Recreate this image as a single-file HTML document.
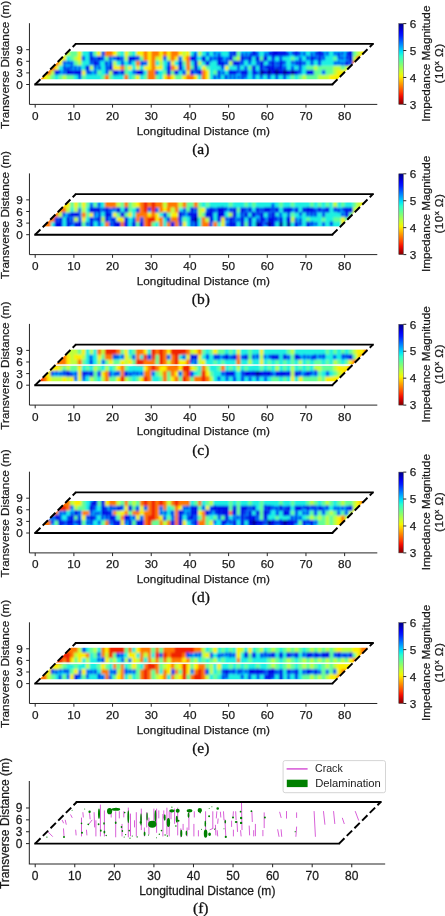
<!DOCTYPE html>
<html><head><meta charset="utf-8"><style>
html,body{margin:0;padding:0;background:#fff;}
svg{display:block;will-change:transform;}
.t{font-family:"Liberation Sans",sans-serif;font-size:11.75px;fill:#1a1a1a;stroke:#1a1a1a;stroke-width:0.25px;}
.c{font-family:"Liberation Serif",serif;font-size:15.5px;fill:#111;stroke:#111;stroke-width:0.3px;}
.lg{font-family:"Liberation Sans",sans-serif;font-size:10.2px;fill:#1a1a1a;}
</style></head><body>
<svg width="445" height="916" viewBox="0 0 445 916">
<defs><linearGradient id="cb" x1="0" y1="0" x2="0" y2="1"><stop offset="0.000" stop-color="#000080"/><stop offset="0.050" stop-color="#0000b9"/><stop offset="0.100" stop-color="#0000f3"/><stop offset="0.150" stop-color="#0019ff"/><stop offset="0.200" stop-color="#004dff"/><stop offset="0.250" stop-color="#0080ff"/><stop offset="0.300" stop-color="#00b2ff"/><stop offset="0.350" stop-color="#00e5f7"/><stop offset="0.400" stop-color="#29ffce"/><stop offset="0.450" stop-color="#52ffa5"/><stop offset="0.500" stop-color="#7bff7b"/><stop offset="0.550" stop-color="#a5ff52"/><stop offset="0.600" stop-color="#ceff29"/><stop offset="0.650" stop-color="#f7f600"/><stop offset="0.700" stop-color="#ffc600"/><stop offset="0.750" stop-color="#ff9700"/><stop offset="0.800" stop-color="#ff6800"/><stop offset="0.850" stop-color="#ff3900"/><stop offset="0.900" stop-color="#f30900"/><stop offset="0.950" stop-color="#b90000"/><stop offset="1.000" stop-color="#800000"/></linearGradient><filter id="bl" x="-5%" y="-20%" width="110%" height="140%"><feGaussianBlur stdDeviation="0.8 1.0"/></filter></defs>
<g transform="translate(35.2,84.5)"><clipPath id="cl0"><polygon points="5.0,-5.0 302.1,-5.0 330.1,-33.1 33.1,-33.1"/></clipPath>
<g clip-path="url(#cl0)"><g filter="url(#bl)">
<path fill="rgb(190,255,60)" d="M-3 -36.1H35.1V-28.1H-3zM147 -36.1H151.2V-28.1H147zM162.5 -36.1H166.6V-28.1H162.5zM321 -36.1H325.2V-28.1H321zM38.7 -28.4H42.8V-23.4H38.7zM89 -28.4H93.1V-23.4H89zM119.9 -28.4H124.1V-23.4H119.9zM131.5 -28.4H135.7V-23.4H131.5zM201.1 -28.4H205.3V-23.4H201.1zM317.2 -28.4H321.3V-23.4H317.2zM42.5 -23.7H46.7V-18.8H42.5zM77.4 -23.7H81.5V-18.8H77.4zM123.8 -23.7H127.9V-18.8H123.8zM162.5 -23.7H166.6V-18.8H162.5zM193.4 -23.7H197.6V-18.8H193.4zM54.2 -19.1H58.3V-14.1H54.2zM278.5 -19.1H282.7V-14.1H278.5zM297.8 -19.1H305.9V-14.1H297.8zM309.4 -19.1H313.6V-14.1H309.4zM15.5 -14.4H19.6V-9.4H15.5zM73.5 -14.4H77.7V-9.4H73.5zM297.8 -14.4H302V-9.4H297.8zM11.6 -9.7H15.8V-1.7H11.6zM27.1 -9.7H31.2V-1.7H27.1zM266.9 -9.7H271.1V-1.7H266.9zM282.4 -9.7H294.3V-1.7H282.4z"/>
<path fill="rgb(100,255,150)" d="M34.8 -36.1H42.8V-28.1H34.8zM58 -36.1H62.2V-28.1H58zM81.2 -36.1H85.4V-28.1H81.2zM92.8 -36.1H97V-28.1H92.8zM201.1 -36.1H205.3V-28.1H201.1zM317.2 -36.1H321.3V-28.1H317.2zM34.8 -28.4H39V-23.4H34.8zM69.6 -28.4H73.8V-23.4H69.6zM104.4 -28.4H108.6V-23.4H104.4zM197.3 -28.4H201.4V-23.4H197.3zM224.3 -28.4H228.5V-23.4H224.3zM255.3 -28.4H259.5V-23.4H255.3zM297.8 -28.4H302V-23.4H297.8zM38.7 -23.7H42.8V-18.8H38.7zM147 -23.7H151.2V-18.8H147zM89 -19.1H93.1V-14.1H89zM154.7 -19.1H158.9V-14.1H154.7zM170.2 -19.1H174.4V-14.1H170.2zM212.7 -19.1H216.9V-14.1H212.7zM270.8 -19.1H278.8V-14.1H270.8zM282.4 -19.1H298.1V-14.1H282.4zM305.6 -19.1H309.7V-14.1H305.6zM61.9 -14.4H66.1V-9.4H61.9zM89 -14.4H93.1V-9.4H89zM127.6 -14.4H131.8V-9.4H127.6zM135.4 -14.4H139.5V-9.4H135.4zM177.9 -14.4H182.1V-9.4H177.9zM278.5 -14.4H286.5V-9.4H278.5zM290.1 -14.4H298.1V-9.4H290.1zM15.5 -9.7H19.6V-1.7H15.5zM23.2 -9.7H27.4V-1.7H23.2zM30.9 -9.7H39V-1.7H30.9zM46.4 -9.7H50.6V-1.7H46.4zM65.8 -9.7H69.9V-1.7H65.8zM73.5 -9.7H77.7V-1.7H73.5zM96.7 -9.7H100.9V-1.7H96.7zM108.3 -9.7H112.5V-1.7H108.3zM119.9 -9.7H124.1V-1.7H119.9zM139.2 -9.7H147.3V-1.7H139.2zM255.3 -9.7H259.5V-1.7H255.3zM263 -9.7H267.2V-1.7H263zM270.8 -9.7H282.7V-1.7H270.8z"/>
<path fill="rgb(250,240,0)" d="M42.5 -36.1H46.7V-28.1H42.5zM61.9 -36.1H66.1V-28.1H61.9zM77.4 -36.1H81.5V-28.1H77.4zM89 -36.1H93.1V-28.1H89zM100.6 -36.1H108.6V-28.1H100.6zM112.2 -36.1H116.3V-28.1H112.2zM123.8 -36.1H127.9V-28.1H123.8zM131.5 -36.1H135.7V-28.1H131.5zM143.1 -36.1H147.3V-28.1H143.1zM150.9 -36.1H155V-28.1H150.9zM324.9 -36.1H346.7V-28.1H324.9zM-3 -28.4H31.2V-23.4H-3zM42.5 -28.4H46.7V-23.4H42.5zM112.2 -28.4H116.3V-23.4H112.2zM123.8 -28.4H127.9V-23.4H123.8zM139.2 -28.4H143.4V-23.4H139.2zM147 -28.4H151.2V-23.4H147zM23.2 -23.7H27.4V-18.8H23.2zM112.2 -23.7H116.3V-18.8H112.2zM135.4 -23.7H139.5V-18.8H135.4zM19.3 -19.1H23.5V-14.1H19.3zM77.4 -19.1H85.4V-14.1H77.4zM92.8 -19.1H97V-14.1H92.8zM100.6 -19.1H104.7V-14.1H100.6zM108.3 -19.1H116.3V-14.1H108.3zM119.9 -19.1H127.9V-14.1H119.9zM139.2 -19.1H143.4V-14.1H139.2zM166.3 -19.1H170.5V-14.1H166.3zM189.5 -19.1H193.7V-14.1H189.5zM313.3 -19.1H346.7V-14.1H313.3zM46.4 -14.4H50.6V-9.4H46.4zM150.9 -14.4H155V-9.4H150.9zM170.2 -14.4H174.4V-9.4H170.2zM301.7 -14.4H346.7V-9.4H301.7zM7.7 -9.7H11.9V-1.7H7.7zM100.6 -9.7H104.7V-1.7H100.6zM127.6 -9.7H131.8V-1.7H127.6zM135.4 -9.7H139.5V-1.7H135.4zM147 -9.7H151.2V-1.7H147zM158.6 -9.7H162.8V-1.7H158.6zM170.2 -9.7H174.4V-1.7H170.2zM294 -9.7H346.7V-1.7H294z"/>
<path fill="rgb(30,240,225)" d="M46.4 -36.1H54.5V-28.1H46.4zM85.1 -36.1H89.3V-28.1H85.1zM96.7 -36.1H100.9V-28.1H96.7zM154.7 -36.1H158.9V-28.1H154.7zM166.3 -36.1H170.5V-28.1H166.3zM174.1 -36.1H178.2V-28.1H174.1zM185.7 -36.1H193.7V-28.1H185.7zM224.3 -36.1H228.5V-28.1H224.3zM270.8 -36.1H274.9V-28.1H270.8zM294 -36.1H298.1V-28.1H294zM30.9 -28.4H35.1V-23.4H30.9zM50.3 -28.4H54.5V-23.4H50.3zM162.5 -28.4H166.6V-23.4H162.5zM170.2 -28.4H174.4V-23.4H170.2zM216.6 -28.4H220.8V-23.4H216.6zM232.1 -28.4H236.2V-23.4H232.1zM239.8 -28.4H244V-23.4H239.8zM247.6 -28.4H255.6V-23.4H247.6zM259.2 -28.4H263.3V-23.4H259.2zM266.9 -28.4H271.1V-23.4H266.9zM290.1 -28.4H298.1V-23.4H290.1zM46.4 -23.7H54.5V-18.8H46.4zM65.8 -23.7H69.9V-18.8H65.8zM81.2 -23.7H85.4V-18.8H81.2zM89 -23.7H93.1V-18.8H89zM96.7 -23.7H100.9V-18.8H96.7zM119.9 -23.7H124.1V-18.8H119.9zM127.6 -23.7H131.8V-18.8H127.6zM139.2 -23.7H143.4V-18.8H139.2zM154.7 -23.7H158.9V-18.8H154.7zM166.3 -23.7H170.5V-18.8H166.3zM174.1 -23.7H182.1V-18.8H174.1zM208.9 -23.7H213V-18.8H208.9zM216.6 -23.7H220.8V-18.8H216.6zM228.2 -23.7H232.4V-18.8H228.2zM251.4 -23.7H255.6V-18.8H251.4zM270.8 -23.7H274.9V-18.8H270.8zM278.5 -23.7H282.7V-18.8H278.5zM286.2 -23.7H298.1V-18.8H286.2zM23.2 -19.1H27.4V-14.1H23.2zM46.4 -19.1H50.6V-14.1H46.4zM65.8 -19.1H69.9V-14.1H65.8zM96.7 -19.1H100.9V-14.1H96.7zM104.4 -19.1H108.6V-14.1H104.4zM127.6 -19.1H131.8V-14.1H127.6zM147 -19.1H151.2V-14.1H147zM162.5 -19.1H166.6V-14.1H162.5zM174.1 -19.1H186V-14.1H174.1zM193.4 -19.1H201.4V-14.1H193.4zM205 -19.1H209.2V-14.1H205zM220.5 -19.1H224.6V-14.1H220.5zM251.4 -19.1H255.6V-14.1H251.4zM259.2 -19.1H263.3V-14.1H259.2zM266.9 -19.1H271.1V-14.1H266.9zM65.8 -14.4H69.9V-9.4H65.8zM92.8 -14.4H97V-9.4H92.8zM108.3 -14.4H112.5V-9.4H108.3zM123.8 -14.4H127.9V-9.4H123.8zM143.1 -14.4H147.3V-9.4H143.1zM174.1 -14.4H178.2V-9.4H174.1zM189.5 -14.4H193.7V-9.4H189.5zM212.7 -14.4H216.9V-9.4H212.7zM266.9 -14.4H271.1V-9.4H266.9zM19.3 -9.7H23.5V-1.7H19.3zM38.7 -9.7H42.8V-1.7H38.7zM50.3 -9.7H66.1V-1.7H50.3zM77.4 -9.7H89.3V-1.7H77.4zM92.8 -9.7H97V-1.7H92.8zM104.4 -9.7H108.6V-1.7H104.4zM123.8 -9.7H127.9V-1.7H123.8zM162.5 -9.7H166.6V-1.7H162.5zM174.1 -9.7H178.2V-1.7H174.1zM185.7 -9.7H189.8V-1.7H185.7zM212.7 -9.7H216.9V-1.7H212.7zM220.5 -9.7H224.6V-1.7H220.5zM228.2 -9.7H232.4V-1.7H228.2zM235.9 -9.7H240.1V-1.7H235.9zM243.7 -9.7H247.9V-1.7H243.7zM251.4 -9.7H255.6V-1.7H251.4zM259.2 -9.7H263.3V-1.7H259.2z"/>
<path fill="rgb(0,215,255)" d="M54.2 -36.1H58.3V-28.1H54.2zM65.8 -36.1H69.9V-28.1H65.8zM158.6 -36.1H162.8V-28.1H158.6zM170.2 -36.1H174.4V-28.1H170.2zM177.9 -36.1H186V-28.1H177.9zM193.4 -36.1H197.6V-28.1H193.4zM205 -36.1H216.9V-28.1H205zM220.5 -36.1H224.6V-28.1H220.5zM228.2 -36.1H236.2V-28.1H228.2zM251.4 -36.1H259.5V-28.1H251.4zM263 -36.1H271.1V-28.1H263zM274.6 -36.1H282.7V-28.1H274.6zM286.2 -36.1H294.3V-28.1H286.2zM297.8 -36.1H313.6V-28.1H297.8zM46.4 -28.4H50.6V-23.4H46.4zM58 -28.4H62.2V-23.4H58zM65.8 -28.4H69.9V-23.4H65.8zM73.5 -28.4H81.5V-23.4H73.5zM85.1 -28.4H89.3V-23.4H85.1zM100.6 -28.4H104.7V-23.4H100.6zM127.6 -28.4H131.8V-23.4H127.6zM143.1 -28.4H147.3V-23.4H143.1zM158.6 -28.4H162.8V-23.4H158.6zM174.1 -28.4H182.1V-23.4H174.1zM185.7 -28.4H193.7V-23.4H185.7zM208.9 -28.4H213V-23.4H208.9zM235.9 -28.4H240.1V-23.4H235.9zM243.7 -28.4H247.9V-23.4H243.7zM263 -28.4H267.2V-23.4H263zM270.8 -28.4H274.9V-23.4H270.8zM278.5 -28.4H282.7V-23.4H278.5zM286.2 -28.4H290.4V-23.4H286.2zM301.7 -28.4H313.6V-23.4H301.7zM27.1 -23.7H39V-18.8H27.1zM54.2 -23.7H58.3V-18.8H54.2zM61.9 -23.7H66.1V-18.8H61.9zM69.6 -23.7H77.7V-18.8H69.6zM85.1 -23.7H89.3V-18.8H85.1zM92.8 -23.7H97V-18.8H92.8zM104.4 -23.7H112.5V-18.8H104.4zM131.5 -23.7H135.7V-18.8H131.5zM189.5 -23.7H193.7V-18.8H189.5zM205 -23.7H209.2V-18.8H205zM212.7 -23.7H216.9V-18.8H212.7zM220.5 -23.7H224.6V-18.8H220.5zM232.1 -23.7H236.2V-18.8H232.1zM239.8 -23.7H244V-18.8H239.8zM247.6 -23.7H251.7V-18.8H247.6zM255.3 -23.7H263.3V-18.8H255.3zM266.9 -23.7H271.1V-18.8H266.9zM274.6 -23.7H278.8V-18.8H274.6zM282.4 -23.7H286.5V-18.8H282.4zM297.8 -23.7H309.7V-18.8H297.8zM313.3 -23.7H317.5V-18.8H313.3zM27.1 -19.1H46.7V-14.1H27.1zM58 -19.1H66.1V-14.1H58zM69.6 -19.1H73.8V-14.1H69.6zM185.7 -19.1H189.8V-14.1H185.7zM201.1 -19.1H205.3V-14.1H201.1zM208.9 -19.1H213V-14.1H208.9zM228.2 -19.1H232.4V-14.1H228.2zM239.8 -19.1H244V-14.1H239.8zM247.6 -19.1H251.7V-14.1H247.6zM255.3 -19.1H259.5V-14.1H255.3zM263 -19.1H267.2V-14.1H263zM23.2 -14.4H31.2V-9.4H23.2zM50.3 -14.4H62.2V-9.4H50.3zM69.6 -14.4H73.8V-9.4H69.6zM81.2 -14.4H85.4V-9.4H81.2zM96.7 -14.4H100.9V-9.4H96.7zM119.9 -14.4H124.1V-9.4H119.9zM147 -14.4H151.2V-9.4H147zM158.6 -14.4H162.8V-9.4H158.6zM181.8 -14.4H189.8V-9.4H181.8zM201.1 -14.4H205.3V-9.4H201.1zM220.5 -14.4H224.6V-9.4H220.5zM263 -14.4H267.2V-9.4H263zM286.2 -14.4H290.4V-9.4H286.2zM42.5 -9.7H46.7V-1.7H42.5zM177.9 -9.7H186V-1.7H177.9zM189.5 -9.7H213V-1.7H189.5zM216.6 -9.7H220.8V-1.7H216.6zM224.3 -9.7H228.5V-1.7H224.3zM232.1 -9.7H236.2V-1.7H232.1zM239.8 -9.7H244V-1.7H239.8zM247.6 -9.7H251.7V-1.7H247.6z"/>
<path fill="rgb(255,120,0)" d="M69.6 -36.1H77.7V-28.1H69.6zM108.3 -36.1H112.5V-28.1H108.3zM116 -36.1H124.1V-28.1H116zM127.6 -36.1H131.8V-28.1H127.6zM135.4 -36.1H143.4V-28.1H135.4zM108.3 -28.4H112.5V-23.4H108.3zM116 -28.4H120.2V-23.4H116zM135.4 -28.4H139.5V-23.4H135.4zM150.9 -28.4H155V-23.4H150.9zM321 -28.4H346.7V-23.4H321zM-3 -23.7H23.5V-18.8H-3zM100.6 -23.7H104.7V-18.8H100.6zM116 -23.7H120.2V-18.8H116zM150.9 -23.7H155V-18.8H150.9zM317.2 -23.7H346.7V-18.8H317.2zM-3 -19.1H19.6V-14.1H-3zM85.1 -19.1H89.3V-14.1H85.1zM116 -19.1H120.2V-14.1H116zM135.4 -19.1H139.5V-14.1H135.4zM150.9 -19.1H155V-14.1H150.9zM-3 -14.4H15.8V-9.4H-3zM112.2 -14.4H120.2V-9.4H112.2zM166.3 -14.4H170.5V-9.4H166.3zM-3 -9.7H8V-1.7H-3zM69.6 -9.7H73.8V-1.7H69.6zM89 -9.7H93.1V-1.7H89zM112.2 -9.7H120.2V-1.7H112.2zM131.5 -9.7H135.7V-1.7H131.5zM150.9 -9.7H158.9V-1.7H150.9zM166.3 -9.7H170.5V-1.7H166.3z"/>
<path fill="rgb(0,50,245)" d="M197.3 -36.1H201.4V-28.1H197.3zM216.6 -36.1H220.8V-28.1H216.6zM235.9 -36.1H251.7V-28.1H235.9zM259.2 -36.1H263.3V-28.1H259.2zM282.4 -36.1H286.5V-28.1H282.4zM313.3 -36.1H317.5V-28.1H313.3zM54.2 -28.4H58.3V-23.4H54.2zM61.9 -28.4H66.1V-23.4H61.9zM81.2 -28.4H85.4V-23.4H81.2zM92.8 -28.4H100.9V-23.4H92.8zM154.7 -28.4H158.9V-23.4H154.7zM166.3 -28.4H170.5V-23.4H166.3zM181.8 -28.4H186V-23.4H181.8zM193.4 -28.4H197.6V-23.4H193.4zM205 -28.4H209.2V-23.4H205zM212.7 -28.4H216.9V-23.4H212.7zM220.5 -28.4H224.6V-23.4H220.5zM228.2 -28.4H232.4V-23.4H228.2zM274.6 -28.4H278.8V-23.4H274.6zM282.4 -28.4H286.5V-23.4H282.4zM313.3 -28.4H317.5V-23.4H313.3zM58 -23.7H62.2V-18.8H58zM143.1 -23.7H147.3V-18.8H143.1zM158.6 -23.7H162.8V-18.8H158.6zM170.2 -23.7H174.4V-18.8H170.2zM181.8 -23.7H189.8V-18.8H181.8zM197.3 -23.7H205.3V-18.8H197.3zM224.3 -23.7H228.5V-18.8H224.3zM235.9 -23.7H240.1V-18.8H235.9zM243.7 -23.7H247.9V-18.8H243.7zM263 -23.7H267.2V-18.8H263zM309.4 -23.7H313.6V-18.8H309.4zM50.3 -19.1H54.5V-14.1H50.3zM73.5 -19.1H77.7V-14.1H73.5zM131.5 -19.1H135.7V-14.1H131.5zM143.1 -19.1H147.3V-14.1H143.1zM158.6 -19.1H162.8V-14.1H158.6zM216.6 -19.1H220.8V-14.1H216.6zM224.3 -19.1H228.5V-14.1H224.3zM232.1 -19.1H240.1V-14.1H232.1zM243.7 -19.1H247.9V-14.1H243.7zM19.3 -14.4H23.5V-9.4H19.3zM30.9 -14.4H46.7V-9.4H30.9zM77.4 -14.4H81.5V-9.4H77.4zM85.1 -14.4H89.3V-9.4H85.1zM100.6 -14.4H108.6V-9.4H100.6zM131.5 -14.4H135.7V-9.4H131.5zM139.2 -14.4H143.4V-9.4H139.2zM154.7 -14.4H158.9V-9.4H154.7zM162.5 -14.4H166.6V-9.4H162.5zM193.4 -14.4H201.4V-9.4H193.4zM205 -14.4H213V-9.4H205zM216.6 -14.4H220.8V-9.4H216.6zM228.2 -14.4H232.4V-9.4H228.2zM235.9 -14.4H240.1V-9.4H235.9zM243.7 -14.4H247.9V-9.4H243.7zM251.4 -14.4H255.6V-9.4H251.4zM259.2 -14.4H263.3V-9.4H259.2zM270.8 -14.4H278.8V-9.4H270.8z"/>
<path fill="rgb(0,10,190)" d="M224.3 -14.4H228.5V-9.4H224.3zM232.1 -14.4H236.2V-9.4H232.1zM239.8 -14.4H244V-9.4H239.8zM247.6 -14.4H251.7V-9.4H247.6zM255.3 -14.4H259.5V-9.4H255.3z"/>
<path fill="rgb(0,25,235)" d="M54.3 -30.5a1.5 2.3 0 1 0 2.9 0a1.5 2.3 0 1 0 -2.9 0zM66.5 -30.7a1.5 2.3 0 1 0 2.9 0a1.5 2.3 0 1 0 -2.9 0zM158.6 -30.2a1.5 2 0 1 0 2.9 0a1.5 2 0 1 0 -2.9 0zM171.1 -30.4a1.4 2.1 0 1 0 2.9 0a1.4 2.1 0 1 0 -2.9 0zM178.2 -30.9a1.4 2 0 1 0 2.8 0a1.4 2 0 1 0 -2.8 0zM182.3 -30.2a1.6 2 0 1 0 3.2 0a1.6 2 0 1 0 -3.2 0zM193.8 -31.1a1.6 2.3 0 1 0 3.1 0a1.6 2.3 0 1 0 -3.1 0zM205.7 -30.3a1.5 2 0 1 0 3 0a1.5 2 0 1 0 -3 0zM209.8 -30.6a1.4 2.1 0 1 0 2.8 0a1.4 2.1 0 1 0 -2.8 0zM213.7 -30.2a1.4 2.2 0 1 0 2.8 0a1.4 2.2 0 1 0 -2.8 0zM220.7 -30.9a1.5 2.2 0 1 0 3 0a1.5 2.2 0 1 0 -3 0zM229.1 -30.4a1.4 2.1 0 1 0 2.9 0a1.4 2.1 0 1 0 -2.9 0zM232.8 -31a1.6 2.2 0 1 0 3.1 0a1.6 2.2 0 1 0 -3.1 0zM251.6 -30.6a1.4 2.2 0 1 0 2.9 0a1.4 2.2 0 1 0 -2.9 0zM256 -31.3a1.5 2.1 0 1 0 3 0a1.5 2.1 0 1 0 -3 0zM263.2 -30.9a1.4 2.3 0 1 0 2.9 0a1.4 2.3 0 1 0 -2.9 0zM267.5 -30.8a1.5 2.2 0 1 0 3 0a1.5 2.2 0 1 0 -3 0zM275.1 -30.4a1.5 2 0 1 0 3 0a1.5 2 0 1 0 -3 0zM279.4 -31a1.4 2 0 1 0 2.7 0a1.4 2 0 1 0 -2.7 0zM286.2 -30.7a1.6 2.1 0 1 0 3.1 0a1.6 2.1 0 1 0 -3.1 0zM290.6 -31.1a1.4 2.1 0 1 0 2.9 0a1.4 2.1 0 1 0 -2.9 0zM298.4 -31.1a1.4 2 0 1 0 2.8 0a1.4 2 0 1 0 -2.8 0zM302 -30.2a1.6 2.2 0 1 0 3.1 0a1.6 2.2 0 1 0 -3.1 0zM306 -31.1a1.4 2.2 0 1 0 2.8 0a1.4 2.2 0 1 0 -2.8 0zM310.4 -31a1.4 2.1 0 1 0 2.9 0a1.4 2.1 0 1 0 -2.9 0zM46.7 -26.3a1.4 2 0 1 0 2.7 0a1.4 2 0 1 0 -2.7 0zM58.3 -25.8a1.5 2.1 0 1 0 3 0a1.5 2.1 0 1 0 -3 0zM66 -25.6a1.5 2 0 1 0 3.1 0a1.5 2 0 1 0 -3.1 0zM73.4 -26a1.5 2.2 0 1 0 3 0a1.5 2.2 0 1 0 -3 0zM77.5 -26.4a1.4 2.1 0 1 0 2.9 0a1.4 2.1 0 1 0 -2.9 0zM85.7 -25.9a1.5 2 0 1 0 3 0a1.5 2 0 1 0 -3 0zM101.2 -26.6a1.6 2 0 1 0 3.1 0a1.6 2 0 1 0 -3.1 0zM128.2 -26.5a1.4 2 0 1 0 2.7 0a1.4 2 0 1 0 -2.7 0zM143.1 -26a1.5 2 0 1 0 3 0a1.5 2 0 1 0 -3 0zM158.6 -26.2a1.6 2.2 0 1 0 3.1 0a1.6 2.2 0 1 0 -3.1 0zM174 -25.6a1.6 2.3 0 1 0 3.1 0a1.6 2.3 0 1 0 -3.1 0zM178.1 -26.2a1.5 2.3 0 1 0 3.1 0a1.5 2.3 0 1 0 -3.1 0zM185.7 -26.1a1.5 2 0 1 0 3 0a1.5 2 0 1 0 -3 0zM190.1 -25.6a1.4 2 0 1 0 2.8 0a1.4 2 0 1 0 -2.8 0zM209.5 -26.6a1.4 2.3 0 1 0 2.8 0a1.4 2.3 0 1 0 -2.8 0zM236.4 -26.6a1.6 2.2 0 1 0 3.1 0a1.6 2.2 0 1 0 -3.1 0zM244 -25.9a1.4 2.1 0 1 0 2.8 0a1.4 2.1 0 1 0 -2.8 0zM263.4 -25.6a1.5 2 0 1 0 3.1 0a1.5 2 0 1 0 -3.1 0zM270.8 -26.6a1.5 2.3 0 1 0 3.1 0a1.5 2.3 0 1 0 -3.1 0zM278.9 -26.4a1.4 2 0 1 0 2.9 0a1.4 2 0 1 0 -2.9 0zM287.2 -26.3a1.4 2 0 1 0 2.8 0a1.4 2 0 1 0 -2.8 0zM302.6 -26.5a1.4 2.2 0 1 0 2.8 0a1.4 2.2 0 1 0 -2.8 0zM306 -26.2a1.4 2.2 0 1 0 2.8 0a1.4 2.2 0 1 0 -2.8 0zM310.2 -26.6a1.5 2.1 0 1 0 2.9 0a1.5 2.1 0 1 0 -2.9 0zM27.9 -21.7a1.4 2.3 0 1 0 2.9 0a1.4 2.3 0 1 0 -2.9 0zM31.5 -21.6a1.5 2.2 0 1 0 3 0a1.5 2.2 0 1 0 -3 0zM35.2 -21.1a1.4 2.3 0 1 0 2.9 0a1.4 2.3 0 1 0 -2.9 0zM54.4 -21.7a1.5 2.2 0 1 0 3.1 0a1.5 2.2 0 1 0 -3.1 0zM61.9 -21a1.5 2.3 0 1 0 3 0a1.5 2.3 0 1 0 -3 0zM69.7 -21.2a1.6 2.1 0 1 0 3.1 0a1.6 2.1 0 1 0 -3.1 0zM74.1 -20.9a1.5 2.2 0 1 0 2.9 0a1.5 2.2 0 1 0 -2.9 0zM85.8 -21.1a1.5 2.3 0 1 0 2.9 0a1.5 2.3 0 1 0 -2.9 0zM93.1 -21.9a1.6 2.1 0 1 0 3.2 0a1.6 2.1 0 1 0 -3.2 0zM105.3 -21.1a1.6 2.1 0 1 0 3.1 0a1.6 2.1 0 1 0 -3.1 0zM109.1 -21.2a1.4 2.2 0 1 0 2.8 0a1.4 2.2 0 1 0 -2.8 0zM132.4 -21.1a1.5 2.1 0 1 0 2.9 0a1.5 2.1 0 1 0 -2.9 0zM190.2 -21.5a1.5 2.2 0 1 0 3.1 0a1.5 2.2 0 1 0 -3.1 0zM205.6 -21.4a1.5 2.3 0 1 0 3 0a1.5 2.3 0 1 0 -3 0zM212.9 -22a1.5 2.1 0 1 0 3 0a1.5 2.1 0 1 0 -3 0zM220.9 -20.9a1.4 2.2 0 1 0 2.8 0a1.4 2.2 0 1 0 -2.8 0zM232.9 -21.8a1.4 2.1 0 1 0 2.8 0a1.4 2.1 0 1 0 -2.8 0zM240.5 -21.3a1.5 2 0 1 0 3 0a1.5 2 0 1 0 -3 0zM248 -21.9a1.4 2 0 1 0 2.9 0a1.4 2 0 1 0 -2.9 0zM256 -21.8a1.4 2.1 0 1 0 2.8 0a1.4 2.1 0 1 0 -2.8 0zM259.6 -21.5a1.6 2.2 0 1 0 3.1 0a1.6 2.2 0 1 0 -3.1 0zM267.9 -21.3a1.4 2.1 0 1 0 2.9 0a1.4 2.1 0 1 0 -2.9 0zM275.2 -21.2a1.5 2.2 0 1 0 3.1 0a1.5 2.2 0 1 0 -3.1 0zM282.8 -21.4a1.5 2.3 0 1 0 2.9 0a1.5 2.3 0 1 0 -2.9 0zM298.6 -21.5a1.4 2 0 1 0 2.9 0a1.4 2 0 1 0 -2.9 0zM302.2 -21.8a1.4 2 0 1 0 2.9 0a1.4 2 0 1 0 -2.9 0zM305.5 -21a1.5 2.1 0 1 0 3 0a1.5 2.1 0 1 0 -3 0zM314.1 -21.6a1.5 2.3 0 1 0 3.1 0a1.5 2.3 0 1 0 -3.1 0zM27.9 -16.3a1.6 2.3 0 1 0 3.1 0a1.6 2.3 0 1 0 -3.1 0zM31.6 -16.2a1.5 2.2 0 1 0 3 0a1.5 2.2 0 1 0 -3 0zM35 -17a1.5 2.3 0 1 0 3 0a1.5 2.3 0 1 0 -3 0zM38.8 -16.7a1.4 2.1 0 1 0 2.9 0a1.4 2.1 0 1 0 -2.9 0zM42.8 -16.8a1.4 2 0 1 0 2.8 0a1.4 2 0 1 0 -2.8 0zM58.7 -17a1.4 2.3 0 1 0 2.8 0a1.4 2.3 0 1 0 -2.8 0zM62.8 -16.6a1.4 2.2 0 1 0 2.8 0a1.4 2.2 0 1 0 -2.8 0zM70.2 -16.6a1.4 2.3 0 1 0 2.9 0a1.4 2.3 0 1 0 -2.9 0zM185.8 -17.3a1.5 2 0 1 0 2.9 0a1.5 2 0 1 0 -2.9 0zM201.8 -16.6a1.5 2.1 0 1 0 3 0a1.5 2.1 0 1 0 -3 0zM209.2 -16.6a1.4 2.1 0 1 0 2.9 0a1.4 2.1 0 1 0 -2.9 0zM228.9 -17.3a1.5 2.2 0 1 0 3 0a1.5 2.2 0 1 0 -3 0zM240.4 -16.6a1.6 2.1 0 1 0 3.1 0a1.6 2.1 0 1 0 -3.1 0zM248.4 -16.2a1.4 2.2 0 1 0 2.7 0a1.4 2.2 0 1 0 -2.7 0zM255.8 -16.4a1.5 2.3 0 1 0 3 0a1.5 2.3 0 1 0 -3 0zM263.6 -16.5a1.4 2.3 0 1 0 2.7 0a1.4 2.3 0 1 0 -2.7 0zM23.2 -12.5a1.4 2.2 0 1 0 2.9 0a1.4 2.2 0 1 0 -2.9 0zM27.3 -11.7a1.4 2 0 1 0 2.9 0a1.4 2 0 1 0 -2.9 0zM51 -12.3a1.6 2.2 0 1 0 3.2 0a1.6 2.2 0 1 0 -3.2 0zM54.2 -11.8a1.4 2 0 1 0 2.9 0a1.4 2 0 1 0 -2.9 0zM58.5 -12.3a1.5 2.3 0 1 0 3 0a1.5 2.3 0 1 0 -3 0zM70.3 -12.6a1.5 2.2 0 1 0 3.1 0a1.5 2.2 0 1 0 -3.1 0zM81.4 -11.8a1.4 2.2 0 1 0 2.7 0a1.4 2.2 0 1 0 -2.7 0zM97.3 -12.5a1.5 2.2 0 1 0 3 0a1.5 2.2 0 1 0 -3 0zM120 -11.8a1.5 2.1 0 1 0 3.1 0a1.5 2.1 0 1 0 -3.1 0zM147.4 -11.8a1.5 2.2 0 1 0 2.9 0a1.5 2.2 0 1 0 -2.9 0zM159.5 -12.4a1.5 2.3 0 1 0 3 0a1.5 2.3 0 1 0 -3 0zM182.3 -12a1.6 2.2 0 1 0 3.1 0a1.6 2.2 0 1 0 -3.1 0zM186.6 -11.6a1.4 2.1 0 1 0 2.8 0a1.4 2.1 0 1 0 -2.8 0zM201.5 -12.6a1.5 2 0 1 0 3 0a1.5 2 0 1 0 -3 0zM220.4 -11.6a1.5 2 0 1 0 3 0a1.5 2 0 1 0 -3 0zM263.4 -12.4a1.5 2.2 0 1 0 3 0a1.5 2.2 0 1 0 -3 0zM287.1 -12.3a1.4 2.1 0 1 0 2.9 0a1.4 2.1 0 1 0 -2.9 0zM43 -7.5a1.5 2.1 0 1 0 2.9 0a1.5 2.1 0 1 0 -2.9 0zM178.2 -7a1.4 2.3 0 1 0 2.7 0a1.4 2.3 0 1 0 -2.7 0zM182.5 -7.8a1.5 2.3 0 1 0 2.9 0a1.5 2.3 0 1 0 -2.9 0zM189.4 -7.3a1.6 2.2 0 1 0 3.1 0a1.6 2.2 0 1 0 -3.1 0zM193.8 -7.1a1.5 2.2 0 1 0 3 0a1.5 2.2 0 1 0 -3 0zM197.7 -7a1.5 2.2 0 1 0 3.1 0a1.5 2.2 0 1 0 -3.1 0zM202 -7.2a1.4 2.1 0 1 0 2.8 0a1.4 2.1 0 1 0 -2.8 0zM205.7 -6.9a1.5 2.2 0 1 0 2.9 0a1.5 2.2 0 1 0 -2.9 0zM209.1 -7.8a1.4 2.1 0 1 0 2.8 0a1.4 2.1 0 1 0 -2.8 0zM217.2 -7.3a1.5 2.3 0 1 0 3 0a1.5 2.3 0 1 0 -3 0zM224.6 -7.8a1.4 2.2 0 1 0 2.8 0a1.4 2.2 0 1 0 -2.8 0zM232.2 -7.6a1.5 2.3 0 1 0 2.9 0a1.5 2.3 0 1 0 -2.9 0zM240.2 -7a1.4 2.3 0 1 0 2.7 0a1.4 2.3 0 1 0 -2.7 0zM248.1 -7.2a1.4 2.3 0 1 0 2.7 0a1.4 2.3 0 1 0 -2.7 0z"/>
<path fill="rgb(0,0,225)" d="M197.8 -30.9a1.6 2.1 0 1 0 3.2 0a1.6 2.1 0 1 0 -3.2 0zM216.9 -30.7a1.7 2.3 0 1 0 3.4 0a1.7 2.3 0 1 0 -3.4 0zM236.5 -30.4a1.8 2.3 0 1 0 3.5 0a1.8 2.3 0 1 0 -3.5 0zM240.1 -31.2a1.7 2.3 0 1 0 3.3 0a1.7 2.3 0 1 0 -3.3 0zM244 -30.4a1.7 2.1 0 1 0 3.5 0a1.7 2.1 0 1 0 -3.5 0zM248.1 -30.6a1.6 2.1 0 1 0 3.2 0a1.6 2.1 0 1 0 -3.2 0zM259.1 -30.5a1.6 2.3 0 1 0 3.2 0a1.6 2.3 0 1 0 -3.2 0zM282.3 -31.2a1.6 2.3 0 1 0 3.2 0a1.6 2.3 0 1 0 -3.2 0zM313.3 -30.7a1.8 2.4 0 1 0 3.5 0a1.8 2.4 0 1 0 -3.5 0zM54.5 -25.7a1.7 2.4 0 1 0 3.4 0a1.7 2.4 0 1 0 -3.4 0zM61.7 -25.9a1.8 2.1 0 1 0 3.5 0a1.8 2.1 0 1 0 -3.5 0zM81.1 -26.3a1.7 2.3 0 1 0 3.5 0a1.7 2.3 0 1 0 -3.5 0zM93.3 -25.6a1.6 2.2 0 1 0 3.1 0a1.6 2.2 0 1 0 -3.1 0zM97.1 -26.1a1.6 2.2 0 1 0 3.2 0a1.6 2.2 0 1 0 -3.2 0zM155.5 -25.9a1.6 2.3 0 1 0 3.2 0a1.6 2.3 0 1 0 -3.2 0zM167.1 -25.6a1.6 2.4 0 1 0 3.1 0a1.6 2.4 0 1 0 -3.1 0zM181.7 -26a1.6 2.2 0 1 0 3.1 0a1.6 2.2 0 1 0 -3.1 0zM194 -26a1.7 2.1 0 1 0 3.4 0a1.7 2.1 0 1 0 -3.4 0zM205.7 -26.6a1.7 2.3 0 1 0 3.5 0a1.7 2.3 0 1 0 -3.5 0zM212.6 -26.3a1.8 2.1 0 1 0 3.5 0a1.8 2.1 0 1 0 -3.5 0zM220.5 -25.5a1.8 2.3 0 1 0 3.5 0a1.8 2.3 0 1 0 -3.5 0zM228.3 -25.7a1.6 2.2 0 1 0 3.1 0a1.6 2.2 0 1 0 -3.1 0zM274.8 -26.1a1.8 2.1 0 1 0 3.5 0a1.8 2.1 0 1 0 -3.5 0zM282.5 -25.6a1.6 2.2 0 1 0 3.2 0a1.6 2.2 0 1 0 -3.2 0zM314 -25.5a1.6 2.2 0 1 0 3.1 0a1.6 2.2 0 1 0 -3.1 0zM58.4 -21.9a1.6 2.1 0 1 0 3.1 0a1.6 2.1 0 1 0 -3.1 0zM143.4 -21.2a1.7 2.1 0 1 0 3.5 0a1.7 2.1 0 1 0 -3.5 0zM159.3 -21.4a1.6 2.1 0 1 0 3.2 0a1.6 2.1 0 1 0 -3.2 0zM170.6 -21.6a1.7 2.2 0 1 0 3.4 0a1.7 2.2 0 1 0 -3.4 0zM182.2 -21.5a1.8 2.2 0 1 0 3.6 0a1.8 2.2 0 1 0 -3.6 0zM186.5 -21a1.6 2.3 0 1 0 3.2 0a1.6 2.3 0 1 0 -3.2 0zM198.1 -21.4a1.5 2.2 0 1 0 3.1 0a1.5 2.2 0 1 0 -3.1 0zM201.7 -21.5a1.6 2.1 0 1 0 3.2 0a1.6 2.1 0 1 0 -3.2 0zM224.7 -21a1.8 2.1 0 1 0 3.5 0a1.8 2.1 0 1 0 -3.5 0zM236 -21.5a1.7 2.2 0 1 0 3.3 0a1.7 2.2 0 1 0 -3.3 0zM244.3 -22a1.6 2.3 0 1 0 3.1 0a1.6 2.3 0 1 0 -3.1 0zM263.8 -21.5a1.6 2.1 0 1 0 3.3 0a1.6 2.1 0 1 0 -3.3 0zM310 -20.9a1.7 2.3 0 1 0 3.4 0a1.7 2.3 0 1 0 -3.4 0zM50.2 -16.6a1.6 2.1 0 1 0 3.3 0a1.6 2.1 0 1 0 -3.3 0zM73.8 -16.8a1.7 2.2 0 1 0 3.3 0a1.7 2.2 0 1 0 -3.3 0zM132 -16.5a1.7 2.4 0 1 0 3.4 0a1.7 2.4 0 1 0 -3.4 0zM143.9 -16.1a1.6 2.2 0 1 0 3.2 0a1.6 2.2 0 1 0 -3.2 0zM158.8 -17.2a1.7 2.4 0 1 0 3.4 0a1.7 2.4 0 1 0 -3.4 0zM216.8 -16.6a1.7 2.3 0 1 0 3.4 0a1.7 2.3 0 1 0 -3.4 0zM224.1 -17.2a1.7 2.4 0 1 0 3.5 0a1.7 2.4 0 1 0 -3.5 0zM231.9 -17.2a1.7 2.3 0 1 0 3.3 0a1.7 2.3 0 1 0 -3.3 0zM236.6 -16.4a1.6 2.4 0 1 0 3.1 0a1.6 2.4 0 1 0 -3.1 0zM243.4 -17.3a1.7 2.1 0 1 0 3.4 0a1.7 2.1 0 1 0 -3.4 0zM19.5 -12.4a1.7 2.2 0 1 0 3.4 0a1.7 2.2 0 1 0 -3.4 0zM30.8 -12.3a1.8 2.3 0 1 0 3.5 0a1.8 2.3 0 1 0 -3.5 0zM34.6 -12.2a1.7 2.1 0 1 0 3.4 0a1.7 2.1 0 1 0 -3.4 0zM39.4 -11.9a1.7 2.3 0 1 0 3.5 0a1.7 2.3 0 1 0 -3.5 0zM42.9 -12.5a1.7 2.4 0 1 0 3.4 0a1.7 2.4 0 1 0 -3.4 0zM78 -11.6a1.7 2.2 0 1 0 3.3 0a1.7 2.2 0 1 0 -3.3 0zM85.4 -11.7a1.7 2.3 0 1 0 3.4 0a1.7 2.3 0 1 0 -3.4 0zM101.2 -12a1.6 2.1 0 1 0 3.1 0a1.6 2.1 0 1 0 -3.1 0zM104.5 -12.1a1.8 2.2 0 1 0 3.5 0a1.8 2.2 0 1 0 -3.5 0zM132 -11.5a1.7 2.1 0 1 0 3.3 0a1.7 2.1 0 1 0 -3.3 0zM139 -12.1a1.7 2.1 0 1 0 3.5 0a1.7 2.1 0 1 0 -3.5 0zM155.3 -12.4a1.6 2.2 0 1 0 3.1 0a1.6 2.2 0 1 0 -3.1 0zM162.9 -12.4a1.7 2.2 0 1 0 3.3 0a1.7 2.2 0 1 0 -3.3 0zM193.4 -12.1a1.6 2.3 0 1 0 3.1 0a1.6 2.3 0 1 0 -3.1 0zM197.9 -11.9a1.7 2.2 0 1 0 3.4 0a1.7 2.2 0 1 0 -3.4 0zM205.6 -12.5a1.7 2.1 0 1 0 3.5 0a1.7 2.1 0 1 0 -3.5 0zM209.4 -11.6a1.7 2.2 0 1 0 3.4 0a1.7 2.2 0 1 0 -3.4 0zM217.1 -11.7a1.7 2.4 0 1 0 3.5 0a1.7 2.4 0 1 0 -3.5 0zM228.2 -12.6a1.7 2.4 0 1 0 3.4 0a1.7 2.4 0 1 0 -3.4 0zM236.5 -12.2a1.7 2.2 0 1 0 3.4 0a1.7 2.2 0 1 0 -3.4 0zM243.7 -11.9a1.8 2.2 0 1 0 3.5 0a1.8 2.2 0 1 0 -3.5 0zM251.5 -11.5a1.6 2.1 0 1 0 3.1 0a1.6 2.1 0 1 0 -3.1 0zM259.9 -12.5a1.6 2.3 0 1 0 3.2 0a1.6 2.3 0 1 0 -3.2 0zM271 -11.7a1.6 2.2 0 1 0 3.2 0a1.6 2.2 0 1 0 -3.2 0zM274.7 -12.4a1.6 2.3 0 1 0 3.2 0a1.6 2.3 0 1 0 -3.2 0z"/>
<path fill="rgb(0,0,140)" d="M224.9 -11.8a1.7 2.2 0 1 0 3.4 0a1.7 2.2 0 1 0 -3.4 0zM232.2 -12.2a1.7 2.1 0 1 0 3.5 0a1.7 2.1 0 1 0 -3.5 0zM239.9 -12.4a1.7 2.4 0 1 0 3.3 0a1.7 2.4 0 1 0 -3.3 0zM248.3 -12.5a1.6 2.1 0 1 0 3.1 0a1.6 2.1 0 1 0 -3.1 0zM255.9 -11.8a1.7 2.3 0 1 0 3.4 0a1.7 2.3 0 1 0 -3.4 0z"/>
</g>
</g>
<path d="M-5.75 -61.3 V19.9 H342.1" fill="none" stroke="#262626" stroke-width="1"/>
<path d="M-9 0.00 H-5.75" stroke="#262626" stroke-width="1"/>
<text x="-12.4" y="4.20" text-anchor="end" class="t">0</text>
<path d="M-9 -11.60 H-5.75" stroke="#262626" stroke-width="1"/>
<text x="-12.4" y="-7.40" text-anchor="end" class="t">3</text>
<path d="M-9 -23.21 H-5.75" stroke="#262626" stroke-width="1"/>
<text x="-12.4" y="-19.01" text-anchor="end" class="t">6</text>
<path d="M-9 -34.81 H-5.75" stroke="#262626" stroke-width="1"/>
<text x="-12.4" y="-30.61" text-anchor="end" class="t">9</text>
<path d="M0.00 19.9 V23.1" stroke="#262626" stroke-width="1"/>
<text x="0.00" y="35.4" text-anchor="middle" class="t">0</text>
<path d="M38.68 19.9 V23.1" stroke="#262626" stroke-width="1"/>
<text x="38.68" y="35.4" text-anchor="middle" class="t">10</text>
<path d="M77.36 19.9 V23.1" stroke="#262626" stroke-width="1"/>
<text x="77.36" y="35.4" text-anchor="middle" class="t">20</text>
<path d="M116.04 19.9 V23.1" stroke="#262626" stroke-width="1"/>
<text x="116.04" y="35.4" text-anchor="middle" class="t">30</text>
<path d="M154.72 19.9 V23.1" stroke="#262626" stroke-width="1"/>
<text x="154.72" y="35.4" text-anchor="middle" class="t">40</text>
<path d="M193.40 19.9 V23.1" stroke="#262626" stroke-width="1"/>
<text x="193.40" y="35.4" text-anchor="middle" class="t">50</text>
<path d="M232.08 19.9 V23.1" stroke="#262626" stroke-width="1"/>
<text x="232.08" y="35.4" text-anchor="middle" class="t">60</text>
<path d="M270.76 19.9 V23.1" stroke="#262626" stroke-width="1"/>
<text x="270.76" y="35.4" text-anchor="middle" class="t">70</text>
<path d="M309.44 19.9 V23.1" stroke="#262626" stroke-width="1"/>
<text x="309.44" y="35.4" text-anchor="middle" class="t">80</text>
<text x="168.2" y="50.06" text-anchor="middle" class="t">Longitudinal Distance (m)</text>
<text transform="translate(-26,-19.6) rotate(-90)" x="0" y="0" text-anchor="middle" class="t">Transverse Distance (m)</text>
<path d="M0 0 H297.06 M40.61 -40.61 H337.68" stroke="#000" stroke-width="1.9" fill="none" stroke-linecap="square"/>
<path d="M0 0 L40.61 -40.61 M297.06 0 L337.68 -40.61" stroke="#000" stroke-width="1.9" fill="none" stroke-dasharray="7.4 3.2"/>
<rect x="363.6" y="-60.9" width="4.5" height="80.8" fill="url(#cb)" stroke="#444" stroke-width="0.5"/>
<path d="M368.1 19.90 H371.1" stroke="#262626" stroke-width="1"/>
<text x="374.5" y="24.10" class="t">3</text>
<path d="M368.1 -7.03 H371.1" stroke="#262626" stroke-width="1"/>
<text x="374.5" y="-2.83" class="t">4</text>
<path d="M368.1 -33.96 H371.1" stroke="#262626" stroke-width="1"/>
<text x="374.5" y="-29.76" class="t">5</text>
<path d="M368.1 -60.89 H371.1" stroke="#262626" stroke-width="1"/>
<text x="374.5" y="-56.69" class="t">6</text>
<text transform="translate(394.3,-20.8) rotate(-90)" text-anchor="middle" class="t">Impedance Magnitude</text>
<text transform="translate(407.45,-20.85) rotate(-90)" text-anchor="middle" class="t" textLength="39.5" lengthAdjust="spacing">(10<tspan font-size="8" dy="-4">x</tspan><tspan dy="4"> Ω)</tspan></text></g><g transform="translate(35.2,234.7)"><clipPath id="cl1"><polygon points="8.1,-8.1 305.1,-8.1 329.1,-32.1 32.1,-32.1"/></clipPath>
<g clip-path="url(#cl1)"><g filter="url(#bl)">
<path fill="rgb(250,240,0)" d="M-3 -35.1H35.1V-27H-3zM38.7 -35.1H42.8V-27H38.7zM46.4 -35.1H50.6V-27H46.4zM100.6 -35.1H104.7V-27H100.6zM324.9 -35.1H346.7V-27H324.9zM127.6 -27.3H131.8V-22.2H127.6zM166.3 -27.3H170.5V-22.2H166.3zM321 -27.3H325.2V-22.2H321zM54.2 -22.5H58.3V-17.4H54.2zM77.4 -22.5H81.5V-17.4H77.4zM92.8 -22.5H97V-17.4H92.8zM112.2 -22.5H116.3V-17.4H112.2zM119.9 -22.5H124.1V-17.4H119.9zM135.4 -22.5H143.4V-17.4H135.4zM317.2 -22.5H321.3V-17.4H317.2zM46.4 -17.7H50.6V-12.6H46.4zM81.2 -17.7H89.3V-12.6H81.2zM119.9 -17.7H124.1V-12.6H119.9zM185.7 -17.7H189.8V-12.6H185.7zM305.6 -17.7H309.7V-12.6H305.6zM313.3 -17.7H317.5V-12.6H313.3zM147 -12.9H151.2V-4.8H147zM185.7 -12.9H189.8V-4.8H185.7zM305.6 -12.9H309.7V-4.8H305.6z"/>
<path fill="rgb(100,255,150)" d="M34.8 -35.1H39V-27H34.8zM42.5 -35.1H46.7V-27H42.5zM50.3 -35.1H54.5V-27H50.3zM58 -35.1H62.2V-27H58zM85.1 -35.1H89.3V-27H85.1zM92.8 -35.1H97V-27H92.8zM150.9 -35.1H158.9V-27H150.9zM162.5 -35.1H166.6V-27H162.5zM170.2 -35.1H174.4V-27H170.2zM193.4 -35.1H197.6V-27H193.4zM208.9 -35.1H213V-27H208.9zM216.6 -35.1H220.8V-27H216.6zM243.7 -35.1H247.9V-27H243.7zM255.3 -35.1H259.5V-27H255.3zM274.6 -35.1H278.8V-27H274.6zM282.4 -35.1H286.5V-27H282.4zM290.1 -35.1H294.3V-27H290.1zM305.6 -35.1H309.7V-27H305.6zM317.2 -35.1H321.3V-27H317.2zM92.8 -27.3H97V-22.2H92.8zM150.9 -27.3H155V-22.2H150.9zM201.1 -27.3H205.3V-22.2H201.1zM50.3 -22.5H54.5V-17.4H50.3zM81.2 -22.5H85.4V-17.4H81.2zM89 -22.5H93.1V-17.4H89zM131.5 -22.5H135.7V-17.4H131.5zM166.3 -22.5H170.5V-17.4H166.3zM255.3 -22.5H259.5V-17.4H255.3zM313.3 -22.5H317.5V-17.4H313.3zM147 -17.7H151.2V-12.6H147zM270.8 -17.7H274.9V-12.6H270.8zM286.2 -17.7H290.4V-12.6H286.2zM297.8 -17.7H305.9V-12.6H297.8zM309.4 -17.7H313.6V-12.6H309.4zM46.4 -12.9H50.6V-4.8H46.4zM100.6 -12.9H104.7V-4.8H100.6zM116 -12.9H120.2V-4.8H116zM208.9 -12.9H213V-4.8H208.9z"/>
<path fill="rgb(0,215,255)" d="M54.2 -35.1H58.3V-27H54.2zM61.9 -35.1H66.1V-27H61.9zM235.9 -35.1H240.1V-27H235.9zM42.5 -27.3H46.7V-22.2H42.5zM65.8 -27.3H69.9V-22.2H65.8zM73.5 -27.3H81.5V-22.2H73.5zM100.6 -27.3H104.7V-22.2H100.6zM112.2 -27.3H116.3V-22.2H112.2zM119.9 -27.3H124.1V-22.2H119.9zM147 -27.3H151.2V-22.2H147zM158.6 -27.3H162.8V-22.2H158.6zM170.2 -27.3H174.4V-22.2H170.2zM177.9 -27.3H182.1V-22.2H177.9zM189.5 -27.3H197.6V-22.2H189.5zM208.9 -27.3H213V-22.2H208.9zM224.3 -27.3H228.5V-22.2H224.3zM235.9 -27.3H240.1V-22.2H235.9zM255.3 -27.3H259.5V-22.2H255.3zM278.5 -27.3H282.7V-22.2H278.5zM286.2 -27.3H290.4V-22.2H286.2zM297.8 -27.3H309.7V-22.2H297.8zM27.1 -22.5H35.1V-17.4H27.1zM42.5 -22.5H46.7V-17.4H42.5zM58 -22.5H66.1V-17.4H58zM73.5 -22.5H77.7V-17.4H73.5zM127.6 -22.5H131.8V-17.4H127.6zM147 -22.5H155V-17.4H147zM205 -22.5H209.2V-17.4H205zM220.5 -22.5H224.6V-17.4H220.5zM232.1 -22.5H236.2V-17.4H232.1zM243.7 -22.5H247.9V-17.4H243.7zM251.4 -22.5H255.6V-17.4H251.4zM263 -22.5H267.2V-17.4H263zM270.8 -22.5H282.7V-17.4H270.8zM286.2 -22.5H290.4V-17.4H286.2zM305.6 -22.5H309.7V-17.4H305.6zM19.3 -17.7H23.5V-12.6H19.3zM34.8 -17.7H39V-12.6H34.8zM42.5 -17.7H46.7V-12.6H42.5zM58 -17.7H62.2V-12.6H58zM73.5 -17.7H81.5V-12.6H73.5zM96.7 -17.7H100.9V-12.6H96.7zM104.4 -17.7H108.6V-12.6H104.4zM131.5 -17.7H135.7V-12.6H131.5zM143.1 -17.7H147.3V-12.6H143.1zM189.5 -17.7H193.7V-12.6H189.5zM197.3 -17.7H205.3V-12.6H197.3zM220.5 -17.7H224.6V-12.6H220.5zM228.2 -17.7H232.4V-12.6H228.2zM239.8 -17.7H244V-12.6H239.8zM259.2 -17.7H267.2V-12.6H259.2zM34.8 -12.9H39V-4.8H34.8zM50.3 -12.9H54.5V-4.8H50.3zM61.9 -12.9H66.1V-4.8H61.9zM73.5 -12.9H77.7V-4.8H73.5zM143.1 -12.9H147.3V-4.8H143.1zM154.7 -12.9H158.9V-4.8H154.7zM174.1 -12.9H178.2V-4.8H174.1zM189.5 -12.9H193.7V-4.8H189.5zM228.2 -12.9H232.4V-4.8H228.2zM263 -12.9H267.2V-4.8H263zM274.6 -12.9H282.7V-4.8H274.6zM286.2 -12.9H290.4V-4.8H286.2zM294 -12.9H298.1V-4.8H294z"/>
<path fill="rgb(30,240,225)" d="M65.8 -35.1H69.9V-27H65.8zM166.3 -35.1H170.5V-27H166.3zM174.1 -35.1H193.7V-27H174.1zM197.3 -35.1H209.2V-27H197.3zM212.7 -35.1H216.9V-27H212.7zM220.5 -35.1H236.2V-27H220.5zM239.8 -35.1H244V-27H239.8zM247.6 -35.1H255.6V-27H247.6zM259.2 -35.1H274.9V-27H259.2zM278.5 -35.1H282.7V-27H278.5zM286.2 -35.1H290.4V-27H286.2zM294 -35.1H298.1V-27H294zM301.7 -35.1H305.9V-27H301.7zM309.4 -35.1H317.5V-27H309.4zM34.8 -27.3H39V-22.2H34.8zM50.3 -27.3H54.5V-22.2H50.3zM85.1 -27.3H89.3V-22.2H85.1zM96.7 -27.3H100.9V-22.2H96.7zM143.1 -27.3H147.3V-22.2H143.1zM216.6 -27.3H220.8V-22.2H216.6zM243.7 -27.3H247.9V-22.2H243.7zM263 -27.3H267.2V-22.2H263zM294 -27.3H298.1V-22.2H294zM65.8 -22.5H69.9V-17.4H65.8zM96.7 -22.5H100.9V-17.4H96.7zM123.8 -22.5H127.9V-17.4H123.8zM177.9 -22.5H182.1V-17.4H177.9zM189.5 -22.5H193.7V-17.4H189.5zM201.1 -22.5H205.3V-17.4H201.1zM212.7 -22.5H216.9V-17.4H212.7zM228.2 -22.5H232.4V-17.4H228.2zM239.8 -22.5H244V-17.4H239.8zM247.6 -22.5H251.7V-17.4H247.6zM259.2 -22.5H263.3V-17.4H259.2zM266.9 -22.5H271.1V-17.4H266.9zM282.4 -22.5H286.5V-17.4H282.4zM290.1 -22.5H305.9V-17.4H290.1zM27.1 -17.7H31.2V-12.6H27.1zM50.3 -17.7H54.5V-12.6H50.3zM92.8 -17.7H97V-12.6H92.8zM127.6 -17.7H131.8V-12.6H127.6zM150.9 -17.7H155V-12.6H150.9zM162.5 -17.7H166.6V-12.6H162.5zM177.9 -17.7H182.1V-12.6H177.9zM208.9 -17.7H213V-12.6H208.9zM216.6 -17.7H220.8V-12.6H216.6zM247.6 -17.7H251.7V-12.6H247.6zM266.9 -17.7H271.1V-12.6H266.9zM274.6 -17.7H286.5V-12.6H274.6zM290.1 -17.7H298.1V-12.6H290.1zM15.5 -12.9H19.6V-4.8H15.5zM27.1 -12.9H31.2V-4.8H27.1zM58 -12.9H62.2V-4.8H58zM65.8 -12.9H69.9V-4.8H65.8zM92.8 -12.9H97V-4.8H92.8zM119.9 -12.9H124.1V-4.8H119.9zM127.6 -12.9H131.8V-4.8H127.6zM150.9 -12.9H155V-4.8H150.9zM162.5 -12.9H166.6V-4.8H162.5zM181.8 -12.9H186V-4.8H181.8zM201.1 -12.9H205.3V-4.8H201.1zM216.6 -12.9H220.8V-4.8H216.6zM239.8 -12.9H244V-4.8H239.8zM247.6 -12.9H251.7V-4.8H247.6zM255.3 -12.9H259.5V-4.8H255.3zM266.9 -12.9H271.1V-4.8H266.9zM282.4 -12.9H286.5V-4.8H282.4zM290.1 -12.9H294.3V-4.8H290.1zM297.8 -12.9H305.9V-4.8H297.8z"/>
<path fill="rgb(255,120,0)" d="M69.6 -35.1H81.5V-27H69.6zM89 -35.1H93.1V-27H89zM104.4 -35.1H108.6V-27H104.4zM112.2 -35.1H116.3V-27H112.2zM119.9 -35.1H127.9V-27H119.9zM131.5 -35.1H143.4V-27H131.5zM147 -35.1H151.2V-27H147zM158.6 -35.1H162.8V-27H158.6zM-3 -27.3H31.2V-22.2H-3zM104.4 -27.3H108.6V-22.2H104.4zM123.8 -27.3H127.9V-22.2H123.8zM131.5 -27.3H135.7V-22.2H131.5zM139.2 -27.3H143.4V-22.2H139.2zM324.9 -27.3H346.7V-22.2H324.9zM-3 -22.5H23.5V-17.4H-3zM46.4 -22.5H50.6V-17.4H46.4zM100.6 -22.5H112.5V-17.4H100.6zM116 -22.5H120.2V-17.4H116zM321 -22.5H346.7V-17.4H321zM-3 -17.7H19.6V-12.6H-3zM100.6 -17.7H104.7V-12.6H100.6zM108.3 -17.7H112.5V-12.6H108.3zM123.8 -17.7H127.9V-12.6H123.8zM135.4 -17.7H143.4V-12.6H135.4zM166.3 -17.7H170.5V-12.6H166.3zM317.2 -17.7H346.7V-12.6H317.2zM-3 -12.9H15.8V-4.8H-3zM69.6 -12.9H73.8V-4.8H69.6zM85.1 -12.9H89.3V-4.8H85.1zM108.3 -12.9H112.5V-4.8H108.3zM123.8 -12.9H127.9V-4.8H123.8zM131.5 -12.9H135.7V-4.8H131.5zM139.2 -12.9H143.4V-4.8H139.2zM166.3 -12.9H174.4V-4.8H166.3zM177.9 -12.9H182.1V-4.8H177.9zM309.4 -12.9H346.7V-4.8H309.4z"/>
<path fill="rgb(190,255,60)" d="M81.2 -35.1H85.4V-27H81.2zM96.7 -35.1H100.9V-27H96.7zM127.6 -35.1H131.8V-27H127.6zM143.1 -35.1H147.3V-27H143.1zM297.8 -35.1H302V-27H297.8zM321 -35.1H325.2V-27H321zM30.9 -27.3H35.1V-22.2H30.9zM38.7 -27.3H42.8V-22.2H38.7zM46.4 -27.3H50.6V-22.2H46.4zM135.4 -27.3H139.5V-22.2H135.4zM162.5 -27.3H166.6V-22.2H162.5zM317.2 -27.3H321.3V-22.2H317.2zM23.2 -22.5H27.4V-17.4H23.2zM162.5 -22.5H166.6V-17.4H162.5zM193.4 -22.5H197.6V-17.4H193.4zM38.7 -17.7H42.8V-12.6H38.7zM65.8 -17.7H69.9V-12.6H65.8zM170.2 -17.7H174.4V-12.6H170.2zM255.3 -17.7H259.5V-12.6H255.3z"/>
<path fill="rgb(240,35,0)" d="M108.3 -35.1H112.5V-27H108.3zM116 -35.1H120.2V-27H116zM108.3 -27.3H112.5V-22.2H108.3zM116 -27.3H120.2V-22.2H116zM112.2 -17.7H120.2V-12.6H112.2zM112.2 -12.9H116.3V-4.8H112.2z"/>
<path fill="rgb(0,50,245)" d="M54.2 -27.3H66.1V-22.2H54.2zM69.6 -27.3H73.8V-22.2H69.6zM81.2 -27.3H85.4V-22.2H81.2zM89 -27.3H93.1V-22.2H89zM154.7 -27.3H158.9V-22.2H154.7zM174.1 -27.3H178.2V-22.2H174.1zM181.8 -27.3H189.8V-22.2H181.8zM197.3 -27.3H201.4V-22.2H197.3zM205 -27.3H209.2V-22.2H205zM212.7 -27.3H216.9V-22.2H212.7zM220.5 -27.3H224.6V-22.2H220.5zM228.2 -27.3H236.2V-22.2H228.2zM239.8 -27.3H244V-22.2H239.8zM247.6 -27.3H255.6V-22.2H247.6zM259.2 -27.3H263.3V-22.2H259.2zM266.9 -27.3H278.8V-22.2H266.9zM282.4 -27.3H286.5V-22.2H282.4zM290.1 -27.3H294.3V-22.2H290.1zM309.4 -27.3H317.5V-22.2H309.4zM34.8 -22.5H42.8V-17.4H34.8zM69.6 -22.5H73.8V-17.4H69.6zM85.1 -22.5H89.3V-17.4H85.1zM143.1 -22.5H147.3V-17.4H143.1zM154.7 -22.5H162.8V-17.4H154.7zM170.2 -22.5H178.2V-17.4H170.2zM181.8 -22.5H189.8V-17.4H181.8zM197.3 -22.5H201.4V-17.4H197.3zM208.9 -22.5H213V-17.4H208.9zM216.6 -22.5H220.8V-17.4H216.6zM224.3 -22.5H228.5V-17.4H224.3zM235.9 -22.5H240.1V-17.4H235.9zM309.4 -22.5H313.6V-17.4H309.4zM23.2 -17.7H27.4V-12.6H23.2zM30.9 -17.7H35.1V-12.6H30.9zM54.2 -17.7H58.3V-12.6H54.2zM61.9 -17.7H66.1V-12.6H61.9zM69.6 -17.7H73.8V-12.6H69.6zM89 -17.7H93.1V-12.6H89zM154.7 -17.7H158.9V-12.6H154.7zM174.1 -17.7H178.2V-12.6H174.1zM181.8 -17.7H186V-12.6H181.8zM193.4 -17.7H197.6V-12.6H193.4zM205 -17.7H209.2V-12.6H205zM212.7 -17.7H216.9V-12.6H212.7zM224.3 -17.7H228.5V-12.6H224.3zM232.1 -17.7H240.1V-12.6H232.1zM243.7 -17.7H247.9V-12.6H243.7zM251.4 -17.7H255.6V-12.6H251.4zM19.3 -12.9H27.4V-4.8H19.3zM30.9 -12.9H35.1V-4.8H30.9zM38.7 -12.9H46.7V-4.8H38.7zM54.2 -12.9H58.3V-4.8H54.2zM77.4 -12.9H85.4V-4.8H77.4zM89 -12.9H93.1V-4.8H89zM96.7 -12.9H100.9V-4.8H96.7zM104.4 -12.9H108.6V-4.8H104.4zM135.4 -12.9H139.5V-4.8H135.4zM158.6 -12.9H162.8V-4.8H158.6zM193.4 -12.9H201.4V-4.8H193.4zM205 -12.9H209.2V-4.8H205zM212.7 -12.9H216.9V-4.8H212.7zM224.3 -12.9H228.5V-4.8H224.3zM235.9 -12.9H240.1V-4.8H235.9zM259.2 -12.9H263.3V-4.8H259.2zM270.8 -12.9H274.9V-4.8H270.8z"/>
<path fill="rgb(0,10,190)" d="M158.6 -17.7H162.8V-12.6H158.6zM220.5 -12.9H224.6V-4.8H220.5zM232.1 -12.9H236.2V-4.8H232.1zM243.7 -12.9H247.9V-4.8H243.7zM251.4 -12.9H255.6V-4.8H251.4z"/>
<path fill="rgb(0,25,235)" d="M54.8 -29.2a1.4 2.4 0 1 0 2.8 0a1.4 2.4 0 1 0 -2.8 0zM62.3 -30a1.5 2.1 0 1 0 3 0a1.5 2.1 0 1 0 -3 0zM236.2 -29.1a1.5 2.1 0 1 0 3 0a1.5 2.1 0 1 0 -3 0zM42.7 -24.5a1.4 2 0 1 0 2.8 0a1.4 2 0 1 0 -2.8 0zM66.6 -25a1.4 2.2 0 1 0 2.9 0a1.4 2.2 0 1 0 -2.9 0zM74 -24.6a1.4 2 0 1 0 2.9 0a1.4 2 0 1 0 -2.9 0zM77.3 -25.4a1.5 2.1 0 1 0 3 0a1.5 2.1 0 1 0 -3 0zM100.9 -24.4a1.6 2.1 0 1 0 3.1 0a1.6 2.1 0 1 0 -3.1 0zM112.8 -25.4a1.5 2 0 1 0 3 0a1.5 2 0 1 0 -3 0zM119.9 -24.4a1.4 2.4 0 1 0 2.9 0a1.4 2.4 0 1 0 -2.9 0zM147.9 -24.5a1.4 2.3 0 1 0 2.8 0a1.4 2.3 0 1 0 -2.8 0zM159.3 -24.9a1.5 2.4 0 1 0 3.1 0a1.5 2.4 0 1 0 -3.1 0zM171.1 -24.4a1.4 2.4 0 1 0 2.8 0a1.4 2.4 0 1 0 -2.8 0zM178.3 -24.5a1.4 2.1 0 1 0 2.7 0a1.4 2.1 0 1 0 -2.7 0zM189.6 -25.5a1.5 2.4 0 1 0 3 0a1.5 2.4 0 1 0 -3 0zM193.9 -24.8a1.6 2.2 0 1 0 3.1 0a1.6 2.2 0 1 0 -3.1 0zM209.1 -25a1.5 2.4 0 1 0 3 0a1.5 2.4 0 1 0 -3 0zM224.9 -25a1.5 2.3 0 1 0 3 0a1.5 2.3 0 1 0 -3 0zM236.4 -25.4a1.5 2.1 0 1 0 2.9 0a1.5 2.1 0 1 0 -2.9 0zM255.3 -25.1a1.4 2.2 0 1 0 2.9 0a1.4 2.2 0 1 0 -2.9 0zM278.8 -24.5a1.4 2.1 0 1 0 2.8 0a1.4 2.1 0 1 0 -2.8 0zM286.9 -24.4a1.5 2.3 0 1 0 3 0a1.5 2.3 0 1 0 -3 0zM298.4 -25.2a1.6 2.2 0 1 0 3.1 0a1.6 2.2 0 1 0 -3.1 0zM302.2 -24.4a1.6 2.1 0 1 0 3.1 0a1.6 2.1 0 1 0 -3.1 0zM306.4 -25.3a1.5 2.2 0 1 0 3 0a1.5 2.2 0 1 0 -3 0zM27.3 -20a1.4 2.1 0 1 0 2.7 0a1.4 2.1 0 1 0 -2.7 0zM31.9 -19.8a1.4 2.1 0 1 0 2.8 0a1.4 2.1 0 1 0 -2.8 0zM42.6 -20.1a1.4 2.4 0 1 0 2.8 0a1.4 2.4 0 1 0 -2.8 0zM58.3 -20.1a1.4 2.1 0 1 0 2.8 0a1.4 2.1 0 1 0 -2.8 0zM62.7 -19.8a1.6 2.3 0 1 0 3.1 0a1.6 2.3 0 1 0 -3.1 0zM73.4 -20a1.6 2.1 0 1 0 3.1 0a1.6 2.1 0 1 0 -3.1 0zM128.3 -19.5a1.6 2.3 0 1 0 3.1 0a1.6 2.3 0 1 0 -3.1 0zM147.6 -20.6a1.4 2.3 0 1 0 2.9 0a1.4 2.3 0 1 0 -2.9 0zM151.9 -20.7a1.4 2 0 1 0 2.7 0a1.4 2 0 1 0 -2.7 0zM205 -20.5a1.6 2.1 0 1 0 3.1 0a1.6 2.1 0 1 0 -3.1 0zM221.2 -20.6a1.5 2.1 0 1 0 3.1 0a1.5 2.1 0 1 0 -3.1 0zM232.4 -19.8a1.6 2.3 0 1 0 3.2 0a1.6 2.3 0 1 0 -3.2 0zM243.7 -20a1.4 2.3 0 1 0 2.8 0a1.4 2.3 0 1 0 -2.8 0zM252 -19.6a1.4 2.2 0 1 0 2.8 0a1.4 2.2 0 1 0 -2.8 0zM264 -20.6a1.5 2.3 0 1 0 3 0a1.5 2.3 0 1 0 -3 0zM270.9 -20.5a1.5 2.3 0 1 0 3 0a1.5 2.3 0 1 0 -3 0zM274.7 -20.5a1.5 2.1 0 1 0 2.9 0a1.5 2.1 0 1 0 -2.9 0zM278.6 -20.5a1.5 2.3 0 1 0 2.9 0a1.5 2.3 0 1 0 -2.9 0zM287.1 -19.9a1.4 2.1 0 1 0 2.7 0a1.4 2.1 0 1 0 -2.7 0zM305.6 -20.4a1.4 2.1 0 1 0 2.9 0a1.4 2.1 0 1 0 -2.9 0zM19.5 -15a1.6 2.1 0 1 0 3.1 0a1.6 2.1 0 1 0 -3.1 0zM35.6 -14.8a1.6 2.1 0 1 0 3.2 0a1.6 2.1 0 1 0 -3.2 0zM43.3 -15.4a1.4 2.1 0 1 0 2.7 0a1.4 2.1 0 1 0 -2.7 0zM59 -15.4a1.4 2.1 0 1 0 2.8 0a1.4 2.1 0 1 0 -2.8 0zM74.4 -15.1a1.5 2.3 0 1 0 3 0a1.5 2.3 0 1 0 -3 0zM77.4 -14.9a1.6 2.3 0 1 0 3.1 0a1.6 2.3 0 1 0 -3.1 0zM97.5 -14.8a1.4 2.3 0 1 0 2.8 0a1.4 2.3 0 1 0 -2.8 0zM105.1 -14.9a1.5 2.1 0 1 0 2.9 0a1.5 2.1 0 1 0 -2.9 0zM131.6 -15.1a1.5 2.3 0 1 0 2.9 0a1.5 2.3 0 1 0 -2.9 0zM143.2 -15.4a1.6 2.1 0 1 0 3.1 0a1.6 2.1 0 1 0 -3.1 0zM189.6 -15.5a1.6 2.2 0 1 0 3.2 0a1.6 2.2 0 1 0 -3.2 0zM198 -15.4a1.4 2.1 0 1 0 2.7 0a1.4 2.1 0 1 0 -2.7 0zM201.5 -15a1.4 2.2 0 1 0 2.8 0a1.4 2.2 0 1 0 -2.8 0zM220.7 -14.7a1.4 2.1 0 1 0 2.9 0a1.4 2.1 0 1 0 -2.9 0zM228.3 -15.2a1.4 2.3 0 1 0 2.8 0a1.4 2.3 0 1 0 -2.8 0zM240.1 -15.6a1.5 2.2 0 1 0 2.9 0a1.5 2.2 0 1 0 -2.9 0zM259.3 -15a1.5 2.1 0 1 0 3 0a1.5 2.1 0 1 0 -3 0zM263.7 -14.8a1.6 2.2 0 1 0 3.2 0a1.6 2.2 0 1 0 -3.2 0zM34.9 -11a1.6 2.3 0 1 0 3.2 0a1.6 2.3 0 1 0 -3.2 0zM50.4 -10.6a1.4 2.2 0 1 0 2.9 0a1.4 2.2 0 1 0 -2.9 0zM62.6 -10.4a1.5 2.2 0 1 0 2.9 0a1.5 2.2 0 1 0 -2.9 0zM73.9 -10.3a1.5 2.3 0 1 0 3 0a1.5 2.3 0 1 0 -3 0zM143.9 -10.8a1.6 2.3 0 1 0 3.1 0a1.6 2.3 0 1 0 -3.1 0zM155.1 -10.1a1.4 2.3 0 1 0 2.7 0a1.4 2.3 0 1 0 -2.7 0zM174.2 -9.9a1.4 2.4 0 1 0 2.7 0a1.4 2.4 0 1 0 -2.7 0zM190.2 -10.1a1.5 2.2 0 1 0 3 0a1.5 2.2 0 1 0 -3 0zM229.1 -10.9a1.4 2.3 0 1 0 2.8 0a1.4 2.3 0 1 0 -2.8 0zM263.9 -10.8a1.6 2.3 0 1 0 3.2 0a1.6 2.3 0 1 0 -3.2 0zM275.5 -10.8a1.5 2.3 0 1 0 2.9 0a1.5 2.3 0 1 0 -2.9 0zM279.5 -10.7a1.4 2 0 1 0 2.8 0a1.4 2 0 1 0 -2.8 0zM286.9 -10.3a1.5 2.3 0 1 0 3 0a1.5 2.3 0 1 0 -3 0zM294.6 -11a1.6 2 0 1 0 3.1 0a1.6 2 0 1 0 -3.1 0z"/>
<path fill="rgb(0,0,225)" d="M54.3 -24.7a1.7 2.2 0 1 0 3.3 0a1.7 2.2 0 1 0 -3.3 0zM58.3 -25.1a1.6 2.3 0 1 0 3.2 0a1.6 2.3 0 1 0 -3.2 0zM61.7 -24.7a1.7 2.4 0 1 0 3.5 0a1.7 2.4 0 1 0 -3.5 0zM69.8 -24.9a1.7 2.1 0 1 0 3.4 0a1.7 2.1 0 1 0 -3.4 0zM81.3 -24.6a1.6 2.2 0 1 0 3.1 0a1.6 2.2 0 1 0 -3.1 0zM89.5 -24.9a1.6 2.4 0 1 0 3.3 0a1.6 2.4 0 1 0 -3.3 0zM155.2 -25.3a1.7 2.2 0 1 0 3.5 0a1.7 2.2 0 1 0 -3.5 0zM174.3 -24.6a1.6 2.3 0 1 0 3.1 0a1.6 2.3 0 1 0 -3.1 0zM181.6 -25.2a1.8 2.2 0 1 0 3.5 0a1.8 2.2 0 1 0 -3.5 0zM185.4 -25.1a1.8 2.5 0 1 0 3.5 0a1.8 2.5 0 1 0 -3.5 0zM197.9 -24.7a1.6 2.2 0 1 0 3.2 0a1.6 2.2 0 1 0 -3.2 0zM205.3 -24.3a1.7 2.2 0 1 0 3.3 0a1.7 2.2 0 1 0 -3.3 0zM212.6 -25.3a1.6 2.1 0 1 0 3.2 0a1.6 2.1 0 1 0 -3.2 0zM220.4 -24.9a1.6 2.3 0 1 0 3.3 0a1.6 2.3 0 1 0 -3.3 0zM228.6 -24.8a1.7 2.2 0 1 0 3.3 0a1.7 2.2 0 1 0 -3.3 0zM232.1 -25.2a1.7 2.4 0 1 0 3.4 0a1.7 2.4 0 1 0 -3.4 0zM239.5 -24.9a1.8 2.4 0 1 0 3.6 0a1.8 2.4 0 1 0 -3.6 0zM248 -24.3a1.6 2.4 0 1 0 3.2 0a1.6 2.4 0 1 0 -3.2 0zM252 -24.4a1.7 2.5 0 1 0 3.3 0a1.7 2.5 0 1 0 -3.3 0zM259.6 -24.4a1.6 2.4 0 1 0 3.2 0a1.6 2.4 0 1 0 -3.2 0zM266.7 -24.7a1.7 2.2 0 1 0 3.4 0a1.7 2.2 0 1 0 -3.4 0zM271.1 -25.1a1.8 2.4 0 1 0 3.5 0a1.8 2.4 0 1 0 -3.5 0zM275.2 -25a1.6 2.4 0 1 0 3.2 0a1.6 2.4 0 1 0 -3.2 0zM282.3 -25.3a1.6 2.2 0 1 0 3.2 0a1.6 2.2 0 1 0 -3.2 0zM290.4 -24.9a1.6 2.2 0 1 0 3.1 0a1.6 2.2 0 1 0 -3.1 0zM309.4 -24.6a1.6 2.3 0 1 0 3.1 0a1.6 2.3 0 1 0 -3.1 0zM314 -25a1.7 2.5 0 1 0 3.4 0a1.7 2.5 0 1 0 -3.4 0zM35 -19.7a1.7 2.2 0 1 0 3.4 0a1.7 2.2 0 1 0 -3.4 0zM39.3 -20.3a1.7 2.5 0 1 0 3.4 0a1.7 2.5 0 1 0 -3.4 0zM69.5 -20a1.7 2.2 0 1 0 3.5 0a1.7 2.2 0 1 0 -3.5 0zM85.5 -20.2a1.7 2.4 0 1 0 3.4 0a1.7 2.4 0 1 0 -3.4 0zM143.8 -20.6a1.6 2.4 0 1 0 3.1 0a1.6 2.4 0 1 0 -3.1 0zM154.5 -19.6a1.8 2.4 0 1 0 3.6 0a1.8 2.4 0 1 0 -3.6 0zM158.5 -19.8a1.7 2.4 0 1 0 3.4 0a1.7 2.4 0 1 0 -3.4 0zM170.1 -19.9a1.8 2.4 0 1 0 3.5 0a1.8 2.4 0 1 0 -3.5 0zM174.1 -20.1a1.6 2.4 0 1 0 3.3 0a1.6 2.4 0 1 0 -3.3 0zM182 -19.6a1.8 2.3 0 1 0 3.5 0a1.8 2.3 0 1 0 -3.5 0zM185.5 -20.7a1.7 2.4 0 1 0 3.3 0a1.7 2.4 0 1 0 -3.3 0zM197.8 -19.9a1.6 2.4 0 1 0 3.2 0a1.6 2.4 0 1 0 -3.2 0zM209.2 -19.8a1.6 2.1 0 1 0 3.1 0a1.6 2.1 0 1 0 -3.1 0zM216.5 -20.1a1.7 2.5 0 1 0 3.3 0a1.7 2.5 0 1 0 -3.3 0zM224.8 -19.8a1.7 2.4 0 1 0 3.5 0a1.7 2.4 0 1 0 -3.5 0zM236.7 -20a1.6 2.4 0 1 0 3.1 0a1.6 2.4 0 1 0 -3.1 0zM310.2 -19.6a1.6 2.4 0 1 0 3.2 0a1.6 2.4 0 1 0 -3.2 0zM23.6 -15a1.6 2.5 0 1 0 3.3 0a1.6 2.5 0 1 0 -3.3 0zM31 -15.5a1.7 2.2 0 1 0 3.4 0a1.7 2.2 0 1 0 -3.4 0zM54.7 -15.3a1.7 2.2 0 1 0 3.5 0a1.7 2.2 0 1 0 -3.5 0zM62.3 -15.9a1.7 2.4 0 1 0 3.5 0a1.7 2.4 0 1 0 -3.5 0zM69.7 -15.4a1.6 2.3 0 1 0 3.2 0a1.6 2.3 0 1 0 -3.2 0zM89.6 -15.4a1.6 2.1 0 1 0 3.2 0a1.6 2.1 0 1 0 -3.2 0zM154.9 -15.1a1.7 2.1 0 1 0 3.4 0a1.7 2.1 0 1 0 -3.4 0zM174.9 -15.3a1.6 2.4 0 1 0 3.1 0a1.6 2.4 0 1 0 -3.1 0zM181.9 -14.9a1.6 2.2 0 1 0 3.2 0a1.6 2.2 0 1 0 -3.2 0zM193.9 -15.7a1.7 2.4 0 1 0 3.4 0a1.7 2.4 0 1 0 -3.4 0zM205.2 -15.6a1.7 2.4 0 1 0 3.3 0a1.7 2.4 0 1 0 -3.3 0zM213.6 -14.9a1.6 2.3 0 1 0 3.1 0a1.6 2.3 0 1 0 -3.1 0zM225.1 -15.7a1.6 2.3 0 1 0 3.1 0a1.6 2.3 0 1 0 -3.1 0zM232.1 -15.5a1.7 2.1 0 1 0 3.4 0a1.7 2.1 0 1 0 -3.4 0zM235.7 -15a1.7 2.3 0 1 0 3.5 0a1.7 2.3 0 1 0 -3.5 0zM243.9 -15.6a1.7 2.1 0 1 0 3.5 0a1.7 2.1 0 1 0 -3.5 0zM251.2 -15.3a1.7 2.2 0 1 0 3.3 0a1.7 2.2 0 1 0 -3.3 0zM20 -9.9a1.6 2.5 0 1 0 3.3 0a1.6 2.5 0 1 0 -3.3 0zM23.1 -10.3a1.7 2.4 0 1 0 3.4 0a1.7 2.4 0 1 0 -3.4 0zM31.5 -10.2a1.6 2.4 0 1 0 3.2 0a1.6 2.4 0 1 0 -3.2 0zM38.6 -10.2a1.6 2.4 0 1 0 3.2 0a1.6 2.4 0 1 0 -3.2 0zM43.2 -10.8a1.8 2.2 0 1 0 3.5 0a1.8 2.2 0 1 0 -3.5 0zM54.7 -10a1.7 2.4 0 1 0 3.4 0a1.7 2.4 0 1 0 -3.4 0zM77.4 -10.9a1.7 2.3 0 1 0 3.4 0a1.7 2.3 0 1 0 -3.4 0zM81.1 -10.2a1.7 2.5 0 1 0 3.3 0a1.7 2.5 0 1 0 -3.3 0zM88.7 -10.4a1.8 2.4 0 1 0 3.5 0a1.8 2.4 0 1 0 -3.5 0zM96.5 -10.5a1.6 2.2 0 1 0 3.2 0a1.6 2.2 0 1 0 -3.2 0zM104.3 -10.3a1.7 2.3 0 1 0 3.4 0a1.7 2.3 0 1 0 -3.4 0zM135.6 -10.1a1.7 2.2 0 1 0 3.4 0a1.7 2.2 0 1 0 -3.4 0zM159.3 -10.1a1.7 2.4 0 1 0 3.4 0a1.7 2.4 0 1 0 -3.4 0zM193.6 -11a1.6 2.4 0 1 0 3.1 0a1.6 2.4 0 1 0 -3.1 0zM197.7 -10.6a1.7 2.2 0 1 0 3.4 0a1.7 2.2 0 1 0 -3.4 0zM205 -10.7a1.7 2.4 0 1 0 3.5 0a1.7 2.4 0 1 0 -3.5 0zM212.7 -10.4a1.6 2.3 0 1 0 3.3 0a1.6 2.3 0 1 0 -3.3 0zM224.5 -10.4a1.7 2.4 0 1 0 3.4 0a1.7 2.4 0 1 0 -3.4 0zM236.2 -10.6a1.6 2.2 0 1 0 3.2 0a1.6 2.2 0 1 0 -3.2 0zM259.5 -10.5a1.7 2.3 0 1 0 3.4 0a1.7 2.3 0 1 0 -3.4 0zM271.4 -10.2a1.6 2.5 0 1 0 3.1 0a1.6 2.5 0 1 0 -3.1 0z"/>
<path fill="rgb(0,0,140)" d="M158.8 -15.2a1.7 2.3 0 1 0 3.5 0a1.7 2.3 0 1 0 -3.5 0zM221.2 -10.3a1.6 2.2 0 1 0 3.2 0a1.6 2.2 0 1 0 -3.2 0zM232.3 -10.9a1.7 2.3 0 1 0 3.4 0a1.7 2.3 0 1 0 -3.4 0zM243.9 -10a1.6 2.4 0 1 0 3.2 0a1.6 2.4 0 1 0 -3.2 0zM252.2 -10.6a1.6 2.2 0 1 0 3.2 0a1.6 2.2 0 1 0 -3.2 0z"/>
</g>
</g>
<path d="M-5.75 -61.3 V19.9 H342.1" fill="none" stroke="#262626" stroke-width="1"/>
<path d="M-9 0.00 H-5.75" stroke="#262626" stroke-width="1"/>
<text x="-12.4" y="4.20" text-anchor="end" class="t">0</text>
<path d="M-9 -11.60 H-5.75" stroke="#262626" stroke-width="1"/>
<text x="-12.4" y="-7.40" text-anchor="end" class="t">3</text>
<path d="M-9 -23.21 H-5.75" stroke="#262626" stroke-width="1"/>
<text x="-12.4" y="-19.01" text-anchor="end" class="t">6</text>
<path d="M-9 -34.81 H-5.75" stroke="#262626" stroke-width="1"/>
<text x="-12.4" y="-30.61" text-anchor="end" class="t">9</text>
<path d="M0.00 19.9 V23.1" stroke="#262626" stroke-width="1"/>
<text x="0.00" y="35.4" text-anchor="middle" class="t">0</text>
<path d="M38.68 19.9 V23.1" stroke="#262626" stroke-width="1"/>
<text x="38.68" y="35.4" text-anchor="middle" class="t">10</text>
<path d="M77.36 19.9 V23.1" stroke="#262626" stroke-width="1"/>
<text x="77.36" y="35.4" text-anchor="middle" class="t">20</text>
<path d="M116.04 19.9 V23.1" stroke="#262626" stroke-width="1"/>
<text x="116.04" y="35.4" text-anchor="middle" class="t">30</text>
<path d="M154.72 19.9 V23.1" stroke="#262626" stroke-width="1"/>
<text x="154.72" y="35.4" text-anchor="middle" class="t">40</text>
<path d="M193.40 19.9 V23.1" stroke="#262626" stroke-width="1"/>
<text x="193.40" y="35.4" text-anchor="middle" class="t">50</text>
<path d="M232.08 19.9 V23.1" stroke="#262626" stroke-width="1"/>
<text x="232.08" y="35.4" text-anchor="middle" class="t">60</text>
<path d="M270.76 19.9 V23.1" stroke="#262626" stroke-width="1"/>
<text x="270.76" y="35.4" text-anchor="middle" class="t">70</text>
<path d="M309.44 19.9 V23.1" stroke="#262626" stroke-width="1"/>
<text x="309.44" y="35.4" text-anchor="middle" class="t">80</text>
<text x="168.2" y="50.06" text-anchor="middle" class="t">Longitudinal Distance (m)</text>
<text transform="translate(-26,-19.6) rotate(-90)" x="0" y="0" text-anchor="middle" class="t">Transverse Distance (m)</text>
<path d="M0 0 H297.06 M40.61 -40.61 H337.68" stroke="#000" stroke-width="1.9" fill="none" stroke-linecap="square"/>
<path d="M0 0 L40.61 -40.61 M297.06 0 L337.68 -40.61" stroke="#000" stroke-width="1.9" fill="none" stroke-dasharray="7.4 3.2"/>
<rect x="363.6" y="-60.9" width="4.5" height="80.8" fill="url(#cb)" stroke="#444" stroke-width="0.5"/>
<path d="M368.1 19.90 H371.1" stroke="#262626" stroke-width="1"/>
<text x="374.5" y="24.10" class="t">3</text>
<path d="M368.1 -7.03 H371.1" stroke="#262626" stroke-width="1"/>
<text x="374.5" y="-2.83" class="t">4</text>
<path d="M368.1 -33.96 H371.1" stroke="#262626" stroke-width="1"/>
<text x="374.5" y="-29.76" class="t">5</text>
<path d="M368.1 -60.89 H371.1" stroke="#262626" stroke-width="1"/>
<text x="374.5" y="-56.69" class="t">6</text>
<text transform="translate(394.3,-20.8) rotate(-90)" text-anchor="middle" class="t">Impedance Magnitude</text>
<text transform="translate(407.45,-20.85) rotate(-90)" text-anchor="middle" class="t" textLength="39.5" lengthAdjust="spacing">(10<tspan font-size="8" dy="-4">x</tspan><tspan dy="4"> Ω)</tspan></text></g><g transform="translate(35.2,385.2)"><clipPath id="cl2"><polygon points="3.9,-3.9 300.9,-3.9 332.6,-35.6 35.6,-35.6"/></clipPath>
<g clip-path="url(#cl2)"><g filter="url(#bl)">
<path fill="rgb(190,255,60)" d="M-3 -38.6H42.8V-30.4H-3zM54.2 -38.6H58.3V-30.4H54.2zM65.8 -38.6H69.9V-30.4H65.8zM154.7 -38.6H158.9V-30.4H154.7zM255.3 -38.6H259.5V-30.4H255.3zM317.2 -38.6H321.3V-30.4H317.2zM34.8 -30.7H39V-25.5H34.8zM46.4 -30.7H50.6V-25.5H46.4zM224.3 -30.7H228.5V-25.5H224.3zM34.8 -25.8H42.8V-19.8H34.8zM61.9 -25.8H66.1V-19.8H61.9zM89 -25.8H93.1V-19.8H89zM131.5 -25.8H135.7V-19.8H131.5zM162.5 -25.8H166.6V-19.8H162.5zM212.7 -25.8H216.9V-19.8H212.7zM263 -25.8H267.2V-19.8H263zM297.8 -25.8H302V-19.8H297.8zM23.2 -20.1H27.4V-13.9H23.2zM30.9 -20.1H35.1V-13.9H30.9zM58 -20.1H62.2V-13.9H58zM69.6 -20.1H73.8V-13.9H69.6zM158.6 -20.1H162.8V-13.9H158.6zM170.2 -20.1H174.4V-13.9H170.2zM201.1 -20.1H205.3V-13.9H201.1zM239.8 -20.1H244V-13.9H239.8zM255.3 -20.1H259.5V-13.9H255.3zM278.5 -20.1H286.5V-13.9H278.5zM297.8 -20.1H302V-13.9H297.8zM123.8 -14.2H127.9V-8.7H123.8zM255.3 -14.2H259.5V-8.7H255.3zM301.7 -14.2H305.9V-8.7H301.7zM15.5 -9H27.4V-0.6H15.5zM30.9 -9H35.1V-0.6H30.9zM54.2 -9H58.3V-0.6H54.2zM65.8 -9H69.9V-0.6H65.8zM89 -9H93.1V-0.6H89zM174.1 -9H178.2V-0.6H174.1zM282.4 -9H286.5V-0.6H282.4z"/>
<path fill="rgb(100,255,150)" d="M42.5 -38.6H46.7V-30.4H42.5zM85.1 -38.6H89.3V-30.4H85.1zM96.7 -38.6H100.9V-30.4H96.7zM166.3 -38.6H170.5V-30.4H166.3zM174.1 -38.6H178.2V-30.4H174.1zM181.8 -38.6H189.8V-30.4H181.8zM193.4 -38.6H197.6V-30.4H193.4zM212.7 -38.6H216.9V-30.4H212.7zM251.4 -38.6H255.6V-30.4H251.4zM290.1 -38.6H294.3V-30.4H290.1zM297.8 -38.6H302V-30.4H297.8zM305.6 -38.6H309.7V-30.4H305.6zM313.3 -38.6H317.5V-30.4H313.3zM65.8 -30.7H69.9V-25.5H65.8zM92.8 -30.7H97V-25.5H92.8zM119.9 -30.7H124.1V-25.5H119.9zM212.7 -30.7H216.9V-25.5H212.7zM255.3 -30.7H259.5V-25.5H255.3zM317.2 -30.7H321.3V-25.5H317.2zM46.4 -25.8H50.6V-19.8H46.4zM69.6 -25.8H73.8V-19.8H69.6zM77.4 -25.8H85.4V-19.8H77.4zM96.7 -25.8H100.9V-19.8H96.7zM119.9 -25.8H124.1V-19.8H119.9zM177.9 -25.8H182.1V-19.8H177.9zM185.7 -25.8H189.8V-19.8H185.7zM232.1 -25.8H236.2V-19.8H232.1zM239.8 -25.8H244V-19.8H239.8zM247.6 -25.8H251.7V-19.8H247.6zM255.3 -25.8H259.5V-19.8H255.3zM270.8 -25.8H274.9V-19.8H270.8zM278.5 -25.8H286.5V-19.8H278.5zM290.1 -25.8H294.3V-19.8H290.1zM301.7 -25.8H305.9V-19.8H301.7zM309.4 -25.8H313.6V-19.8H309.4zM27.1 -20.1H31.2V-13.9H27.1zM34.8 -20.1H42.8V-13.9H34.8zM50.3 -20.1H54.5V-13.9H50.3zM61.9 -20.1H66.1V-13.9H61.9zM77.4 -20.1H81.5V-13.9H77.4zM89 -20.1H93.1V-13.9H89zM181.8 -20.1H186V-13.9H181.8zM193.4 -20.1H197.6V-13.9H193.4zM208.9 -20.1H213V-13.9H208.9zM224.3 -20.1H228.5V-13.9H224.3zM232.1 -20.1H236.2V-13.9H232.1zM247.6 -20.1H251.7V-13.9H247.6zM263 -20.1H267.2V-13.9H263zM270.8 -20.1H274.9V-13.9H270.8zM286.2 -20.1H298.1V-13.9H286.2zM58 -14.2H62.2V-8.7H58zM119.9 -14.2H124.1V-8.7H119.9zM131.5 -14.2H135.7V-8.7H131.5zM162.5 -14.2H166.6V-8.7H162.5zM174.1 -14.2H178.2V-8.7H174.1zM282.4 -14.2H286.5V-8.7H282.4zM297.8 -14.2H302V-8.7H297.8zM58 -9H62.2V-0.6H58zM73.5 -9H81.5V-0.6H73.5zM92.8 -9H97V-0.6H92.8zM100.6 -9H104.7V-0.6H100.6zM123.8 -9H127.9V-0.6H123.8zM131.5 -9H135.7V-0.6H131.5zM143.1 -9H147.3V-0.6H143.1zM154.7 -9H158.9V-0.6H154.7zM235.9 -9H244V-0.6H235.9zM247.6 -9H251.7V-0.6H247.6zM266.9 -9H282.7V-0.6H266.9zM286.2 -9H290.4V-0.6H286.2z"/>
<path fill="rgb(250,240,0)" d="M46.4 -38.6H50.6V-30.4H46.4zM89 -38.6H93.1V-30.4H89zM108.3 -38.6H112.5V-30.4H108.3zM131.5 -38.6H135.7V-30.4H131.5zM158.6 -38.6H162.8V-30.4H158.6zM177.9 -38.6H182.1V-30.4H177.9zM201.1 -38.6H205.3V-30.4H201.1zM224.3 -38.6H228.5V-30.4H224.3zM321 -38.6H329.1V-30.4H321zM30.9 -30.7H35.1V-25.5H30.9zM38.7 -30.7H46.7V-25.5H38.7zM61.9 -30.7H66.1V-25.5H61.9zM89 -30.7H93.1V-25.5H89zM150.9 -30.7H155V-25.5H150.9zM162.5 -30.7H166.6V-25.5H162.5zM321 -30.7H325.2V-25.5H321zM30.9 -25.8H35.1V-19.8H30.9zM73.5 -25.8H77.7V-19.8H73.5zM85.1 -25.8H89.3V-19.8H85.1zM92.8 -25.8H97V-19.8H92.8zM143.1 -25.8H151.2V-19.8H143.1zM166.3 -25.8H170.5V-19.8H166.3zM224.3 -25.8H228.5V-19.8H224.3zM313.3 -25.8H317.5V-19.8H313.3zM-3 -20.1H23.5V-13.9H-3zM42.5 -20.1H46.7V-13.9H42.5zM81.2 -20.1H85.4V-13.9H81.2zM108.3 -20.1H112.5V-13.9H108.3zM123.8 -20.1H131.8V-13.9H123.8zM143.1 -20.1H147.3V-13.9H143.1zM154.7 -20.1H158.9V-13.9H154.7zM301.7 -20.1H313.6V-13.9H301.7zM-3 -14.2H15.8V-8.7H-3zM42.5 -14.2H46.7V-8.7H42.5zM65.8 -14.2H69.9V-8.7H65.8zM139.2 -14.2H143.4V-8.7H139.2zM170.2 -14.2H174.4V-8.7H170.2zM305.6 -14.2H309.7V-8.7H305.6zM11.6 -9H15.8V-0.6H11.6zM27.1 -9H31.2V-0.6H27.1zM34.8 -9H39V-0.6H34.8zM42.5 -9H46.7V-0.6H42.5zM81.2 -9H85.4V-0.6H81.2zM104.4 -9H108.6V-0.6H104.4zM135.4 -9H139.5V-0.6H135.4zM255.3 -9H259.5V-0.6H255.3zM263 -9H267.2V-0.6H263zM290.1 -9H305.9V-0.6H290.1z"/>
<path fill="rgb(30,240,225)" d="M50.3 -38.6H54.5V-30.4H50.3zM58 -38.6H62.2V-30.4H58zM92.8 -38.6H97V-30.4H92.8zM112.2 -38.6H116.3V-30.4H112.2zM170.2 -38.6H174.4V-30.4H170.2zM189.5 -38.6H193.7V-30.4H189.5zM197.3 -38.6H201.4V-30.4H197.3zM205 -38.6H213V-30.4H205zM216.6 -38.6H224.6V-30.4H216.6zM228.2 -38.6H251.7V-30.4H228.2zM259.2 -38.6H290.4V-30.4H259.2zM294 -38.6H298.1V-30.4H294zM301.7 -38.6H305.9V-30.4H301.7zM309.4 -38.6H313.6V-30.4H309.4zM50.3 -30.7H54.5V-25.5H50.3zM58 -30.7H62.2V-25.5H58zM104.4 -30.7H108.6V-25.5H104.4zM143.1 -30.7H147.3V-25.5H143.1zM166.3 -30.7H170.5V-25.5H166.3zM174.1 -30.7H178.2V-25.5H174.1zM243.7 -30.7H247.9V-25.5H243.7zM290.1 -30.7H298.1V-25.5H290.1zM301.7 -30.7H305.9V-25.5H301.7zM50.3 -25.8H54.5V-19.8H50.3zM58 -25.8H62.2V-19.8H58zM170.2 -25.8H178.2V-19.8H170.2zM181.8 -25.8H186V-19.8H181.8zM189.5 -25.8H201.4V-19.8H189.5zM205 -25.8H213V-19.8H205zM216.6 -25.8H224.6V-19.8H216.6zM228.2 -25.8H232.4V-19.8H228.2zM235.9 -25.8H240.1V-19.8H235.9zM243.7 -25.8H247.9V-19.8H243.7zM251.4 -25.8H255.6V-19.8H251.4zM259.2 -25.8H263.3V-19.8H259.2zM266.9 -25.8H271.1V-19.8H266.9zM274.6 -25.8H278.8V-19.8H274.6zM286.2 -25.8H290.4V-19.8H286.2zM294 -25.8H298.1V-19.8H294zM305.6 -25.8H309.7V-19.8H305.6zM46.4 -20.1H50.6V-13.9H46.4zM54.2 -20.1H58.3V-13.9H54.2zM65.8 -20.1H69.9V-13.9H65.8zM73.5 -20.1H77.7V-13.9H73.5zM92.8 -20.1H108.6V-13.9H92.8zM162.5 -20.1H166.6V-13.9H162.5zM174.1 -20.1H182.1V-13.9H174.1zM189.5 -20.1H193.7V-13.9H189.5zM197.3 -20.1H201.4V-13.9H197.3zM205 -20.1H209.2V-13.9H205zM212.7 -20.1H224.6V-13.9H212.7zM228.2 -20.1H232.4V-13.9H228.2zM235.9 -20.1H240.1V-13.9H235.9zM243.7 -20.1H247.9V-13.9H243.7zM251.4 -20.1H255.6V-13.9H251.4zM259.2 -20.1H263.3V-13.9H259.2zM266.9 -20.1H271.1V-13.9H266.9zM274.6 -20.1H278.8V-13.9H274.6zM158.6 -14.2H162.8V-8.7H158.6zM177.9 -14.2H186V-8.7H177.9zM201.1 -14.2H205.3V-8.7H201.1zM286.2 -14.2H290.4V-8.7H286.2zM294 -14.2H298.1V-8.7H294zM50.3 -9H54.5V-0.6H50.3zM61.9 -9H66.1V-0.6H61.9zM96.7 -9H100.9V-0.6H96.7zM116 -9H124.1V-0.6H116zM177.9 -9H182.1V-0.6H177.9zM185.7 -9H189.8V-0.6H185.7zM193.4 -9H197.6V-0.6H193.4zM201.1 -9H205.3V-0.6H201.1zM208.9 -9H213V-0.6H208.9zM216.6 -9H220.8V-0.6H216.6zM224.3 -9H228.5V-0.6H224.3zM232.1 -9H236.2V-0.6H232.1zM243.7 -9H247.9V-0.6H243.7zM251.4 -9H255.6V-0.6H251.4zM259.2 -9H263.3V-0.6H259.2z"/>
<path fill="rgb(255,120,0)" d="M61.9 -38.6H66.1V-30.4H61.9zM81.2 -38.6H85.4V-30.4H81.2zM100.6 -38.6H108.6V-30.4H100.6zM119.9 -38.6H124.1V-30.4H119.9zM127.6 -38.6H131.8V-30.4H127.6zM150.9 -38.6H155V-30.4H150.9zM162.5 -38.6H166.6V-30.4H162.5zM328.8 -38.6H346.7V-30.4H328.8zM-3 -30.7H31.2V-25.5H-3zM69.6 -30.7H77.7V-25.5H69.6zM100.6 -30.7H104.7V-25.5H100.6zM127.6 -30.7H131.8V-25.5H127.6zM135.4 -30.7H139.5V-25.5H135.4zM201.1 -30.7H205.3V-25.5H201.1zM324.9 -30.7H346.7V-25.5H324.9zM-3 -25.8H31.2V-19.8H-3zM42.5 -25.8H46.7V-19.8H42.5zM108.3 -25.8H120.2V-19.8H108.3zM127.6 -25.8H131.8V-19.8H127.6zM135.4 -25.8H139.5V-19.8H135.4zM150.9 -25.8H155V-19.8H150.9zM201.1 -25.8H205.3V-19.8H201.1zM317.2 -25.8H346.7V-19.8H317.2zM85.1 -20.1H89.3V-13.9H85.1zM112.2 -20.1H116.3V-13.9H112.2zM119.9 -20.1H124.1V-13.9H119.9zM131.5 -20.1H143.4V-13.9H131.5zM166.3 -20.1H170.5V-13.9H166.3zM185.7 -20.1H189.8V-13.9H185.7zM313.3 -20.1H346.7V-13.9H313.3zM69.6 -14.2H73.8V-8.7H69.6zM85.1 -14.2H89.3V-8.7H85.1zM108.3 -14.2H116.3V-8.7H108.3zM127.6 -14.2H131.8V-8.7H127.6zM135.4 -14.2H139.5V-8.7H135.4zM147 -14.2H151.2V-8.7H147zM309.4 -14.2H346.7V-8.7H309.4zM7.7 -9H11.9V-0.6H7.7zM69.6 -9H73.8V-0.6H69.6zM112.2 -9H116.3V-0.6H112.2zM127.6 -9H131.8V-0.6H127.6zM139.2 -9H143.4V-0.6H139.2zM150.9 -9H155V-0.6H150.9zM158.6 -9H166.6V-0.6H158.6zM170.2 -9H174.4V-0.6H170.2zM305.6 -9H346.7V-0.6H305.6z"/>
<path fill="rgb(240,35,0)" d="M69.6 -38.6H81.5V-30.4H69.6zM116 -38.6H120.2V-30.4H116zM123.8 -38.6H127.9V-30.4H123.8zM135.4 -38.6H151.2V-30.4H135.4zM108.3 -30.7H112.5V-25.5H108.3zM116 -30.7H120.2V-25.5H116zM123.8 -30.7H127.9V-25.5H123.8zM139.2 -30.7H143.4V-25.5H139.2zM100.6 -25.8H108.6V-19.8H100.6zM123.8 -25.8H127.9V-19.8H123.8zM139.2 -25.8H143.4V-19.8H139.2zM116 -20.1H120.2V-13.9H116zM147 -20.1H155V-13.9H147zM150.9 -14.2H155V-8.7H150.9zM166.3 -14.2H170.5V-8.7H166.3zM-3 -9H8V-0.6H-3zM85.1 -9H89.3V-0.6H85.1zM108.3 -9H112.5V-0.6H108.3zM147 -9H151.2V-0.6H147zM166.3 -9H170.5V-0.6H166.3z"/>
<path fill="rgb(0,215,255)" d="M54.2 -30.7H58.3V-25.5H54.2zM77.4 -30.7H89.3V-25.5H77.4zM96.7 -30.7H100.9V-25.5H96.7zM112.2 -30.7H116.3V-25.5H112.2zM131.5 -30.7H135.7V-25.5H131.5zM147 -30.7H151.2V-25.5H147zM170.2 -30.7H174.4V-25.5H170.2zM177.9 -30.7H189.8V-25.5H177.9zM193.4 -30.7H197.6V-25.5H193.4zM205 -30.7H209.2V-25.5H205zM216.6 -30.7H224.6V-25.5H216.6zM228.2 -30.7H236.2V-25.5H228.2zM251.4 -30.7H255.6V-25.5H251.4zM263 -30.7H290.4V-25.5H263zM297.8 -30.7H302V-25.5H297.8zM305.6 -30.7H313.6V-25.5H305.6zM54.2 -25.8H58.3V-19.8H54.2zM65.8 -25.8H69.9V-19.8H65.8zM154.7 -25.8H162.8V-19.8H154.7zM15.5 -14.2H31.2V-8.7H15.5zM34.8 -14.2H42.8V-8.7H34.8zM50.3 -14.2H54.5V-8.7H50.3zM61.9 -14.2H66.1V-8.7H61.9zM73.5 -14.2H85.4V-8.7H73.5zM92.8 -14.2H108.6V-8.7H92.8zM116 -14.2H120.2V-8.7H116zM143.1 -14.2H147.3V-8.7H143.1zM154.7 -14.2H158.9V-8.7H154.7zM185.7 -14.2H189.8V-8.7H185.7zM197.3 -14.2H201.4V-8.7H197.3zM205 -14.2H209.2V-8.7H205zM235.9 -14.2H240.1V-8.7H235.9zM263 -14.2H271.1V-8.7H263zM274.6 -14.2H282.7V-8.7H274.6zM290.1 -14.2H294.3V-8.7H290.1zM38.7 -9H42.8V-0.6H38.7zM46.4 -9H50.6V-0.6H46.4zM181.8 -9H186V-0.6H181.8zM189.5 -9H193.7V-0.6H189.5zM197.3 -9H201.4V-0.6H197.3zM205 -9H209.2V-0.6H205zM212.7 -9H216.9V-0.6H212.7zM220.5 -9H224.6V-0.6H220.5zM228.2 -9H232.4V-0.6H228.2z"/>
<path fill="rgb(0,50,245)" d="M154.7 -30.7H162.8V-25.5H154.7zM189.5 -30.7H193.7V-25.5H189.5zM197.3 -30.7H201.4V-25.5H197.3zM208.9 -30.7H213V-25.5H208.9zM235.9 -30.7H244V-25.5H235.9zM247.6 -30.7H251.7V-25.5H247.6zM259.2 -30.7H263.3V-25.5H259.2zM313.3 -30.7H317.5V-25.5H313.3zM30.9 -14.2H35.1V-8.7H30.9zM46.4 -14.2H50.6V-8.7H46.4zM54.2 -14.2H58.3V-8.7H54.2zM89 -14.2H93.1V-8.7H89zM189.5 -14.2H197.6V-8.7H189.5zM208.9 -14.2H220.8V-8.7H208.9zM224.3 -14.2H236.2V-8.7H224.3zM239.8 -14.2H255.6V-8.7H239.8zM259.2 -14.2H263.3V-8.7H259.2zM270.8 -14.2H274.9V-8.7H270.8z"/>
<path fill="rgb(0,10,190)" d="M220.5 -14.2H224.6V-8.7H220.5z"/>
<path fill="rgb(0,25,235)" d="M54.2 -28a1.5 2.1 0 1 0 3 0a1.5 2.1 0 1 0 -3 0zM78 -28.2a1.4 2.3 0 1 0 2.9 0a1.4 2.3 0 1 0 -2.9 0zM81.2 -28.2a1.5 2.3 0 1 0 3 0a1.5 2.3 0 1 0 -3 0zM85.9 -28.6a1.5 2.2 0 1 0 3 0a1.5 2.2 0 1 0 -3 0zM96.7 -28.1a1.5 2.3 0 1 0 3.1 0a1.5 2.3 0 1 0 -3.1 0zM112.6 -28.2a1.5 2.1 0 1 0 2.9 0a1.5 2.1 0 1 0 -2.9 0zM131.6 -28a1.5 2.3 0 1 0 3 0a1.5 2.3 0 1 0 -3 0zM147.3 -28a1.4 2.2 0 1 0 2.8 0a1.4 2.2 0 1 0 -2.8 0zM170.8 -28.3a1.5 2.3 0 1 0 2.9 0a1.5 2.3 0 1 0 -2.9 0zM178.5 -28.1a1.6 2.4 0 1 0 3.1 0a1.6 2.4 0 1 0 -3.1 0zM182.1 -28.1a1.6 2.2 0 1 0 3.1 0a1.6 2.2 0 1 0 -3.1 0zM186.5 -27.9a1.5 2.2 0 1 0 3 0a1.5 2.2 0 1 0 -3 0zM194.3 -27.7a1.5 2.2 0 1 0 3 0a1.5 2.2 0 1 0 -3 0zM205.9 -28a1.4 2.1 0 1 0 2.9 0a1.4 2.1 0 1 0 -2.9 0zM216.8 -28.3a1.5 2.1 0 1 0 2.9 0a1.5 2.1 0 1 0 -2.9 0zM220.8 -28.7a1.4 2.2 0 1 0 2.7 0a1.4 2.2 0 1 0 -2.7 0zM228.4 -28.5a1.4 2.2 0 1 0 2.8 0a1.4 2.2 0 1 0 -2.8 0zM232.8 -28.6a1.4 2.1 0 1 0 2.9 0a1.4 2.1 0 1 0 -2.9 0zM252.2 -27.7a1.4 2.4 0 1 0 2.9 0a1.4 2.4 0 1 0 -2.9 0zM263.2 -27.7a1.5 2.3 0 1 0 3 0a1.5 2.3 0 1 0 -3 0zM267.5 -28.3a1.6 2.3 0 1 0 3.2 0a1.6 2.3 0 1 0 -3.2 0zM271.6 -28a1.4 2.4 0 1 0 2.8 0a1.4 2.4 0 1 0 -2.8 0zM275.6 -27.7a1.4 2.1 0 1 0 2.7 0a1.4 2.1 0 1 0 -2.7 0zM278.6 -28.3a1.5 2.3 0 1 0 2.9 0a1.5 2.3 0 1 0 -2.9 0zM283.1 -28.7a1.6 2.2 0 1 0 3.2 0a1.6 2.2 0 1 0 -3.2 0zM287.1 -28.7a1.5 2.1 0 1 0 2.9 0a1.5 2.1 0 1 0 -2.9 0zM297.8 -28.2a1.5 2.2 0 1 0 3 0a1.5 2.2 0 1 0 -3 0zM306.5 -28.8a1.5 2.4 0 1 0 2.9 0a1.5 2.4 0 1 0 -2.9 0zM310.1 -28.8a1.5 2.4 0 1 0 3.1 0a1.5 2.4 0 1 0 -3.1 0zM54.3 -23.1a1.6 2.4 0 1 0 3.1 0a1.6 2.4 0 1 0 -3.1 0zM66.7 -23.1a1.5 2.1 0 1 0 3 0a1.5 2.1 0 1 0 -3 0zM154.7 -23.7a1.5 2.3 0 1 0 3.1 0a1.5 2.3 0 1 0 -3.1 0zM158.8 -22.8a1.4 2.1 0 1 0 2.7 0a1.4 2.1 0 1 0 -2.7 0zM15.6 -11.8a1.6 2.2 0 1 0 3.1 0a1.6 2.2 0 1 0 -3.1 0zM19.8 -11.9a1.4 2.6 0 1 0 2.9 0a1.4 2.6 0 1 0 -2.9 0zM23.7 -11.4a1.4 2.2 0 1 0 2.8 0a1.4 2.2 0 1 0 -2.8 0zM27.4 -12.1a1.5 2.5 0 1 0 2.9 0a1.5 2.5 0 1 0 -2.9 0zM35.1 -11a1.6 2.5 0 1 0 3.2 0a1.6 2.5 0 1 0 -3.2 0zM39.1 -11.6a1.6 2.2 0 1 0 3.2 0a1.6 2.2 0 1 0 -3.2 0zM50.6 -11.9a1.5 2.6 0 1 0 3.1 0a1.5 2.6 0 1 0 -3.1 0zM62.4 -11.4a1.6 2.5 0 1 0 3.1 0a1.6 2.5 0 1 0 -3.1 0zM73.8 -11.2a1.4 2.5 0 1 0 2.7 0a1.4 2.5 0 1 0 -2.7 0zM78.3 -11.1a1.4 2.5 0 1 0 2.8 0a1.4 2.5 0 1 0 -2.8 0zM81.5 -11.9a1.4 2.2 0 1 0 2.7 0a1.4 2.2 0 1 0 -2.7 0zM93.7 -11.1a1.6 2.4 0 1 0 3.2 0a1.6 2.4 0 1 0 -3.2 0zM97.4 -12a1.4 2.4 0 1 0 2.8 0a1.4 2.4 0 1 0 -2.8 0zM100.9 -11.6a1.5 2.2 0 1 0 3.1 0a1.5 2.2 0 1 0 -3.1 0zM104.9 -11.6a1.4 2.2 0 1 0 2.8 0a1.4 2.2 0 1 0 -2.8 0zM116.4 -11.4a1.4 2.3 0 1 0 2.8 0a1.4 2.3 0 1 0 -2.8 0zM143.1 -11.6a1.5 2.2 0 1 0 3.1 0a1.5 2.2 0 1 0 -3.1 0zM155 -11.3a1.6 2.5 0 1 0 3.1 0a1.6 2.5 0 1 0 -3.1 0zM186 -11.6a1.4 2.5 0 1 0 2.9 0a1.4 2.5 0 1 0 -2.9 0zM197.2 -11.5a1.5 2.3 0 1 0 2.9 0a1.5 2.3 0 1 0 -2.9 0zM205.8 -11.8a1.4 2.4 0 1 0 2.7 0a1.4 2.4 0 1 0 -2.7 0zM236 -11.1a1.5 2.3 0 1 0 3.1 0a1.5 2.3 0 1 0 -3.1 0zM263.4 -12a1.6 2.4 0 1 0 3.1 0a1.6 2.4 0 1 0 -3.1 0zM267.8 -11.1a1.4 2.6 0 1 0 2.8 0a1.4 2.6 0 1 0 -2.8 0zM274.9 -12a1.5 2.3 0 1 0 3.1 0a1.5 2.3 0 1 0 -3.1 0zM278.9 -12.1a1.6 2.6 0 1 0 3.1 0a1.6 2.6 0 1 0 -3.1 0zM290.9 -11.7a1.4 2.6 0 1 0 2.9 0a1.4 2.6 0 1 0 -2.9 0zM38.8 -6.8a1.4 2.4 0 1 0 2.9 0a1.4 2.4 0 1 0 -2.9 0zM47.2 -6.8a1.4 2.5 0 1 0 2.9 0a1.4 2.5 0 1 0 -2.9 0zM182.2 -6.7a1.5 2.2 0 1 0 3 0a1.5 2.2 0 1 0 -3 0zM190.4 -6.3a1.4 2.3 0 1 0 2.9 0a1.4 2.3 0 1 0 -2.9 0zM197.8 -6a1.6 2.4 0 1 0 3.1 0a1.6 2.4 0 1 0 -3.1 0zM205.8 -6.2a1.6 2.5 0 1 0 3.1 0a1.6 2.5 0 1 0 -3.1 0zM213.4 -5.9a1.4 2.2 0 1 0 2.9 0a1.4 2.2 0 1 0 -2.9 0zM220.9 -6.1a1.4 2.4 0 1 0 2.9 0a1.4 2.4 0 1 0 -2.9 0zM229.1 -5.9a1.4 2.5 0 1 0 2.8 0a1.4 2.5 0 1 0 -2.8 0z"/>
<path fill="rgb(0,0,225)" d="M154.9 -28.4a1.7 2.3 0 1 0 3.4 0a1.7 2.3 0 1 0 -3.4 0zM159.3 -28.1a1.6 2.2 0 1 0 3.2 0a1.6 2.2 0 1 0 -3.2 0zM189.8 -28.2a1.8 2.4 0 1 0 3.5 0a1.8 2.4 0 1 0 -3.5 0zM198.1 -27.8a1.6 2.2 0 1 0 3.2 0a1.6 2.2 0 1 0 -3.2 0zM209.6 -28a1.6 2.3 0 1 0 3.2 0a1.6 2.3 0 1 0 -3.2 0zM236 -28.3a1.7 2.2 0 1 0 3.4 0a1.7 2.2 0 1 0 -3.4 0zM240.3 -27.8a1.7 2.3 0 1 0 3.5 0a1.7 2.3 0 1 0 -3.5 0zM248 -28.6a1.6 2.2 0 1 0 3.2 0a1.6 2.2 0 1 0 -3.2 0zM259.9 -28.5a1.7 2.1 0 1 0 3.3 0a1.7 2.1 0 1 0 -3.3 0zM313.6 -28.3a1.7 2.4 0 1 0 3.4 0a1.7 2.4 0 1 0 -3.4 0zM30.7 -12.2a1.7 2.7 0 1 0 3.4 0a1.7 2.7 0 1 0 -3.4 0zM47.1 -11.7a1.6 2.5 0 1 0 3.3 0a1.6 2.5 0 1 0 -3.3 0zM54.2 -11.2a1.7 2.6 0 1 0 3.5 0a1.7 2.6 0 1 0 -3.5 0zM89.3 -11.4a1.7 2.6 0 1 0 3.5 0a1.7 2.6 0 1 0 -3.5 0zM189.9 -11.7a1.7 2.4 0 1 0 3.4 0a1.7 2.4 0 1 0 -3.4 0zM194.2 -12a1.6 2.6 0 1 0 3.2 0a1.6 2.6 0 1 0 -3.2 0zM209.5 -11.3a1.7 2.6 0 1 0 3.5 0a1.7 2.6 0 1 0 -3.5 0zM212.8 -11.8a1.7 2.5 0 1 0 3.4 0a1.7 2.5 0 1 0 -3.4 0zM216.6 -11.9a1.7 2.7 0 1 0 3.4 0a1.7 2.7 0 1 0 -3.4 0zM224.2 -11.2a1.7 2.4 0 1 0 3.4 0a1.7 2.4 0 1 0 -3.4 0zM228.2 -12a1.7 2.7 0 1 0 3.4 0a1.7 2.7 0 1 0 -3.4 0zM232.1 -11.8a1.8 2.4 0 1 0 3.5 0a1.8 2.4 0 1 0 -3.5 0zM240.2 -11.1a1.6 2.7 0 1 0 3.2 0a1.6 2.7 0 1 0 -3.2 0zM244.2 -11.1a1.7 2.6 0 1 0 3.4 0a1.7 2.6 0 1 0 -3.4 0zM247.6 -11.7a1.6 2.6 0 1 0 3.2 0a1.6 2.6 0 1 0 -3.2 0zM252.1 -12a1.7 2.5 0 1 0 3.5 0a1.7 2.5 0 1 0 -3.5 0zM259.5 -11.3a1.7 2.5 0 1 0 3.4 0a1.7 2.5 0 1 0 -3.4 0zM270.8 -11.7a1.6 2.6 0 1 0 3.2 0a1.6 2.6 0 1 0 -3.2 0z"/>
<path fill="rgb(0,0,140)" d="M220.7 -11.7a1.6 2.4 0 1 0 3.2 0a1.6 2.4 0 1 0 -3.2 0z"/>
</g>
<rect x="0" y="-20.9" width="357.7" height="1.5" fill="#fff"/>
</g>
<path d="M-5.75 -61.3 V19.9 H342.1" fill="none" stroke="#262626" stroke-width="1"/>
<path d="M-9 0.00 H-5.75" stroke="#262626" stroke-width="1"/>
<text x="-12.4" y="4.20" text-anchor="end" class="t">0</text>
<path d="M-9 -11.60 H-5.75" stroke="#262626" stroke-width="1"/>
<text x="-12.4" y="-7.40" text-anchor="end" class="t">3</text>
<path d="M-9 -23.21 H-5.75" stroke="#262626" stroke-width="1"/>
<text x="-12.4" y="-19.01" text-anchor="end" class="t">6</text>
<path d="M-9 -34.81 H-5.75" stroke="#262626" stroke-width="1"/>
<text x="-12.4" y="-30.61" text-anchor="end" class="t">9</text>
<path d="M0.00 19.9 V23.1" stroke="#262626" stroke-width="1"/>
<text x="0.00" y="35.4" text-anchor="middle" class="t">0</text>
<path d="M38.68 19.9 V23.1" stroke="#262626" stroke-width="1"/>
<text x="38.68" y="35.4" text-anchor="middle" class="t">10</text>
<path d="M77.36 19.9 V23.1" stroke="#262626" stroke-width="1"/>
<text x="77.36" y="35.4" text-anchor="middle" class="t">20</text>
<path d="M116.04 19.9 V23.1" stroke="#262626" stroke-width="1"/>
<text x="116.04" y="35.4" text-anchor="middle" class="t">30</text>
<path d="M154.72 19.9 V23.1" stroke="#262626" stroke-width="1"/>
<text x="154.72" y="35.4" text-anchor="middle" class="t">40</text>
<path d="M193.40 19.9 V23.1" stroke="#262626" stroke-width="1"/>
<text x="193.40" y="35.4" text-anchor="middle" class="t">50</text>
<path d="M232.08 19.9 V23.1" stroke="#262626" stroke-width="1"/>
<text x="232.08" y="35.4" text-anchor="middle" class="t">60</text>
<path d="M270.76 19.9 V23.1" stroke="#262626" stroke-width="1"/>
<text x="270.76" y="35.4" text-anchor="middle" class="t">70</text>
<path d="M309.44 19.9 V23.1" stroke="#262626" stroke-width="1"/>
<text x="309.44" y="35.4" text-anchor="middle" class="t">80</text>
<text x="168.2" y="50.06" text-anchor="middle" class="t">Longitudinal Distance (m)</text>
<text transform="translate(-26,-19.6) rotate(-90)" x="0" y="0" text-anchor="middle" class="t">Transverse Distance (m)</text>
<path d="M0 0 H297.06 M40.61 -40.61 H337.68" stroke="#000" stroke-width="1.9" fill="none" stroke-linecap="square"/>
<path d="M0 0 L40.61 -40.61 M297.06 0 L337.68 -40.61" stroke="#000" stroke-width="1.9" fill="none" stroke-dasharray="7.4 3.2"/>
<rect x="363.6" y="-60.9" width="4.5" height="80.8" fill="url(#cb)" stroke="#444" stroke-width="0.5"/>
<path d="M368.1 19.90 H371.1" stroke="#262626" stroke-width="1"/>
<text x="374.5" y="24.10" class="t">3</text>
<path d="M368.1 -7.03 H371.1" stroke="#262626" stroke-width="1"/>
<text x="374.5" y="-2.83" class="t">4</text>
<path d="M368.1 -33.96 H371.1" stroke="#262626" stroke-width="1"/>
<text x="374.5" y="-29.76" class="t">5</text>
<path d="M368.1 -60.89 H371.1" stroke="#262626" stroke-width="1"/>
<text x="374.5" y="-56.69" class="t">6</text>
<text transform="translate(394.3,-20.8) rotate(-90)" text-anchor="middle" class="t">Impedance Magnitude</text>
<text transform="translate(407.45,-20.85) rotate(-90)" text-anchor="middle" class="t" textLength="39.5" lengthAdjust="spacing">(10<tspan font-size="8" dy="-4">x</tspan><tspan dy="4"> Ω)</tspan></text></g><g transform="translate(35.2,533.0)"><clipPath id="cl3"><polygon points="8.1,-8.1 305.1,-8.1 329.2,-32.1 32.1,-32.1"/></clipPath>
<g clip-path="url(#cl3)"><g filter="url(#bl)">
<path fill="rgb(255,120,0)" d="M-3 -35.1H35.1V-27H-3zM73.5 -35.1H81.5V-27H73.5zM89 -35.1H93.1V-27H89zM104.4 -35.1H108.6V-27H104.4zM112.2 -35.1H116.3V-27H112.2zM119.9 -35.1H124.1V-27H119.9zM127.6 -35.1H131.8V-27H127.6zM135.4 -35.1H139.5V-27H135.4zM143.1 -35.1H155V-27H143.1zM162.5 -35.1H166.6V-27H162.5zM324.9 -35.1H346.7V-27H324.9zM30.9 -27.3H35.1V-22.2H30.9zM112.2 -27.3H116.3V-22.2H112.2zM119.9 -27.3H124.1V-22.2H119.9zM127.6 -27.3H131.8V-22.2H127.6zM139.2 -27.3H143.4V-22.2H139.2zM324.9 -27.3H346.7V-22.2H324.9zM-3 -22.5H23.5V-17.4H-3zM46.4 -22.5H54.5V-17.4H46.4zM77.4 -22.5H81.5V-17.4H77.4zM89 -22.5H93.1V-17.4H89zM96.7 -22.5H104.7V-17.4H96.7zM108.3 -22.5H116.3V-17.4H108.3zM119.9 -22.5H124.1V-17.4H119.9zM139.2 -22.5H143.4V-17.4H139.2zM166.3 -22.5H170.5V-17.4H166.3zM193.4 -22.5H197.6V-17.4H193.4zM321 -22.5H346.7V-17.4H321zM85.1 -17.7H89.3V-12.6H85.1zM108.3 -17.7H112.5V-12.6H108.3zM119.9 -17.7H124.1V-12.6H119.9zM139.2 -17.7H143.4V-12.6H139.2zM166.3 -17.7H170.5V-12.6H166.3zM305.6 -17.7H309.7V-12.6H305.6zM317.2 -17.7H346.7V-12.6H317.2zM-3 -12.9H15.8V-4.8H-3zM69.6 -12.9H73.8V-4.8H69.6zM108.3 -12.9H112.5V-4.8H108.3zM123.8 -12.9H127.9V-4.8H123.8zM131.5 -12.9H135.7V-4.8H131.5zM139.2 -12.9H143.4V-4.8H139.2zM162.5 -12.9H170.5V-4.8H162.5zM305.6 -12.9H309.7V-4.8H305.6z"/>
<path fill="rgb(190,255,60)" d="M34.8 -35.1H39V-27H34.8zM81.2 -35.1H85.4V-27H81.2zM96.7 -35.1H100.9V-27H96.7zM131.5 -35.1H135.7V-27H131.5zM174.1 -35.1H178.2V-27H174.1zM274.6 -35.1H278.8V-27H274.6zM290.1 -35.1H294.3V-27H290.1zM305.6 -35.1H309.7V-27H305.6zM317.2 -35.1H321.3V-27H317.2zM38.7 -27.3H42.8V-22.2H38.7zM317.2 -27.3H321.3V-22.2H317.2zM81.2 -22.5H85.4V-17.4H81.2zM294 -22.5H298.1V-17.4H294zM313.3 -22.5H317.5V-17.4H313.3zM274.6 -17.7H278.8V-12.6H274.6zM282.4 -17.7H286.5V-12.6H282.4zM290.1 -17.7H294.3V-12.6H290.1zM297.8 -17.7H302V-12.6H297.8zM309.4 -17.7H313.6V-12.6H309.4zM127.6 -12.9H131.8V-4.8H127.6zM290.1 -12.9H294.3V-4.8H290.1zM297.8 -12.9H302V-4.8H297.8z"/>
<path fill="rgb(250,240,0)" d="M38.7 -35.1H46.7V-27H38.7zM69.6 -35.1H73.8V-27H69.6zM321 -35.1H325.2V-27H321zM89 -27.3H93.1V-22.2H89zM104.4 -27.3H108.6V-22.2H104.4zM143.1 -27.3H147.3V-22.2H143.1zM170.2 -27.3H174.4V-22.2H170.2zM321 -27.3H325.2V-22.2H321zM85.1 -22.5H89.3V-17.4H85.1zM104.4 -22.5H108.6V-17.4H104.4zM162.5 -22.5H166.6V-17.4H162.5zM317.2 -22.5H321.3V-17.4H317.2zM46.4 -17.7H50.6V-12.6H46.4zM100.6 -17.7H104.7V-12.6H100.6zM123.8 -17.7H127.9V-12.6H123.8zM301.7 -17.7H305.9V-12.6H301.7zM313.3 -17.7H317.5V-12.6H313.3zM85.1 -12.9H89.3V-4.8H85.1zM147 -12.9H151.2V-4.8H147zM174.1 -12.9H178.2V-4.8H174.1zM301.7 -12.9H305.9V-4.8H301.7zM309.4 -12.9H346.7V-4.8H309.4z"/>
<path fill="rgb(100,255,150)" d="M46.4 -35.1H50.6V-27H46.4zM61.9 -35.1H66.1V-27H61.9zM85.1 -35.1H89.3V-27H85.1zM92.8 -35.1H97V-27H92.8zM100.6 -35.1H104.7V-27H100.6zM158.6 -35.1H162.8V-27H158.6zM170.2 -35.1H174.4V-27H170.2zM193.4 -35.1H197.6V-27H193.4zM201.1 -35.1H205.3V-27H201.1zM212.7 -35.1H216.9V-27H212.7zM224.3 -35.1H228.5V-27H224.3zM243.7 -35.1H247.9V-27H243.7zM255.3 -35.1H259.5V-27H255.3zM270.8 -35.1H274.9V-27H270.8zM278.5 -35.1H282.7V-27H278.5zM286.2 -35.1H290.4V-27H286.2zM294 -35.1H298.1V-27H294zM301.7 -35.1H305.9V-27H301.7zM309.4 -35.1H317.5V-27H309.4zM42.5 -27.3H50.6V-22.2H42.5zM96.7 -27.3H100.9V-22.2H96.7zM135.4 -27.3H139.5V-22.2H135.4zM162.5 -27.3H166.6V-22.2H162.5zM193.4 -27.3H197.6V-22.2H193.4zM201.1 -27.3H205.3V-22.2H201.1zM224.3 -27.3H228.5V-22.2H224.3zM92.8 -22.5H97V-17.4H92.8zM201.1 -22.5H205.3V-17.4H201.1zM224.3 -22.5H228.5V-17.4H224.3zM255.3 -22.5H259.5V-17.4H255.3zM274.6 -22.5H278.8V-17.4H274.6zM282.4 -22.5H286.5V-17.4H282.4zM290.1 -22.5H294.3V-17.4H290.1zM297.8 -22.5H302V-17.4H297.8zM305.6 -22.5H309.7V-17.4H305.6zM38.7 -17.7H42.8V-12.6H38.7zM81.2 -17.7H85.4V-12.6H81.2zM131.5 -17.7H135.7V-12.6H131.5zM162.5 -17.7H166.6V-12.6H162.5zM170.2 -17.7H174.4V-12.6H170.2zM177.9 -17.7H182.1V-12.6H177.9zM185.7 -17.7H189.8V-12.6H185.7zM224.3 -17.7H228.5V-12.6H224.3zM239.8 -17.7H244V-12.6H239.8zM270.8 -17.7H274.9V-12.6H270.8zM278.5 -17.7H282.7V-12.6H278.5zM286.2 -17.7H290.4V-12.6H286.2zM294 -17.7H298.1V-12.6H294zM19.3 -12.9H23.5V-4.8H19.3zM46.4 -12.9H50.6V-4.8H46.4zM65.8 -12.9H69.9V-4.8H65.8zM96.7 -12.9H100.9V-4.8H96.7zM116 -12.9H124.1V-4.8H116zM170.2 -12.9H174.4V-4.8H170.2zM263 -12.9H267.2V-4.8H263zM282.4 -12.9H290.4V-4.8H282.4zM294 -12.9H298.1V-4.8H294z"/>
<path fill="rgb(30,240,225)" d="M50.3 -35.1H54.5V-27H50.3zM154.7 -35.1H158.9V-27H154.7zM166.3 -35.1H170.5V-27H166.3zM177.9 -35.1H193.7V-27H177.9zM197.3 -35.1H201.4V-27H197.3zM205 -35.1H213V-27H205zM216.6 -35.1H224.6V-27H216.6zM228.2 -35.1H244V-27H228.2zM247.6 -35.1H255.6V-27H247.6zM259.2 -35.1H271.1V-27H259.2zM282.4 -35.1H286.5V-27H282.4zM297.8 -35.1H302V-27H297.8zM50.3 -27.3H54.5V-22.2H50.3zM61.9 -27.3H66.1V-22.2H61.9zM131.5 -27.3H135.7V-22.2H131.5zM220.5 -27.3H224.6V-22.2H220.5zM255.3 -27.3H259.5V-22.2H255.3zM294 -27.3H298.1V-22.2H294zM30.9 -22.5H35.1V-17.4H30.9zM131.5 -22.5H135.7V-17.4H131.5zM216.6 -22.5H220.8V-17.4H216.6zM235.9 -22.5H240.1V-17.4H235.9zM243.7 -22.5H247.9V-17.4H243.7zM263 -22.5H267.2V-17.4H263zM27.1 -17.7H31.2V-12.6H27.1zM61.9 -17.7H66.1V-12.6H61.9zM147 -17.7H151.2V-12.6H147zM174.1 -17.7H178.2V-12.6H174.1zM193.4 -17.7H197.6V-12.6H193.4zM232.1 -17.7H240.1V-12.6H232.1zM243.7 -17.7H255.6V-12.6H243.7zM266.9 -17.7H271.1V-12.6H266.9zM58 -12.9H62.2V-4.8H58zM150.9 -12.9H155V-4.8H150.9zM181.8 -12.9H186V-4.8H181.8zM201.1 -12.9H205.3V-4.8H201.1zM208.9 -12.9H213V-4.8H208.9z"/>
<path fill="rgb(0,215,255)" d="M54.2 -35.1H58.3V-27H54.2zM34.8 -27.3H39V-22.2H34.8zM58 -27.3H62.2V-22.2H58zM69.6 -27.3H81.5V-22.2H69.6zM85.1 -27.3H89.3V-22.2H85.1zM100.6 -27.3H104.7V-22.2H100.6zM108.3 -27.3H112.5V-22.2H108.3zM123.8 -27.3H127.9V-22.2H123.8zM147 -27.3H155V-22.2H147zM166.3 -27.3H170.5V-22.2H166.3zM174.1 -27.3H178.2V-22.2H174.1zM212.7 -27.3H216.9V-22.2H212.7zM228.2 -27.3H232.4V-22.2H228.2zM235.9 -27.3H244V-22.2H235.9zM247.6 -27.3H251.7V-22.2H247.6zM266.9 -27.3H271.1V-22.2H266.9zM274.6 -27.3H282.7V-22.2H274.6zM286.2 -27.3H294.3V-22.2H286.2zM297.8 -27.3H313.6V-22.2H297.8zM23.2 -22.5H31.2V-17.4H23.2zM34.8 -22.5H39V-17.4H34.8zM42.5 -22.5H46.7V-17.4H42.5zM54.2 -22.5H66.1V-17.4H54.2zM73.5 -22.5H77.7V-17.4H73.5zM123.8 -22.5H131.8V-17.4H123.8zM135.4 -22.5H139.5V-17.4H135.4zM147 -22.5H155V-17.4H147zM174.1 -22.5H182.1V-17.4H174.1zM208.9 -22.5H213V-17.4H208.9zM232.1 -22.5H236.2V-17.4H232.1zM239.8 -22.5H244V-17.4H239.8zM251.4 -22.5H255.6V-17.4H251.4zM259.2 -22.5H263.3V-17.4H259.2zM266.9 -22.5H274.9V-17.4H266.9zM278.5 -22.5H282.7V-17.4H278.5zM286.2 -22.5H290.4V-17.4H286.2zM301.7 -22.5H305.9V-17.4H301.7zM309.4 -22.5H313.6V-17.4H309.4zM-3 -17.7H19.6V-12.6H-3zM23.2 -17.7H27.4V-12.6H23.2zM30.9 -17.7H35.1V-12.6H30.9zM42.5 -17.7H46.7V-12.6H42.5zM50.3 -17.7H54.5V-12.6H50.3zM58 -17.7H62.2V-12.6H58zM65.8 -17.7H73.8V-12.6H65.8zM77.4 -17.7H81.5V-12.6H77.4zM92.8 -17.7H100.9V-12.6H92.8zM104.4 -17.7H108.6V-12.6H104.4zM127.6 -17.7H131.8V-12.6H127.6zM135.4 -17.7H139.5V-12.6H135.4zM150.9 -17.7H155V-12.6H150.9zM158.6 -17.7H162.8V-12.6H158.6zM181.8 -17.7H186V-12.6H181.8zM197.3 -17.7H205.3V-12.6H197.3zM208.9 -17.7H213V-12.6H208.9zM220.5 -17.7H224.6V-12.6H220.5zM255.3 -17.7H267.2V-12.6H255.3zM15.5 -12.9H19.6V-4.8H15.5zM27.1 -12.9H31.2V-4.8H27.1zM38.7 -12.9H42.8V-4.8H38.7zM50.3 -12.9H58.3V-4.8H50.3zM61.9 -12.9H66.1V-4.8H61.9zM73.5 -12.9H77.7V-4.8H73.5zM89 -12.9H93.1V-4.8H89zM154.7 -12.9H158.9V-4.8H154.7zM177.9 -12.9H182.1V-4.8H177.9zM189.5 -12.9H197.6V-4.8H189.5zM228.2 -12.9H232.4V-4.8H228.2zM239.8 -12.9H244V-4.8H239.8zM259.2 -12.9H263.3V-4.8H259.2zM270.8 -12.9H274.9V-4.8H270.8zM278.5 -12.9H282.7V-4.8H278.5z"/>
<path fill="rgb(0,50,245)" d="M58 -35.1H62.2V-27H58zM65.8 -35.1H69.9V-27H65.8zM54.2 -27.3H58.3V-22.2H54.2zM65.8 -27.3H69.9V-22.2H65.8zM81.2 -27.3H85.4V-22.2H81.2zM92.8 -27.3H97V-22.2H92.8zM154.7 -27.3H162.8V-22.2H154.7zM177.9 -27.3H193.7V-22.2H177.9zM197.3 -27.3H201.4V-22.2H197.3zM205 -27.3H213V-22.2H205zM216.6 -27.3H220.8V-22.2H216.6zM232.1 -27.3H236.2V-22.2H232.1zM243.7 -27.3H247.9V-22.2H243.7zM251.4 -27.3H255.6V-22.2H251.4zM259.2 -27.3H267.2V-22.2H259.2zM270.8 -27.3H274.9V-22.2H270.8zM282.4 -27.3H286.5V-22.2H282.4zM313.3 -27.3H317.5V-22.2H313.3zM38.7 -22.5H42.8V-17.4H38.7zM65.8 -22.5H73.8V-17.4H65.8zM143.1 -22.5H147.3V-17.4H143.1zM154.7 -22.5H162.8V-17.4H154.7zM170.2 -22.5H174.4V-17.4H170.2zM181.8 -22.5H193.7V-17.4H181.8zM197.3 -22.5H201.4V-17.4H197.3zM205 -22.5H209.2V-17.4H205zM212.7 -22.5H216.9V-17.4H212.7zM220.5 -22.5H224.6V-17.4H220.5zM228.2 -22.5H232.4V-17.4H228.2zM247.6 -22.5H251.7V-17.4H247.6zM19.3 -17.7H23.5V-12.6H19.3zM34.8 -17.7H39V-12.6H34.8zM54.2 -17.7H58.3V-12.6H54.2zM73.5 -17.7H77.7V-12.6H73.5zM89 -17.7H93.1V-12.6H89zM143.1 -17.7H147.3V-12.6H143.1zM154.7 -17.7H158.9V-12.6H154.7zM189.5 -17.7H193.7V-12.6H189.5zM205 -17.7H209.2V-12.6H205zM212.7 -17.7H220.8V-12.6H212.7zM228.2 -17.7H232.4V-12.6H228.2zM23.2 -12.9H27.4V-4.8H23.2zM30.9 -12.9H39V-4.8H30.9zM42.5 -12.9H46.7V-4.8H42.5zM77.4 -12.9H85.4V-4.8H77.4zM92.8 -12.9H97V-4.8H92.8zM100.6 -12.9H108.6V-4.8H100.6zM135.4 -12.9H139.5V-4.8H135.4zM143.1 -12.9H147.3V-4.8H143.1zM158.6 -12.9H162.8V-4.8H158.6zM185.7 -12.9H189.8V-4.8H185.7zM197.3 -12.9H201.4V-4.8H197.3zM205 -12.9H209.2V-4.8H205zM212.7 -12.9H216.9V-4.8H212.7zM220.5 -12.9H228.5V-4.8H220.5zM235.9 -12.9H240.1V-4.8H235.9zM243.7 -12.9H247.9V-4.8H243.7zM251.4 -12.9H259.5V-4.8H251.4zM266.9 -12.9H271.1V-4.8H266.9zM274.6 -12.9H278.8V-4.8H274.6z"/>
<path fill="rgb(240,35,0)" d="M108.3 -35.1H112.5V-27H108.3zM116 -35.1H120.2V-27H116zM123.8 -35.1H127.9V-27H123.8zM139.2 -35.1H143.4V-27H139.2zM-3 -27.3H31.2V-22.2H-3zM116 -27.3H120.2V-22.2H116zM116 -22.5H120.2V-17.4H116zM112.2 -17.7H120.2V-12.6H112.2zM112.2 -12.9H116.3V-4.8H112.2z"/>
<path fill="rgb(0,10,190)" d="M216.6 -12.9H220.8V-4.8H216.6zM232.1 -12.9H236.2V-4.8H232.1zM247.6 -12.9H251.7V-4.8H247.6z"/>
<path fill="rgb(0,25,235)" d="M55.1 -29.4a1.5 2.3 0 1 0 2.9 0a1.5 2.3 0 1 0 -2.9 0zM34.9 -25.5a1.4 2.3 0 1 0 2.8 0a1.4 2.3 0 1 0 -2.8 0zM58.2 -24.6a1.4 2.3 0 1 0 2.9 0a1.4 2.3 0 1 0 -2.9 0zM69.9 -24.4a1.4 2.2 0 1 0 2.9 0a1.4 2.2 0 1 0 -2.9 0zM74.1 -25.2a1.5 2.1 0 1 0 2.9 0a1.5 2.1 0 1 0 -2.9 0zM77.4 -24.4a1.6 2.4 0 1 0 3.2 0a1.6 2.4 0 1 0 -3.2 0zM85.2 -25.4a1.5 2.1 0 1 0 2.9 0a1.5 2.1 0 1 0 -2.9 0zM100.6 -24.3a1.5 2.4 0 1 0 2.9 0a1.5 2.4 0 1 0 -2.9 0zM108.8 -25.2a1.5 2.3 0 1 0 3.1 0a1.5 2.3 0 1 0 -3.1 0zM124.3 -24.5a1.5 2.2 0 1 0 3 0a1.5 2.2 0 1 0 -3 0zM147.3 -25a1.5 2 0 1 0 3.1 0a1.5 2 0 1 0 -3.1 0zM150.8 -24.9a1.5 2.3 0 1 0 3 0a1.5 2.3 0 1 0 -3 0zM166.6 -25.1a1.5 2.3 0 1 0 3 0a1.5 2.3 0 1 0 -3 0zM174.6 -24.3a1.6 2.2 0 1 0 3.1 0a1.6 2.2 0 1 0 -3.1 0zM213.3 -25a1.4 2.3 0 1 0 2.9 0a1.4 2.3 0 1 0 -2.9 0zM228.6 -25.5a1.6 2.4 0 1 0 3.1 0a1.6 2.4 0 1 0 -3.1 0zM236.3 -25.2a1.5 2.3 0 1 0 3 0a1.5 2.3 0 1 0 -3 0zM239.7 -24.8a1.6 2.3 0 1 0 3.2 0a1.6 2.3 0 1 0 -3.2 0zM248.3 -24.5a1.5 2.3 0 1 0 3.1 0a1.5 2.3 0 1 0 -3.1 0zM267.5 -25.4a1.6 2.4 0 1 0 3.2 0a1.6 2.4 0 1 0 -3.2 0zM275.5 -25.4a1.5 2.3 0 1 0 2.9 0a1.5 2.3 0 1 0 -2.9 0zM278.9 -24.9a1.4 2.3 0 1 0 2.7 0a1.4 2.3 0 1 0 -2.7 0zM286.6 -24.7a1.4 2.1 0 1 0 2.8 0a1.4 2.1 0 1 0 -2.8 0zM290.4 -25.2a1.5 2.3 0 1 0 2.9 0a1.5 2.3 0 1 0 -2.9 0zM298.3 -24.7a1.4 2.1 0 1 0 2.9 0a1.4 2.1 0 1 0 -2.9 0zM301.8 -24.7a1.4 2.1 0 1 0 2.9 0a1.4 2.1 0 1 0 -2.9 0zM305.7 -24.7a1.6 2.2 0 1 0 3.2 0a1.6 2.2 0 1 0 -3.2 0zM309.9 -24.7a1.5 2.3 0 1 0 3.1 0a1.5 2.3 0 1 0 -3.1 0zM24.1 -19.8a1.5 2.3 0 1 0 3 0a1.5 2.3 0 1 0 -3 0zM28 -20.2a1.5 2.4 0 1 0 3 0a1.5 2.4 0 1 0 -3 0zM35.1 -19.6a1.4 2.1 0 1 0 2.8 0a1.4 2.1 0 1 0 -2.8 0zM43.1 -20.4a1.4 2 0 1 0 2.9 0a1.4 2 0 1 0 -2.9 0zM54.9 -20.4a1.5 2.3 0 1 0 3 0a1.5 2.3 0 1 0 -3 0zM58.7 -19.5a1.4 2.1 0 1 0 2.8 0a1.4 2.1 0 1 0 -2.8 0zM62.1 -19.7a1.4 2.1 0 1 0 2.8 0a1.4 2.1 0 1 0 -2.8 0zM74 -19.9a1.5 2.3 0 1 0 2.9 0a1.5 2.3 0 1 0 -2.9 0zM124.5 -19.8a1.5 2.1 0 1 0 3 0a1.5 2.1 0 1 0 -3 0zM128.6 -20.4a1.5 2.3 0 1 0 3 0a1.5 2.3 0 1 0 -3 0zM135.5 -19.8a1.5 2.3 0 1 0 2.9 0a1.5 2.3 0 1 0 -2.9 0zM147.1 -20.5a1.4 2.1 0 1 0 2.9 0a1.4 2.1 0 1 0 -2.9 0zM151.2 -19.6a1.4 2.3 0 1 0 2.9 0a1.4 2.3 0 1 0 -2.9 0zM174.6 -20.2a1.4 2 0 1 0 2.8 0a1.4 2 0 1 0 -2.8 0zM178.8 -20.6a1.5 2.3 0 1 0 3 0a1.5 2.3 0 1 0 -3 0zM209.2 -20.2a1.5 2.2 0 1 0 3 0a1.5 2.2 0 1 0 -3 0zM232.1 -20.4a1.6 2.3 0 1 0 3.2 0a1.6 2.3 0 1 0 -3.2 0zM240.8 -19.9a1.4 2.3 0 1 0 2.7 0a1.4 2.3 0 1 0 -2.7 0zM251.7 -19.8a1.6 2.2 0 1 0 3.1 0a1.6 2.2 0 1 0 -3.1 0zM259.9 -19.8a1.4 2.3 0 1 0 2.9 0a1.4 2.3 0 1 0 -2.9 0zM267 -20a1.5 2.2 0 1 0 3 0a1.5 2.2 0 1 0 -3 0zM270.7 -19.8a1.5 2.2 0 1 0 3 0a1.5 2.2 0 1 0 -3 0zM278.8 -19.9a1.4 2.2 0 1 0 2.7 0a1.4 2.2 0 1 0 -2.7 0zM287 -20.5a1.5 2.4 0 1 0 3 0a1.5 2.4 0 1 0 -3 0zM301.8 -19.8a1.4 2.3 0 1 0 2.9 0a1.4 2.3 0 1 0 -2.9 0zM309.4 -20.1a1.5 2.2 0 1 0 3 0a1.5 2.2 0 1 0 -3 0zM0.1 -15.5a1.4 2.3 0 1 0 2.8 0a1.4 2.3 0 1 0 -2.8 0zM4.8 -15.7a1.5 2.1 0 1 0 2.9 0a1.5 2.1 0 1 0 -2.9 0zM8.2 -14.7a1.5 2.1 0 1 0 2.9 0a1.5 2.1 0 1 0 -2.9 0zM12 -14.9a1.5 2.3 0 1 0 3.1 0a1.5 2.3 0 1 0 -3.1 0zM15.4 -15.7a1.6 2.2 0 1 0 3.2 0a1.6 2.2 0 1 0 -3.2 0zM23.2 -15a1.5 2.3 0 1 0 2.9 0a1.5 2.3 0 1 0 -2.9 0zM31.8 -15.2a1.5 2.3 0 1 0 3.1 0a1.5 2.3 0 1 0 -3.1 0zM42.4 -15.5a1.6 2.3 0 1 0 3.1 0a1.6 2.3 0 1 0 -3.1 0zM51 -15.2a1.5 2.3 0 1 0 2.9 0a1.5 2.3 0 1 0 -2.9 0zM58.2 -15a1.5 2.4 0 1 0 3 0a1.5 2.4 0 1 0 -3 0zM65.7 -15.3a1.5 2.4 0 1 0 3.1 0a1.5 2.4 0 1 0 -3.1 0zM69.9 -15.8a1.5 2.2 0 1 0 2.9 0a1.5 2.2 0 1 0 -2.9 0zM77.4 -15.3a1.6 2.3 0 1 0 3.1 0a1.6 2.3 0 1 0 -3.1 0zM92.9 -15.5a1.5 2.2 0 1 0 2.9 0a1.5 2.2 0 1 0 -2.9 0zM97.2 -15.3a1.5 2.4 0 1 0 3 0a1.5 2.4 0 1 0 -3 0zM104.9 -15.2a1.5 2.1 0 1 0 3 0a1.5 2.1 0 1 0 -3 0zM127.8 -14.8a1.5 2.2 0 1 0 2.9 0a1.5 2.2 0 1 0 -2.9 0zM136.4 -15.4a1.4 2.3 0 1 0 2.8 0a1.4 2.3 0 1 0 -2.8 0zM151.8 -14.8a1.4 2.4 0 1 0 2.7 0a1.4 2.4 0 1 0 -2.7 0zM159.4 -15.3a1.4 2.1 0 1 0 2.7 0a1.4 2.1 0 1 0 -2.7 0zM182.6 -15.3a1.4 2.1 0 1 0 2.9 0a1.4 2.1 0 1 0 -2.9 0zM197.5 -14.7a1.4 2.1 0 1 0 2.8 0a1.4 2.1 0 1 0 -2.8 0zM201.1 -15.6a1.5 2.2 0 1 0 3 0a1.5 2.2 0 1 0 -3 0zM209.6 -15.1a1.4 2.3 0 1 0 2.7 0a1.4 2.3 0 1 0 -2.7 0zM221.2 -15.3a1.4 2.1 0 1 0 2.9 0a1.4 2.1 0 1 0 -2.9 0zM255.2 -15.3a1.5 2.4 0 1 0 3.1 0a1.5 2.4 0 1 0 -3.1 0zM259.5 -15a1.5 2.4 0 1 0 2.9 0a1.5 2.4 0 1 0 -2.9 0zM263.5 -15.1a1.5 2.4 0 1 0 3 0a1.5 2.4 0 1 0 -3 0zM15.6 -10.9a1.6 2 0 1 0 3.1 0a1.6 2 0 1 0 -3.1 0zM27.2 -10a1.6 2.4 0 1 0 3.1 0a1.6 2.4 0 1 0 -3.1 0zM39.6 -10.9a1.5 2 0 1 0 2.9 0a1.5 2 0 1 0 -2.9 0zM50.9 -10a1.4 2.2 0 1 0 2.9 0a1.4 2.2 0 1 0 -2.9 0zM54.5 -10.2a1.6 2.3 0 1 0 3.1 0a1.6 2.3 0 1 0 -3.1 0zM62.6 -10.3a1.5 2.1 0 1 0 3 0a1.5 2.1 0 1 0 -3 0zM73.6 -10.1a1.4 2.3 0 1 0 2.8 0a1.4 2.3 0 1 0 -2.8 0zM88.9 -10.2a1.5 2.3 0 1 0 3 0a1.5 2.3 0 1 0 -3 0zM155.4 -9.9a1.6 2 0 1 0 3.2 0a1.6 2 0 1 0 -3.2 0zM178 -11a1.4 2.2 0 1 0 2.8 0a1.4 2.2 0 1 0 -2.8 0zM189.7 -11a1.4 2.2 0 1 0 2.7 0a1.4 2.2 0 1 0 -2.7 0zM193.6 -10.9a1.4 2.3 0 1 0 2.7 0a1.4 2.3 0 1 0 -2.7 0zM228.4 -10.1a1.5 2.4 0 1 0 3.1 0a1.5 2.4 0 1 0 -3.1 0zM240.3 -10a1.5 2.3 0 1 0 2.9 0a1.5 2.3 0 1 0 -2.9 0zM259.7 -10.8a1.5 2.1 0 1 0 3.1 0a1.5 2.1 0 1 0 -3.1 0zM271.4 -10.9a1.5 2.4 0 1 0 2.9 0a1.5 2.4 0 1 0 -2.9 0zM279.5 -10.4a1.4 2.3 0 1 0 2.8 0a1.4 2.3 0 1 0 -2.8 0z"/>
<path fill="rgb(0,0,225)" d="M58.1 -30.2a1.6 2.3 0 1 0 3.1 0a1.6 2.3 0 1 0 -3.1 0zM65.8 -30.2a1.8 2.4 0 1 0 3.5 0a1.8 2.4 0 1 0 -3.5 0zM54.2 -24.9a1.6 2.2 0 1 0 3.1 0a1.6 2.2 0 1 0 -3.1 0zM65.9 -24.5a1.7 2.3 0 1 0 3.5 0a1.7 2.3 0 1 0 -3.5 0zM81.5 -24.9a1.7 2.2 0 1 0 3.4 0a1.7 2.2 0 1 0 -3.4 0zM93.6 -24.7a1.6 2.4 0 1 0 3.1 0a1.6 2.4 0 1 0 -3.1 0zM155 -25a1.7 2.2 0 1 0 3.4 0a1.7 2.2 0 1 0 -3.4 0zM158.9 -24.9a1.7 2.3 0 1 0 3.4 0a1.7 2.3 0 1 0 -3.4 0zM177.9 -25.1a1.8 2.2 0 1 0 3.5 0a1.8 2.2 0 1 0 -3.5 0zM182.5 -24.5a1.6 2.3 0 1 0 3.1 0a1.6 2.3 0 1 0 -3.1 0zM186.3 -25.1a1.7 2.2 0 1 0 3.4 0a1.7 2.2 0 1 0 -3.4 0zM190 -24.5a1.6 2.1 0 1 0 3.1 0a1.6 2.1 0 1 0 -3.1 0zM197.7 -25.2a1.6 2.3 0 1 0 3.2 0a1.6 2.3 0 1 0 -3.2 0zM205.7 -24.6a1.6 2.4 0 1 0 3.2 0a1.6 2.4 0 1 0 -3.2 0zM209 -25a1.6 2.3 0 1 0 3.2 0a1.6 2.3 0 1 0 -3.2 0zM216.5 -24.7a1.7 2.5 0 1 0 3.5 0a1.7 2.5 0 1 0 -3.5 0zM232.5 -25.2a1.6 2.2 0 1 0 3.1 0a1.6 2.2 0 1 0 -3.1 0zM243.7 -24.9a1.6 2.5 0 1 0 3.1 0a1.6 2.5 0 1 0 -3.1 0zM251.5 -24.6a1.6 2.3 0 1 0 3.2 0a1.6 2.3 0 1 0 -3.2 0zM259.7 -24.9a1.7 2.3 0 1 0 3.4 0a1.7 2.3 0 1 0 -3.4 0zM263 -24.9a1.7 2.4 0 1 0 3.4 0a1.7 2.4 0 1 0 -3.4 0zM270.8 -25.2a1.7 2.4 0 1 0 3.4 0a1.7 2.4 0 1 0 -3.4 0zM283.1 -25.1a1.7 2.2 0 1 0 3.4 0a1.7 2.2 0 1 0 -3.4 0zM313.2 -25a1.6 2.4 0 1 0 3.2 0a1.6 2.4 0 1 0 -3.2 0zM39.2 -20.1a1.6 2.1 0 1 0 3.1 0a1.6 2.1 0 1 0 -3.1 0zM66.2 -20.1a1.7 2.5 0 1 0 3.4 0a1.7 2.5 0 1 0 -3.4 0zM70.2 -20.4a1.7 2.2 0 1 0 3.5 0a1.7 2.2 0 1 0 -3.5 0zM143.4 -20.6a1.7 2.2 0 1 0 3.3 0a1.7 2.2 0 1 0 -3.3 0zM155.4 -20.4a1.7 2.1 0 1 0 3.4 0a1.7 2.1 0 1 0 -3.4 0zM159.3 -20.5a1.7 2.5 0 1 0 3.4 0a1.7 2.5 0 1 0 -3.4 0zM170.3 -20.3a1.6 2.3 0 1 0 3.1 0a1.6 2.3 0 1 0 -3.1 0zM182 -20.2a1.6 2.4 0 1 0 3.3 0a1.6 2.4 0 1 0 -3.3 0zM186.3 -20.7a1.6 2.4 0 1 0 3.2 0a1.6 2.4 0 1 0 -3.2 0zM189.4 -20.3a1.7 2.5 0 1 0 3.5 0a1.7 2.5 0 1 0 -3.5 0zM197.1 -20.6a1.8 2.4 0 1 0 3.5 0a1.8 2.4 0 1 0 -3.5 0zM205.7 -20.1a1.7 2.2 0 1 0 3.4 0a1.7 2.2 0 1 0 -3.4 0zM213.3 -19.8a1.6 2.4 0 1 0 3.2 0a1.6 2.4 0 1 0 -3.2 0zM221.3 -19.8a1.6 2.5 0 1 0 3.2 0a1.6 2.5 0 1 0 -3.2 0zM228.1 -20.5a1.8 2.3 0 1 0 3.5 0a1.8 2.3 0 1 0 -3.5 0zM248.1 -19.7a1.8 2.4 0 1 0 3.5 0a1.8 2.4 0 1 0 -3.5 0zM19.8 -15.8a1.6 2.3 0 1 0 3.1 0a1.6 2.3 0 1 0 -3.1 0zM35.6 -15.2a1.6 2.3 0 1 0 3.2 0a1.6 2.3 0 1 0 -3.2 0zM54.8 -15a1.7 2.1 0 1 0 3.3 0a1.7 2.1 0 1 0 -3.3 0zM74.1 -14.9a1.7 2.3 0 1 0 3.4 0a1.7 2.3 0 1 0 -3.4 0zM88.9 -15.2a1.7 2.2 0 1 0 3.3 0a1.7 2.2 0 1 0 -3.3 0zM143.1 -14.7a1.7 2.2 0 1 0 3.4 0a1.7 2.2 0 1 0 -3.4 0zM154.6 -15.7a1.7 2.3 0 1 0 3.4 0a1.7 2.3 0 1 0 -3.4 0zM189.9 -14.9a1.6 2.1 0 1 0 3.3 0a1.6 2.1 0 1 0 -3.3 0zM205.6 -15.8a1.6 2.2 0 1 0 3.2 0a1.6 2.2 0 1 0 -3.2 0zM212.5 -15.5a1.8 2.2 0 1 0 3.5 0a1.8 2.2 0 1 0 -3.5 0zM217.2 -15a1.6 2.4 0 1 0 3.2 0a1.6 2.4 0 1 0 -3.2 0zM228.7 -15.6a1.6 2.1 0 1 0 3.1 0a1.6 2.1 0 1 0 -3.1 0zM23.2 -10.1a1.6 2.3 0 1 0 3.3 0a1.6 2.3 0 1 0 -3.3 0zM31.5 -10.9a1.7 2.3 0 1 0 3.4 0a1.7 2.3 0 1 0 -3.4 0zM35 -11a1.6 2.2 0 1 0 3.2 0a1.6 2.2 0 1 0 -3.2 0zM42.9 -10.7a1.6 2.4 0 1 0 3.1 0a1.6 2.4 0 1 0 -3.1 0zM77.1 -10.8a1.7 2.3 0 1 0 3.5 0a1.7 2.3 0 1 0 -3.5 0zM81.9 -10a1.7 2.2 0 1 0 3.4 0a1.7 2.2 0 1 0 -3.4 0zM93.1 -10.2a1.6 2.2 0 1 0 3.2 0a1.6 2.2 0 1 0 -3.2 0zM100.9 -10.2a1.6 2.4 0 1 0 3.1 0a1.6 2.4 0 1 0 -3.1 0zM105 -10.4a1.7 2.4 0 1 0 3.3 0a1.7 2.4 0 1 0 -3.3 0zM136 -10.1a1.6 2.2 0 1 0 3.2 0a1.6 2.2 0 1 0 -3.2 0zM143.3 -10.1a1.6 2.4 0 1 0 3.1 0a1.6 2.4 0 1 0 -3.1 0zM158.7 -11a1.6 2.2 0 1 0 3.2 0a1.6 2.2 0 1 0 -3.2 0zM186.3 -10.9a1.5 2.2 0 1 0 3.1 0a1.5 2.2 0 1 0 -3.1 0zM197.4 -10.6a1.7 2.2 0 1 0 3.5 0a1.7 2.2 0 1 0 -3.5 0zM205.6 -10.5a1.7 2.2 0 1 0 3.4 0a1.7 2.2 0 1 0 -3.4 0zM213.3 -10.8a1.7 2.2 0 1 0 3.3 0a1.7 2.2 0 1 0 -3.3 0zM220.8 -10.4a1.7 2.4 0 1 0 3.5 0a1.7 2.4 0 1 0 -3.5 0zM224.5 -10.7a1.6 2.4 0 1 0 3.2 0a1.6 2.4 0 1 0 -3.2 0zM236.5 -11a1.7 2.3 0 1 0 3.3 0a1.7 2.3 0 1 0 -3.3 0zM243.5 -11.1a1.8 2.3 0 1 0 3.5 0a1.8 2.3 0 1 0 -3.5 0zM251.8 -10.6a1.8 2.5 0 1 0 3.5 0a1.8 2.5 0 1 0 -3.5 0zM256 -10.4a1.6 2.5 0 1 0 3.1 0a1.6 2.5 0 1 0 -3.1 0zM266.7 -11.1a1.7 2.1 0 1 0 3.4 0a1.7 2.1 0 1 0 -3.4 0zM275 -9.9a1.6 2.4 0 1 0 3.2 0a1.6 2.4 0 1 0 -3.2 0z"/>
<path fill="rgb(0,0,140)" d="M217.3 -10.8a1.6 2.2 0 1 0 3.3 0a1.6 2.2 0 1 0 -3.3 0zM231.9 -11a1.7 2.3 0 1 0 3.4 0a1.7 2.3 0 1 0 -3.4 0zM248 -10.9a1.7 2.4 0 1 0 3.5 0a1.7 2.4 0 1 0 -3.5 0z"/>
</g>
</g>
<path d="M-5.75 -61.3 V19.9 H342.1" fill="none" stroke="#262626" stroke-width="1"/>
<path d="M-9 0.00 H-5.75" stroke="#262626" stroke-width="1"/>
<text x="-12.4" y="4.20" text-anchor="end" class="t">0</text>
<path d="M-9 -11.60 H-5.75" stroke="#262626" stroke-width="1"/>
<text x="-12.4" y="-7.40" text-anchor="end" class="t">3</text>
<path d="M-9 -23.21 H-5.75" stroke="#262626" stroke-width="1"/>
<text x="-12.4" y="-19.01" text-anchor="end" class="t">6</text>
<path d="M-9 -34.81 H-5.75" stroke="#262626" stroke-width="1"/>
<text x="-12.4" y="-30.61" text-anchor="end" class="t">9</text>
<path d="M0.00 19.9 V23.1" stroke="#262626" stroke-width="1"/>
<text x="0.00" y="35.4" text-anchor="middle" class="t">0</text>
<path d="M38.68 19.9 V23.1" stroke="#262626" stroke-width="1"/>
<text x="38.68" y="35.4" text-anchor="middle" class="t">10</text>
<path d="M77.36 19.9 V23.1" stroke="#262626" stroke-width="1"/>
<text x="77.36" y="35.4" text-anchor="middle" class="t">20</text>
<path d="M116.04 19.9 V23.1" stroke="#262626" stroke-width="1"/>
<text x="116.04" y="35.4" text-anchor="middle" class="t">30</text>
<path d="M154.72 19.9 V23.1" stroke="#262626" stroke-width="1"/>
<text x="154.72" y="35.4" text-anchor="middle" class="t">40</text>
<path d="M193.40 19.9 V23.1" stroke="#262626" stroke-width="1"/>
<text x="193.40" y="35.4" text-anchor="middle" class="t">50</text>
<path d="M232.08 19.9 V23.1" stroke="#262626" stroke-width="1"/>
<text x="232.08" y="35.4" text-anchor="middle" class="t">60</text>
<path d="M270.76 19.9 V23.1" stroke="#262626" stroke-width="1"/>
<text x="270.76" y="35.4" text-anchor="middle" class="t">70</text>
<path d="M309.44 19.9 V23.1" stroke="#262626" stroke-width="1"/>
<text x="309.44" y="35.4" text-anchor="middle" class="t">80</text>
<text x="168.2" y="50.06" text-anchor="middle" class="t">Longitudinal Distance (m)</text>
<text transform="translate(-26,-19.6) rotate(-90)" x="0" y="0" text-anchor="middle" class="t">Transverse Distance (m)</text>
<path d="M0 0 H297.06 M40.61 -40.61 H337.68" stroke="#000" stroke-width="1.9" fill="none" stroke-linecap="square"/>
<path d="M0 0 L40.61 -40.61 M297.06 0 L337.68 -40.61" stroke="#000" stroke-width="1.9" fill="none" stroke-dasharray="7.4 3.2"/>
<rect x="363.6" y="-60.9" width="4.5" height="80.8" fill="url(#cb)" stroke="#444" stroke-width="0.5"/>
<path d="M368.1 19.90 H371.1" stroke="#262626" stroke-width="1"/>
<text x="374.5" y="24.10" class="t">3</text>
<path d="M368.1 -7.03 H371.1" stroke="#262626" stroke-width="1"/>
<text x="374.5" y="-2.83" class="t">4</text>
<path d="M368.1 -33.96 H371.1" stroke="#262626" stroke-width="1"/>
<text x="374.5" y="-29.76" class="t">5</text>
<path d="M368.1 -60.89 H371.1" stroke="#262626" stroke-width="1"/>
<text x="374.5" y="-56.69" class="t">6</text>
<text transform="translate(394.3,-20.8) rotate(-90)" text-anchor="middle" class="t">Impedance Magnitude</text>
<text transform="translate(407.45,-20.85) rotate(-90)" text-anchor="middle" class="t" textLength="39.5" lengthAdjust="spacing">(10<tspan font-size="8" dy="-4">x</tspan><tspan dy="4"> Ω)</tspan></text></g><g transform="translate(35.2,683.6)"><clipPath id="cl4"><polygon points="4.1,-4.1 301.1,-4.1 333.0,-36.0 36.0,-36.0"/></clipPath>
<g clip-path="url(#cl4)"><g filter="url(#bl)">
<path fill="rgb(255,120,0)" d="M-3 -39H42.8V-30.7H-3zM65.8 -39H69.9V-30.7H65.8zM92.8 -39H97V-30.7H92.8zM104.4 -39H116.3V-30.7H104.4zM119.9 -39H124.1V-30.7H119.9zM127.6 -39H139.5V-30.7H127.6zM158.6 -39H166.6V-30.7H158.6zM324.9 -39H346.7V-30.7H324.9zM34.8 -31H39V-25.7H34.8zM50.3 -31H54.5V-25.7H50.3zM65.8 -31H69.9V-25.7H65.8zM104.4 -31H108.6V-25.7H104.4zM112.2 -31H116.3V-25.7H112.2zM131.5 -31H135.7V-25.7H131.5zM147 -31H151.2V-25.7H147zM324.9 -31H346.7V-25.7H324.9zM27.1 -26H31.2V-20H27.1zM104.4 -26H108.6V-20H104.4zM112.2 -26H116.3V-20H112.2zM119.9 -26H124.1V-20H119.9zM127.6 -26H131.8V-20H127.6zM135.4 -26H147.3V-20H135.4zM150.9 -26H155V-20H150.9zM201.1 -26H205.3V-20H201.1zM317.2 -26H346.7V-20H317.2zM77.4 -20.5H81.5V-14.2H77.4zM85.1 -20.5H89.3V-14.2H85.1zM108.3 -20.5H112.5V-14.2H108.3zM119.9 -20.5H124.1V-14.2H119.9zM135.4 -20.5H139.5V-14.2H135.4zM162.5 -20.5H170.5V-14.2H162.5zM65.8 -14.5H73.8V-9H65.8zM85.1 -14.5H89.3V-9H85.1zM104.4 -14.5H108.6V-9H104.4zM112.2 -14.5H116.3V-9H112.2zM119.9 -14.5H124.1V-9H119.9zM127.6 -14.5H131.8V-9H127.6zM139.2 -14.5H143.4V-9H139.2zM158.6 -14.5H162.8V-9H158.6zM166.3 -14.5H170.5V-9H166.3zM305.6 -14.5H346.7V-9H305.6zM-3 -9.3H11.9V-0.8H-3zM69.6 -9.3H73.8V-0.8H69.6zM85.1 -9.3H89.3V-0.8H85.1zM104.4 -9.3H108.6V-0.8H104.4zM112.2 -9.3H116.3V-0.8H112.2zM127.6 -9.3H131.8V-0.8H127.6zM135.4 -9.3H139.5V-0.8H135.4zM154.7 -9.3H158.9V-0.8H154.7zM166.3 -9.3H170.5V-0.8H166.3zM301.7 -9.3H305.9V-0.8H301.7zM309.4 -9.3H346.7V-0.8H309.4z"/>
<path fill="rgb(190,255,60)" d="M42.5 -39H46.7V-30.7H42.5zM58 -39H62.2V-30.7H58zM166.3 -39H170.5V-30.7H166.3zM205 -39H209.2V-30.7H205zM224.3 -39H228.5V-30.7H224.3zM235.9 -39H240.1V-30.7H235.9zM251.4 -39H255.6V-30.7H251.4zM259.2 -39H263.3V-30.7H259.2zM274.6 -39H278.8V-30.7H274.6zM282.4 -39H286.5V-30.7H282.4zM290.1 -39H294.3V-30.7H290.1zM297.8 -39H302V-30.7H297.8zM305.6 -39H317.5V-30.7H305.6zM38.7 -31H42.8V-25.7H38.7zM69.6 -31H73.8V-25.7H69.6zM108.3 -31H112.5V-25.7H108.3zM166.3 -31H170.5V-25.7H166.3zM50.3 -26H54.5V-20H50.3zM77.4 -26H81.5V-20H77.4zM89 -26H93.1V-20H89zM100.6 -26H104.7V-20H100.6zM116 -26H120.2V-20H116zM131.5 -26H135.7V-20H131.5zM158.6 -26H162.8V-20H158.6zM177.9 -26H182.1V-20H177.9zM235.9 -26H240.1V-20H235.9zM251.4 -26H255.6V-20H251.4zM266.9 -26H271.1V-20H266.9zM274.6 -26H278.8V-20H274.6zM282.4 -26H286.5V-20H282.4zM290.1 -26H294.3V-20H290.1zM297.8 -26H302V-20H297.8zM305.6 -26H309.7V-20H305.6zM23.2 -20.5H27.4V-14.2H23.2zM50.3 -20.5H54.5V-14.2H50.3zM127.6 -20.5H131.8V-14.2H127.6zM139.2 -20.5H143.4V-14.2H139.2zM174.1 -20.5H178.2V-14.2H174.1zM235.9 -20.5H240.1V-14.2H235.9zM251.4 -20.5H255.6V-14.2H251.4zM266.9 -20.5H271.1V-14.2H266.9zM274.6 -20.5H278.8V-14.2H274.6zM290.1 -20.5H294.3V-14.2H290.1zM297.8 -20.5H302V-14.2H297.8zM81.2 -14.5H85.4V-9H81.2zM174.1 -14.5H178.2V-9H174.1zM11.6 -9.3H15.8V-0.8H11.6zM92.8 -9.3H97V-0.8H92.8zM119.9 -9.3H124.1V-0.8H119.9zM139.2 -9.3H143.4V-0.8H139.2zM170.2 -9.3H174.4V-0.8H170.2zM274.6 -9.3H278.8V-0.8H274.6zM282.4 -9.3H286.5V-0.8H282.4zM290.1 -9.3H294.3V-0.8H290.1z"/>
<path fill="rgb(0,215,255)" d="M46.4 -39H50.6V-30.7H46.4zM61.9 -31H66.1V-25.7H61.9zM81.2 -31H89.3V-25.7H81.2zM123.8 -31H127.9V-25.7H123.8zM150.9 -31H166.6V-25.7H150.9zM174.1 -31H178.2V-25.7H174.1zM181.8 -31H201.4V-25.7H181.8zM224.3 -31H236.2V-25.7H224.3zM255.3 -31H259.5V-25.7H255.3zM266.9 -31H271.1V-25.7H266.9zM274.6 -31H278.8V-25.7H274.6zM282.4 -31H286.5V-25.7H282.4zM297.8 -31H302V-25.7H297.8zM305.6 -31H313.6V-25.7H305.6zM61.9 -26H69.9V-20H61.9zM85.1 -26H89.3V-20H85.1zM92.8 -26H97V-20H92.8zM15.5 -14.5H35.1V-9H15.5zM42.5 -14.5H46.7V-9H42.5zM50.3 -14.5H62.2V-9H50.3zM73.5 -14.5H81.5V-9H73.5zM89 -14.5H100.9V-9H89zM135.4 -14.5H139.5V-9H135.4zM154.7 -14.5H158.9V-9H154.7zM170.2 -14.5H174.4V-9H170.2zM185.7 -14.5H189.8V-9H185.7zM193.4 -14.5H213V-9H193.4zM228.2 -14.5H232.4V-9H228.2zM239.8 -14.5H244V-9H239.8zM255.3 -14.5H259.5V-9H255.3zM266.9 -14.5H271.1V-9H266.9zM274.6 -14.5H278.8V-9H274.6zM282.4 -14.5H286.5V-9H282.4zM290.1 -14.5H294.3V-9H290.1zM297.8 -14.5H302V-9H297.8zM23.2 -9.3H27.4V-0.8H23.2zM30.9 -9.3H35.1V-0.8H30.9zM42.5 -9.3H46.7V-0.8H42.5zM50.3 -9.3H54.5V-0.8H50.3zM61.9 -9.3H69.9V-0.8H61.9zM73.5 -9.3H77.7V-0.8H73.5zM185.7 -9.3H193.7V-0.8H185.7zM205 -9.3H209.2V-0.8H205zM212.7 -9.3H216.9V-0.8H212.7zM220.5 -9.3H224.6V-0.8H220.5zM228.2 -9.3H232.4V-0.8H228.2zM235.9 -9.3H240.1V-0.8H235.9zM251.4 -9.3H255.6V-0.8H251.4zM259.2 -9.3H263.3V-0.8H259.2z"/>
<path fill="rgb(30,240,225)" d="M50.3 -39H54.5V-30.7H50.3zM61.9 -39H66.1V-30.7H61.9zM96.7 -39H100.9V-30.7H96.7zM170.2 -39H174.4V-30.7H170.2zM181.8 -39H186V-30.7H181.8zM189.5 -39H193.7V-30.7H189.5zM197.3 -39H201.4V-30.7H197.3zM208.9 -39H213V-30.7H208.9zM216.6 -39H220.8V-30.7H216.6zM228.2 -39H232.4V-30.7H228.2zM243.7 -39H247.9V-30.7H243.7zM266.9 -39H271.1V-30.7H266.9zM54.2 -31H58.3V-25.7H54.2zM89 -31H93.1V-25.7H89zM100.6 -31H104.7V-25.7H100.6zM116 -31H120.2V-25.7H116zM177.9 -31H182.1V-25.7H177.9zM205 -31H209.2V-25.7H205zM220.5 -31H224.6V-25.7H220.5zM239.8 -31H244V-25.7H239.8zM247.6 -31H251.7V-25.7H247.6zM263 -31H267.2V-25.7H263zM46.4 -26H50.6V-20H46.4zM54.2 -26H62.2V-20H54.2zM81.2 -26H85.4V-20H81.2zM108.3 -26H112.5V-20H108.3zM162.5 -26H166.6V-20H162.5zM170.2 -26H174.4V-20H170.2zM181.8 -26H186V-20H181.8zM189.5 -26H201.4V-20H189.5zM205 -26H213V-20H205zM216.6 -26H232.4V-20H216.6zM243.7 -26H247.9V-20H243.7zM259.2 -26H263.3V-20H259.2zM30.9 -20.5H39V-14.2H30.9zM42.5 -20.5H50.6V-14.2H42.5zM54.2 -20.5H62.2V-14.2H54.2zM73.5 -20.5H77.7V-14.2H73.5zM89 -20.5H93.1V-14.2H89zM104.4 -20.5H108.6V-14.2H104.4zM177.9 -20.5H182.1V-14.2H177.9zM185.7 -20.5H193.7V-14.2H185.7zM197.3 -20.5H201.4V-14.2H197.3zM205 -20.5H209.2V-14.2H205zM212.7 -20.5H220.8V-14.2H212.7zM224.3 -20.5H232.4V-14.2H224.3zM243.7 -20.5H247.9V-14.2H243.7zM259.2 -20.5H263.3V-14.2H259.2zM282.4 -20.5H286.5V-14.2H282.4zM61.9 -14.5H66.1V-9H61.9zM123.8 -14.5H127.9V-9H123.8zM177.9 -14.5H182.1V-9H177.9zM247.6 -14.5H251.7V-9H247.6zM263 -14.5H267.2V-9H263zM19.3 -9.3H23.5V-0.8H19.3zM54.2 -9.3H62.2V-0.8H54.2zM89 -9.3H93.1V-0.8H89zM96.7 -9.3H100.9V-0.8H96.7zM131.5 -9.3H135.7V-0.8H131.5zM174.1 -9.3H178.2V-0.8H174.1zM181.8 -9.3H186V-0.8H181.8zM193.4 -9.3H205.3V-0.8H193.4zM208.9 -9.3H213V-0.8H208.9zM216.6 -9.3H220.8V-0.8H216.6zM224.3 -9.3H228.5V-0.8H224.3zM239.8 -9.3H244V-0.8H239.8zM247.6 -9.3H251.7V-0.8H247.6zM255.3 -9.3H259.5V-0.8H255.3zM263 -9.3H267.2V-0.8H263z"/>
<path fill="rgb(100,255,150)" d="M54.2 -39H58.3V-30.7H54.2zM89 -39H93.1V-30.7H89zM116 -39H120.2V-30.7H116zM123.8 -39H127.9V-30.7H123.8zM174.1 -39H178.2V-30.7H174.1zM185.7 -39H189.8V-30.7H185.7zM193.4 -39H197.6V-30.7H193.4zM220.5 -39H224.6V-30.7H220.5zM232.1 -39H236.2V-30.7H232.1zM239.8 -39H244V-30.7H239.8zM247.6 -39H251.7V-30.7H247.6zM255.3 -39H259.5V-30.7H255.3zM263 -39H267.2V-30.7H263zM270.8 -39H274.9V-30.7H270.8zM278.5 -39H282.7V-30.7H278.5zM286.2 -39H290.4V-30.7H286.2zM294 -39H298.1V-30.7H294zM58 -31H62.2V-25.7H58zM77.4 -31H81.5V-25.7H77.4zM212.7 -31H216.9V-25.7H212.7zM294 -31H298.1V-25.7H294zM317.2 -31H321.3V-25.7H317.2zM38.7 -26H42.8V-20H38.7zM73.5 -26H77.7V-20H73.5zM123.8 -26H127.9V-20H123.8zM154.7 -26H158.9V-20H154.7zM166.3 -26H170.5V-20H166.3zM174.1 -26H178.2V-20H174.1zM185.7 -26H189.8V-20H185.7zM212.7 -26H216.9V-20H212.7zM232.1 -26H236.2V-20H232.1zM239.8 -26H244V-20H239.8zM247.6 -26H251.7V-20H247.6zM255.3 -26H259.5V-20H255.3zM263 -26H267.2V-20H263zM270.8 -26H274.9V-20H270.8zM278.5 -26H282.7V-20H278.5zM286.2 -26H290.4V-20H286.2zM294 -26H298.1V-20H294zM301.7 -26H305.9V-20H301.7zM309.4 -26H313.6V-20H309.4zM27.1 -20.5H31.2V-14.2H27.1zM38.7 -20.5H42.8V-14.2H38.7zM61.9 -20.5H66.1V-14.2H61.9zM69.6 -20.5H73.8V-14.2H69.6zM81.2 -20.5H85.4V-14.2H81.2zM92.8 -20.5H97V-14.2H92.8zM100.6 -20.5H104.7V-14.2H100.6zM123.8 -20.5H127.9V-14.2H123.8zM154.7 -20.5H158.9V-14.2H154.7zM170.2 -20.5H174.4V-14.2H170.2zM193.4 -20.5H197.6V-14.2H193.4zM201.1 -20.5H205.3V-14.2H201.1zM208.9 -20.5H213V-14.2H208.9zM220.5 -20.5H224.6V-14.2H220.5zM232.1 -20.5H236.2V-14.2H232.1zM239.8 -20.5H244V-14.2H239.8zM247.6 -20.5H251.7V-14.2H247.6zM255.3 -20.5H259.5V-14.2H255.3zM263 -20.5H267.2V-14.2H263zM270.8 -20.5H274.9V-14.2H270.8zM278.5 -20.5H282.7V-14.2H278.5zM286.2 -20.5H290.4V-14.2H286.2zM294 -20.5H298.1V-14.2H294zM34.8 -14.5H39V-9H34.8zM100.6 -14.5H104.7V-9H100.6zM116 -14.5H120.2V-9H116zM143.1 -14.5H147.3V-9H143.1zM181.8 -14.5H186V-9H181.8zM286.2 -14.5H290.4V-9H286.2zM294 -14.5H298.1V-9H294zM15.5 -9.3H19.6V-0.8H15.5zM27.1 -9.3H31.2V-0.8H27.1zM46.4 -9.3H50.6V-0.8H46.4zM77.4 -9.3H81.5V-0.8H77.4zM100.6 -9.3H104.7V-0.8H100.6zM116 -9.3H120.2V-0.8H116zM150.9 -9.3H155V-0.8H150.9zM177.9 -9.3H182.1V-0.8H177.9zM266.9 -9.3H274.9V-0.8H266.9zM278.5 -9.3H282.7V-0.8H278.5zM286.2 -9.3H290.4V-0.8H286.2z"/>
<path fill="rgb(250,240,0)" d="M69.6 -39H73.8V-30.7H69.6zM100.6 -39H104.7V-30.7H100.6zM177.9 -39H182.1V-30.7H177.9zM201.1 -39H205.3V-30.7H201.1zM212.7 -39H216.9V-30.7H212.7zM301.7 -39H305.9V-30.7H301.7zM317.2 -39H325.2V-30.7H317.2zM42.5 -31H50.6V-25.7H42.5zM92.8 -31H100.9V-25.7H92.8zM170.2 -31H174.4V-25.7H170.2zM201.1 -31H205.3V-25.7H201.1zM321 -31H325.2V-25.7H321zM34.8 -26H39V-20H34.8zM42.5 -26H46.7V-20H42.5zM69.6 -26H73.8V-20H69.6zM96.7 -26H100.9V-20H96.7zM147 -26H151.2V-20H147zM313.3 -26H317.5V-20H313.3zM-3 -20.5H23.5V-14.2H-3zM65.8 -20.5H69.9V-14.2H65.8zM96.7 -20.5H100.9V-14.2H96.7zM131.5 -20.5H135.7V-14.2H131.5zM143.1 -20.5H147.3V-14.2H143.1zM150.9 -20.5H155V-14.2H150.9zM158.6 -20.5H162.8V-14.2H158.6zM181.8 -20.5H186V-14.2H181.8zM301.7 -20.5H346.7V-14.2H301.7zM-3 -14.5H15.8V-9H-3zM38.7 -14.5H42.8V-9H38.7zM46.4 -14.5H50.6V-9H46.4zM131.5 -14.5H135.7V-9H131.5zM150.9 -14.5H155V-9H150.9zM301.7 -14.5H305.9V-9H301.7zM34.8 -9.3H39V-0.8H34.8zM81.2 -9.3H85.4V-0.8H81.2zM123.8 -9.3H127.9V-0.8H123.8zM143.1 -9.3H147.3V-0.8H143.1zM294 -9.3H302V-0.8H294z"/>
<path fill="rgb(240,35,0)" d="M73.5 -39H89.3V-30.7H73.5zM139.2 -39H158.9V-30.7H139.2zM-3 -31H35.1V-25.7H-3zM73.5 -31H77.7V-25.7H73.5zM119.9 -31H124.1V-25.7H119.9zM127.6 -31H131.8V-25.7H127.6zM135.4 -31H147.3V-25.7H135.4zM-3 -26H27.4V-20H-3zM30.9 -26H35.1V-20H30.9zM112.2 -20.5H120.2V-14.2H112.2zM147 -20.5H151.2V-14.2H147zM108.3 -14.5H112.5V-9H108.3zM147 -14.5H151.2V-9H147zM162.5 -14.5H166.6V-9H162.5zM108.3 -9.3H112.5V-0.8H108.3zM147 -9.3H151.2V-0.8H147zM158.6 -9.3H166.6V-0.8H158.6zM305.6 -9.3H309.7V-0.8H305.6z"/>
<path fill="rgb(0,50,245)" d="M208.9 -31H213V-25.7H208.9zM216.6 -31H220.8V-25.7H216.6zM235.9 -31H240.1V-25.7H235.9zM243.7 -31H247.9V-25.7H243.7zM251.4 -31H255.6V-25.7H251.4zM259.2 -31H263.3V-25.7H259.2zM270.8 -31H274.9V-25.7H270.8zM278.5 -31H282.7V-25.7H278.5zM286.2 -31H294.3V-25.7H286.2zM301.7 -31H305.9V-25.7H301.7zM313.3 -31H317.5V-25.7H313.3zM189.5 -14.5H193.7V-9H189.5zM212.7 -14.5H228.5V-9H212.7zM232.1 -14.5H240.1V-9H232.1zM243.7 -14.5H247.9V-9H243.7zM251.4 -14.5H255.6V-9H251.4zM259.2 -14.5H263.3V-9H259.2zM270.8 -14.5H274.9V-9H270.8zM278.5 -14.5H282.7V-9H278.5zM38.7 -9.3H42.8V-0.8H38.7zM232.1 -9.3H236.2V-0.8H232.1zM243.7 -9.3H247.9V-0.8H243.7z"/>
<path fill="rgb(0,25,235)" d="M47.3 -33.8a1.6 2.4 0 1 0 3.1 0a1.6 2.4 0 1 0 -3.1 0zM62.1 -29.1a1.5 2.4 0 1 0 3 0a1.5 2.4 0 1 0 -3 0zM81.3 -28.3a1.6 2.1 0 1 0 3.1 0a1.6 2.1 0 1 0 -3.1 0zM85.4 -28.4a1.5 2.4 0 1 0 3 0a1.5 2.4 0 1 0 -3 0zM124.2 -28.4a1.4 2.3 0 1 0 2.9 0a1.4 2.3 0 1 0 -2.9 0zM151.2 -28.8a1.5 2.3 0 1 0 2.9 0a1.5 2.3 0 1 0 -2.9 0zM154.8 -28.4a1.5 2.1 0 1 0 3 0a1.5 2.1 0 1 0 -3 0zM159.3 -28.6a1.5 2.2 0 1 0 3.1 0a1.5 2.2 0 1 0 -3.1 0zM163.4 -28.9a1.4 2.5 0 1 0 2.9 0a1.4 2.5 0 1 0 -2.9 0zM175 -28.2a1.4 2.4 0 1 0 2.7 0a1.4 2.4 0 1 0 -2.7 0zM182.3 -27.9a1.5 2.5 0 1 0 3 0a1.5 2.5 0 1 0 -3 0zM185.8 -28.7a1.5 2.1 0 1 0 3 0a1.5 2.1 0 1 0 -3 0zM189.7 -29a1.4 2.3 0 1 0 2.8 0a1.4 2.3 0 1 0 -2.8 0zM193.6 -28.8a1.4 2.4 0 1 0 2.7 0a1.4 2.4 0 1 0 -2.7 0zM197.3 -28.4a1.5 2.4 0 1 0 3 0a1.5 2.4 0 1 0 -3 0zM225.1 -28.2a1.5 2.3 0 1 0 2.9 0a1.5 2.3 0 1 0 -2.9 0zM228.9 -28.9a1.4 2.5 0 1 0 2.7 0a1.4 2.5 0 1 0 -2.7 0zM232.5 -28.4a1.5 2.1 0 1 0 2.9 0a1.5 2.1 0 1 0 -2.9 0zM255.7 -28.9a1.4 2.1 0 1 0 2.8 0a1.4 2.1 0 1 0 -2.8 0zM267.2 -28.9a1.4 2.3 0 1 0 2.7 0a1.4 2.3 0 1 0 -2.7 0zM274.6 -28.7a1.6 2.3 0 1 0 3.1 0a1.6 2.3 0 1 0 -3.1 0zM282.6 -28.4a1.4 2.4 0 1 0 2.9 0a1.4 2.4 0 1 0 -2.9 0zM298.4 -28.7a1.5 2.1 0 1 0 2.9 0a1.5 2.1 0 1 0 -2.9 0zM306.4 -28.3a1.4 2.4 0 1 0 2.9 0a1.4 2.4 0 1 0 -2.9 0zM309.4 -28.2a1.5 2.1 0 1 0 2.9 0a1.5 2.1 0 1 0 -2.9 0zM62 -23.8a1.4 2.2 0 1 0 2.8 0a1.4 2.2 0 1 0 -2.8 0zM66.2 -23.4a1.5 2.5 0 1 0 2.9 0a1.5 2.5 0 1 0 -2.9 0zM86 -23.5a1.5 2.2 0 1 0 3 0a1.5 2.2 0 1 0 -3 0zM92.9 -23a1.5 2.1 0 1 0 3 0a1.5 2.1 0 1 0 -3 0zM15.6 -12.2a1.6 2.3 0 1 0 3.1 0a1.6 2.3 0 1 0 -3.1 0zM19.5 -11.6a1.5 2.5 0 1 0 3.1 0a1.5 2.5 0 1 0 -3.1 0zM23.8 -12.5a1.4 2.3 0 1 0 2.8 0a1.4 2.3 0 1 0 -2.8 0zM28.1 -12.5a1.4 2.5 0 1 0 2.8 0a1.4 2.5 0 1 0 -2.8 0zM31.2 -12.4a1.5 2.3 0 1 0 3 0a1.5 2.3 0 1 0 -3 0zM43.5 -11.6a1.4 2.2 0 1 0 2.8 0a1.4 2.2 0 1 0 -2.8 0zM51.2 -12a1.5 2.2 0 1 0 3 0a1.5 2.2 0 1 0 -3 0zM54.8 -11.6a1.4 2.4 0 1 0 2.8 0a1.4 2.4 0 1 0 -2.8 0zM58.6 -11.9a1.5 2.6 0 1 0 3.1 0a1.5 2.6 0 1 0 -3.1 0zM74.5 -11.7a1.4 2.4 0 1 0 2.8 0a1.4 2.4 0 1 0 -2.8 0zM78.3 -11.4a1.5 2.4 0 1 0 2.9 0a1.5 2.4 0 1 0 -2.9 0zM89.5 -12.2a1.4 2.4 0 1 0 2.7 0a1.4 2.4 0 1 0 -2.7 0zM93.4 -12.1a1.5 2.2 0 1 0 3.1 0a1.5 2.2 0 1 0 -3.1 0zM97.5 -12a1.5 2.5 0 1 0 3.1 0a1.5 2.5 0 1 0 -3.1 0zM136.2 -11.8a1.6 2.5 0 1 0 3.1 0a1.6 2.5 0 1 0 -3.1 0zM155.4 -12.5a1.4 2.2 0 1 0 2.8 0a1.4 2.2 0 1 0 -2.8 0zM170.2 -11.8a1.5 2.6 0 1 0 2.9 0a1.5 2.6 0 1 0 -2.9 0zM186.4 -12.2a1.5 2.6 0 1 0 3.1 0a1.5 2.6 0 1 0 -3.1 0zM193.9 -12.1a1.4 2.3 0 1 0 2.8 0a1.4 2.3 0 1 0 -2.8 0zM197.2 -12.2a1.6 2.3 0 1 0 3.1 0a1.6 2.3 0 1 0 -3.1 0zM202 -12a1.4 2.5 0 1 0 2.7 0a1.4 2.5 0 1 0 -2.7 0zM205.1 -12.4a1.4 2.6 0 1 0 2.9 0a1.4 2.6 0 1 0 -2.9 0zM209.2 -12.3a1.4 2.4 0 1 0 2.8 0a1.4 2.4 0 1 0 -2.8 0zM228.3 -11.9a1.6 2.5 0 1 0 3.2 0a1.6 2.5 0 1 0 -3.2 0zM240.2 -11.5a1.5 2.5 0 1 0 3.1 0a1.5 2.5 0 1 0 -3.1 0zM256.2 -11.8a1.4 2.3 0 1 0 2.8 0a1.4 2.3 0 1 0 -2.8 0zM267.3 -11.8a1.4 2.5 0 1 0 2.7 0a1.4 2.5 0 1 0 -2.7 0zM274.8 -12.2a1.5 2.3 0 1 0 3 0a1.5 2.3 0 1 0 -3 0zM283.3 -11.3a1.4 2.4 0 1 0 2.8 0a1.4 2.4 0 1 0 -2.8 0zM290.5 -11.5a1.4 2.5 0 1 0 2.8 0a1.4 2.5 0 1 0 -2.8 0zM297.9 -12.1a1.4 2.3 0 1 0 2.7 0a1.4 2.3 0 1 0 -2.7 0zM23.4 -6.1a1.4 2.4 0 1 0 2.7 0a1.4 2.4 0 1 0 -2.7 0zM31.5 -6.9a1.4 2.6 0 1 0 2.8 0a1.4 2.6 0 1 0 -2.8 0zM42.9 -7.2a1.6 2.4 0 1 0 3.2 0a1.6 2.4 0 1 0 -3.2 0zM50.7 -7.2a1.4 2.3 0 1 0 2.9 0a1.4 2.3 0 1 0 -2.9 0zM62.5 -7a1.6 2.6 0 1 0 3.1 0a1.6 2.6 0 1 0 -3.1 0zM66.4 -6.2a1.4 2.5 0 1 0 2.8 0a1.4 2.5 0 1 0 -2.8 0zM73.5 -6.1a1.4 2.6 0 1 0 2.8 0a1.4 2.6 0 1 0 -2.8 0zM186.6 -6.3a1.4 2.4 0 1 0 2.7 0a1.4 2.4 0 1 0 -2.7 0zM190.1 -7.2a1.5 2.5 0 1 0 3 0a1.5 2.5 0 1 0 -3 0zM205.4 -6.8a1.6 2.4 0 1 0 3.2 0a1.6 2.4 0 1 0 -3.2 0zM212.7 -6.1a1.6 2.5 0 1 0 3.1 0a1.6 2.5 0 1 0 -3.1 0zM221.4 -6.3a1.5 2.6 0 1 0 3 0a1.5 2.6 0 1 0 -3 0zM228.9 -6.3a1.5 2.5 0 1 0 2.9 0a1.5 2.5 0 1 0 -2.9 0zM236.2 -7.2a1.6 2.2 0 1 0 3.1 0a1.6 2.2 0 1 0 -3.1 0zM251.8 -6.2a1.4 2.5 0 1 0 2.9 0a1.4 2.5 0 1 0 -2.9 0zM259.7 -6.7a1.6 2.3 0 1 0 3.1 0a1.6 2.3 0 1 0 -3.1 0z"/>
<path fill="rgb(0,0,225)" d="M209.2 -28.8a1.7 2.5 0 1 0 3.3 0a1.7 2.5 0 1 0 -3.3 0zM217.2 -28.1a1.7 2.5 0 1 0 3.4 0a1.7 2.5 0 1 0 -3.4 0zM236.2 -28.8a1.7 2.4 0 1 0 3.5 0a1.7 2.4 0 1 0 -3.5 0zM243.9 -28.1a1.8 2.4 0 1 0 3.5 0a1.8 2.4 0 1 0 -3.5 0zM251.2 -28.9a1.7 2.3 0 1 0 3.4 0a1.7 2.3 0 1 0 -3.4 0zM259.2 -29a1.6 2.5 0 1 0 3.2 0a1.6 2.5 0 1 0 -3.2 0zM271.1 -28.5a1.6 2.3 0 1 0 3.2 0a1.6 2.3 0 1 0 -3.2 0zM278.7 -28.7a1.8 2.4 0 1 0 3.5 0a1.8 2.4 0 1 0 -3.5 0zM286.2 -28.7a1.8 2.2 0 1 0 3.5 0a1.8 2.2 0 1 0 -3.5 0zM290.6 -29.1a1.8 2.4 0 1 0 3.5 0a1.8 2.4 0 1 0 -3.5 0zM302.5 -28.9a1.6 2.3 0 1 0 3.1 0a1.6 2.3 0 1 0 -3.1 0zM313.6 -28.1a1.6 2.5 0 1 0 3.3 0a1.6 2.5 0 1 0 -3.3 0zM189.7 -11.7a1.8 2.4 0 1 0 3.5 0a1.8 2.4 0 1 0 -3.5 0zM213.4 -12.3a1.6 2.7 0 1 0 3.3 0a1.6 2.7 0 1 0 -3.3 0zM216.7 -12.3a1.6 2.3 0 1 0 3.1 0a1.6 2.3 0 1 0 -3.1 0zM220.8 -12.2a1.7 2.6 0 1 0 3.3 0a1.7 2.6 0 1 0 -3.3 0zM224.6 -12.2a1.8 2.4 0 1 0 3.6 0a1.8 2.4 0 1 0 -3.6 0zM232.4 -11.7a1.6 2.4 0 1 0 3.1 0a1.6 2.4 0 1 0 -3.1 0zM236 -12.3a1.7 2.7 0 1 0 3.3 0a1.7 2.7 0 1 0 -3.3 0zM244.3 -11.9a1.7 2.4 0 1 0 3.4 0a1.7 2.4 0 1 0 -3.4 0zM252.2 -12.3a1.6 2.4 0 1 0 3.2 0a1.6 2.4 0 1 0 -3.2 0zM259.7 -11.6a1.6 2.6 0 1 0 3.3 0a1.6 2.6 0 1 0 -3.3 0zM271.4 -12.3a1.7 2.3 0 1 0 3.4 0a1.7 2.3 0 1 0 -3.4 0zM278.5 -11.6a1.6 2.5 0 1 0 3.2 0a1.6 2.5 0 1 0 -3.2 0zM38.7 -6.2a1.6 2.3 0 1 0 3.2 0a1.6 2.3 0 1 0 -3.2 0zM232.1 -6.8a1.7 2.5 0 1 0 3.5 0a1.7 2.5 0 1 0 -3.5 0zM244 -6.2a1.6 2.7 0 1 0 3.1 0a1.6 2.7 0 1 0 -3.1 0z"/>
</g>
<rect x="0" y="-21.1" width="357.7" height="1.4" fill="#fff"/>
</g>
<path d="M-5.75 -61.3 V19.9 H342.1" fill="none" stroke="#262626" stroke-width="1"/>
<path d="M-9 0.00 H-5.75" stroke="#262626" stroke-width="1"/>
<text x="-12.4" y="4.20" text-anchor="end" class="t">0</text>
<path d="M-9 -11.60 H-5.75" stroke="#262626" stroke-width="1"/>
<text x="-12.4" y="-7.40" text-anchor="end" class="t">3</text>
<path d="M-9 -23.21 H-5.75" stroke="#262626" stroke-width="1"/>
<text x="-12.4" y="-19.01" text-anchor="end" class="t">6</text>
<path d="M-9 -34.81 H-5.75" stroke="#262626" stroke-width="1"/>
<text x="-12.4" y="-30.61" text-anchor="end" class="t">9</text>
<path d="M0.00 19.9 V23.1" stroke="#262626" stroke-width="1"/>
<text x="0.00" y="35.4" text-anchor="middle" class="t">0</text>
<path d="M38.68 19.9 V23.1" stroke="#262626" stroke-width="1"/>
<text x="38.68" y="35.4" text-anchor="middle" class="t">10</text>
<path d="M77.36 19.9 V23.1" stroke="#262626" stroke-width="1"/>
<text x="77.36" y="35.4" text-anchor="middle" class="t">20</text>
<path d="M116.04 19.9 V23.1" stroke="#262626" stroke-width="1"/>
<text x="116.04" y="35.4" text-anchor="middle" class="t">30</text>
<path d="M154.72 19.9 V23.1" stroke="#262626" stroke-width="1"/>
<text x="154.72" y="35.4" text-anchor="middle" class="t">40</text>
<path d="M193.40 19.9 V23.1" stroke="#262626" stroke-width="1"/>
<text x="193.40" y="35.4" text-anchor="middle" class="t">50</text>
<path d="M232.08 19.9 V23.1" stroke="#262626" stroke-width="1"/>
<text x="232.08" y="35.4" text-anchor="middle" class="t">60</text>
<path d="M270.76 19.9 V23.1" stroke="#262626" stroke-width="1"/>
<text x="270.76" y="35.4" text-anchor="middle" class="t">70</text>
<path d="M309.44 19.9 V23.1" stroke="#262626" stroke-width="1"/>
<text x="309.44" y="35.4" text-anchor="middle" class="t">80</text>
<text x="168.2" y="50.06" text-anchor="middle" class="t">Longitudinal Distance (m)</text>
<text transform="translate(-26,-19.6) rotate(-90)" x="0" y="0" text-anchor="middle" class="t">Transverse Distance (m)</text>
<path d="M0 0 H297.06 M40.61 -40.61 H337.68" stroke="#000" stroke-width="1.9" fill="none" stroke-linecap="square"/>
<path d="M0 0 L40.61 -40.61 M297.06 0 L337.68 -40.61" stroke="#000" stroke-width="1.9" fill="none" stroke-dasharray="7.4 3.2"/>
<rect x="363.6" y="-60.9" width="4.5" height="80.8" fill="url(#cb)" stroke="#444" stroke-width="0.5"/>
<path d="M368.1 19.90 H371.1" stroke="#262626" stroke-width="1"/>
<text x="374.5" y="24.10" class="t">3</text>
<path d="M368.1 -7.03 H371.1" stroke="#262626" stroke-width="1"/>
<text x="374.5" y="-2.83" class="t">4</text>
<path d="M368.1 -33.96 H371.1" stroke="#262626" stroke-width="1"/>
<text x="374.5" y="-29.76" class="t">5</text>
<path d="M368.1 -60.89 H371.1" stroke="#262626" stroke-width="1"/>
<text x="374.5" y="-56.69" class="t">6</text>
<text transform="translate(394.3,-20.8) rotate(-90)" text-anchor="middle" class="t">Impedance Magnitude</text>
<text transform="translate(407.45,-20.85) rotate(-90)" text-anchor="middle" class="t" textLength="39.5" lengthAdjust="spacing">(10<tspan font-size="8" dy="-4">x</tspan><tspan dy="4"> Ω)</tspan></text></g><path fill="none" stroke="#d860d8" stroke-width="1" stroke-linecap="round" d="M48.5 832.4L52.5 836.4M62.2 820.2L63.5 822.9M65.3 820.2L66.2 824.3M63.5 828.8L64 836M70.7 814.8L72.1 817.5M75.7 830.1L76.1 835M81.5 818L81.5 836M82.9 812.6L83.3 817.1M86.5 830.1L86.9 835M89.6 813.5L90.1 818.9M91.9 820.2L89.2 823.8M94.1 812.6L94.6 827M95.9 820.7L95.9 836M100.4 805L100.4 836M104.4 810.8L104.4 836M111.2 811.7L111.2 817.1M115.7 811.7L115.7 836.9M119.3 811.7L119.3 818M122 824.3L122 836M123.8 811.7L123.8 817M128.3 808L128.3 836.9M130.5 814L130.5 835.8M134.5 820.7L134.5 827M136.3 812.6L136.3 836M141.3 809L141.3 829.7M144.4 827.9L144.4 836M146.7 812.6L146.7 827M148.9 818L148.9 834.2M153.9 809L153.9 826M156.6 809L156.6 832.4M158.8 810.8L158.8 818M162.9 814.4L162.9 836M163.8 810.8L163.8 818M166.9 808.1L166.9 834.2M169.2 811.7L169.2 836M171 811.7L171 818.9M174.6 809L174.6 823.4M177.7 808.1L177.7 835M180.8 828.8L180.8 836.9M183.1 824.3L183.1 829.7M187.1 827.9L187.1 836M188.9 811.7L188.9 829.7M194.3 811.7L194.3 817.1M193.9 824.3L193.9 836M198.4 830.6L198.4 836M205.6 811.7L205.6 836M212.8 811.7L212.8 828.5M212.8 828.5L210 829.7M216.8 811.7L216.3 818M218.1 818.9L217.7 823.4M215.4 825.2L215.9 835M217.2 830.6L217.7 836M220.4 812.1L220.8 817.1M223.5 811.7L224 819.8M224.9 819.8L225.8 836M231.6 821.1L231.6 826.5M233.4 811.7L233 817.1M233.4 830.1L233.4 836M235.7 811.7L236.1 819.8M237 821.6L237.5 831.5M241.5 802.7L242 829.7M240.6 830.6L241.1 836M249.2 826L249.6 835M251.9 811.7L252.3 821.6M253.7 830.6L253.7 836M255.4 824.3L255.4 835.8M262.9 830.4L262.9 835.8M264.2 812.8L264.2 827.7M279.7 812.2L281.1 817.5M286.5 811.5L286.5 818.2M296.6 812.8L296.6 817.5M277.7 829.7L279 836.4M281.1 829.7L281.7 836.4M296.6 827L295.9 836.4M314.1 811.5L315.4 836.4M323.5 811.5L324.9 824.3M333.6 811.5L334.8 823.6M342.4 818.2L344.2 823.6M355.3 811.5L358.6 820.2"/>
<path fill="#008000" d="M46.2 837.1a0.7 0.7 0 1 0 1.4 0a0.7 0.7 0 1 0 -1.4 0zM63.0 836.9a1.0 1.0 0 1 0 2.0 0a1.0 1.0 0 1 0 -2.0 0zM80.7 823.4a0.8 0.8 0 1 0 1.6 0a0.8 0.8 0 1 0 -1.6 0zM81.0 832.8a1.0 1.0 0 1 0 2.0 0a1.0 1.0 0 1 0 -2.0 0zM88.4 811.7a1.2 1.2 0 1 0 2.4 0a1.2 1.2 0 1 0 -2.4 0zM87.4 824.3a0.9 0.9 0 1 0 1.8 0a0.9 0.9 0 1 0 -1.8 0zM71.6 810.3a0.5 0.5 0 1 0 1.0 0a0.5 0.5 0 1 0 -1.0 0zM84.2 809a0.5 0.5 0 1 0 1.0 0a0.5 0.5 0 1 0 -1.0 0zM98.0 813.7a1.0 5.2 0 1 0 2.0 0a1.0 5.2 0 1 0 -2.0 0zM97.7 824.3a0.9 1.0 0 1 0 1.8 0a0.9 1.0 0 1 0 -1.8 0zM99.9 830.6a0.9 1.2 0 1 0 1.8 0a0.9 1.2 0 1 0 -1.8 0zM103.2 823.4a0.8 1.2 0 1 0 1.6 0a0.8 1.2 0 1 0 -1.6 0zM103.5 832a0.9 1.6 0 1 0 1.8 0a0.9 1.6 0 1 0 -1.8 0zM105.5 835.5a0.7 0.7 0 1 0 1.4 0a0.7 0.7 0 1 0 -1.4 0zM107.0 811.2a2.6 3.1 0 1 0 5.2 0a2.6 3.1 0 1 0 -5.2 0zM111.8 809.2a4.2 1.5 0 1 0 8.4 0a4.2 1.5 0 1 0 -8.4 0zM114.8 822.8a0.9 1.2 0 1 0 1.8 0a0.9 1.2 0 1 0 -1.8 0zM120.7 827a0.8 0.9 0 1 0 1.6 0a0.8 0.9 0 1 0 -1.6 0zM121.6 831a0.8 0.9 0 1 0 1.6 0a0.8 0.9 0 1 0 -1.6 0zM123.9 812.6a0.8 0.8 0 1 0 1.6 0a0.8 0.8 0 1 0 -1.6 0zM127.4 816.7a0.9 6.5 0 1 0 1.8 0a0.9 6.5 0 1 0 -1.8 0zM128.4 830.6a0.8 0.9 0 1 0 1.6 0a0.8 0.9 0 1 0 -1.6 0zM124.9 834.6a0.7 0.7 0 1 0 1.4 0a0.7 0.7 0 1 0 -1.4 0zM123.6 837a0.6 0.6 0 1 0 1.2 0a0.6 0.6 0 1 0 -1.2 0zM129.4 838.2a0.6 0.6 0 1 0 1.2 0a0.6 0.6 0 1 0 -1.2 0zM131.7 836a0.6 0.6 0 1 0 1.2 0a0.6 0.6 0 1 0 -1.2 0zM140.2 819.5a0.8 6.2 0 1 0 1.6 0a0.8 6.2 0 1 0 -1.6 0zM139.6 822.5a1.2 1.4 0 1 0 2.4 0a1.2 1.4 0 1 0 -2.4 0zM146.4 816.6a0.7 4 0 1 0 1.4 0a0.7 4 0 1 0 -1.4 0zM148.1 824.3a4.2 3.5 0 1 0 8.4 0a4.2 3.5 0 1 0 -8.4 0zM154.5 816.2a0.9 6.2 0 1 0 1.8 0a0.9 6.2 0 1 0 -1.8 0zM143.7 833.7a0.9 2.3 0 1 0 1.8 0a0.9 2.3 0 1 0 -1.8 0zM158.6 834.2a0.7 0.7 0 1 0 1.4 0a0.7 0.7 0 1 0 -1.4 0zM160.7 830.6a0.8 0.8 0 1 0 1.6 0a0.8 0.8 0 1 0 -1.6 0zM163.7 817.5a1.0 3.2 0 1 0 2.0 0a1.0 3.2 0 1 0 -2.0 0zM166.7 822.5a1.7 4.5 0 1 0 3.4 0a1.7 4.5 0 1 0 -3.4 0zM169.2 810.8a2.7 1.6 0 1 0 5.4 0a2.7 1.6 0 1 0 -5.4 0zM171.3 807.2a0.6 0.6 0 1 0 1.2 0a0.6 0.6 0 1 0 -1.2 0zM164.4 835a0.7 0.7 0 1 0 1.4 0a0.7 0.7 0 1 0 -1.4 0zM166.7 836a0.7 0.7 0 1 0 1.4 0a0.7 0.7 0 1 0 -1.4 0zM136.5 836.9a0.7 0.7 0 1 0 1.4 0a0.7 0.7 0 1 0 -1.4 0zM147.9 835a0.6 0.6 0 1 0 1.2 0a0.6 0.6 0 1 0 -1.2 0zM156.1 837.8a0.5 0.5 0 1 0 1.0 0a0.5 0.5 0 1 0 -1.0 0zM175.7 810.8a2.0 2.0 0 1 0 4.0 0a2.0 2.0 0 1 0 -4.0 0zM175.8 819.2a1.0 3.4 0 1 0 2.0 0a1.0 3.4 0 1 0 -2.0 0zM177.7 820.7a0.9 1.0 0 1 0 1.8 0a0.9 1.0 0 1 0 -1.8 0zM175.1 826a0.8 0.8 0 1 0 1.6 0a0.8 0.8 0 1 0 -1.6 0zM186.7 810.8a2.9 1.7 0 1 0 5.8 0a2.9 1.7 0 1 0 -5.8 0zM187.6 815.3a0.9 2.7 0 1 0 1.8 0a0.9 2.7 0 1 0 -1.8 0zM197.6 810.3a2.2 2.3 0 1 0 4.4 0a2.2 2.3 0 1 0 -4.4 0zM199.4 812.6a0.8 0.8 0 1 0 1.6 0a0.8 0.8 0 1 0 -1.6 0zM208.1 816.2a1.0 1.0 0 1 0 2.0 0a1.0 1.0 0 1 0 -2.0 0zM211.4 806.7a0.5 0.5 0 1 0 1.0 0a0.5 0.5 0 1 0 -1.0 0zM208.7 808.5a0.5 0.5 0 1 0 1.0 0a0.5 0.5 0 1 0 -1.0 0zM204.5 823.8a0.8 3.2 0 1 0 1.6 0a0.8 3.2 0 1 0 -1.6 0zM203.8 833.7a1.8 4.1 0 1 0 3.6 0a1.8 4.1 0 1 0 -3.6 0zM208.2 834.2a1.4 1.8 0 1 0 2.8 0a1.4 1.8 0 1 0 -2.8 0zM180.3 833.3a1.0 3.6 0 1 0 2.0 0a1.0 3.6 0 1 0 -2.0 0zM185.6 833.3a0.8 2.7 0 1 0 1.6 0a0.8 2.7 0 1 0 -1.6 0zM201.0 829.2a0.5 0.5 0 1 0 1.0 0a0.5 0.5 0 1 0 -1.0 0zM214.0 829.2a0.5 0.5 0 1 0 1.0 0a0.5 0.5 0 1 0 -1.0 0zM216.4 808.5a1.3 1.3 0 1 0 2.6 0a1.3 1.3 0 1 0 -2.6 0zM224.5 821.8a0.8 1.8 0 1 0 1.6 0a0.8 1.8 0 1 0 -1.6 0zM224.7 836.9a1.1 1.1 0 1 0 2.2 0a1.1 1.1 0 1 0 -2.2 0zM223.5 828.8a0.5 0.5 0 1 0 1.0 0a0.5 0.5 0 1 0 -1.0 0zM232.0 817.5a1.0 1.0 0 1 0 2.0 0a1.0 1.0 0 1 0 -2.0 0zM234.8 822a1.3 1.0 0 1 0 2.6 0a1.3 1.0 0 1 0 -2.6 0zM239.7 811.7a0.9 0.9 0 1 0 1.8 0a0.9 0.9 0 1 0 -1.8 0zM239.9 818a1.2 1.2 0 1 0 2.4 0a1.2 1.2 0 1 0 -2.4 0zM239.9 822.9a1.2 1.2 0 1 0 2.4 0a1.2 1.2 0 1 0 -2.4 0zM250.5 811.2a0.9 0.9 0 1 0 1.8 0a0.9 0.9 0 1 0 -1.8 0zM214.5 828.8a0.5 0.5 0 1 0 1.0 0a0.5 0.5 0 1 0 -1.0 0zM263.9 817.5a1.0 1.0 0 1 0 2.0 0a1.0 1.0 0 1 0 -2.0 0zM294.6 831.7a0.6 0.6 0 1 0 1.2 0a0.6 0.6 0 1 0 -1.2 0z"/><g transform="translate(35.2,843.6) scale(1.023)">
<path d="M-5.75 -61.3 V19.9 H342.1" fill="none" stroke="#262626" stroke-width="1"/>
<path d="M-9 0.00 H-5.75" stroke="#262626" stroke-width="1"/>
<text x="-12.4" y="4.20" text-anchor="end" class="t">0</text>
<path d="M-9 -11.60 H-5.75" stroke="#262626" stroke-width="1"/>
<text x="-12.4" y="-7.40" text-anchor="end" class="t">3</text>
<path d="M-9 -23.21 H-5.75" stroke="#262626" stroke-width="1"/>
<text x="-12.4" y="-19.01" text-anchor="end" class="t">6</text>
<path d="M-9 -34.81 H-5.75" stroke="#262626" stroke-width="1"/>
<text x="-12.4" y="-30.61" text-anchor="end" class="t">9</text>
<path d="M0.00 19.9 V23.1" stroke="#262626" stroke-width="1"/>
<text x="0.00" y="35.4" text-anchor="middle" class="t">0</text>
<path d="M38.68 19.9 V23.1" stroke="#262626" stroke-width="1"/>
<text x="38.68" y="35.4" text-anchor="middle" class="t">10</text>
<path d="M77.36 19.9 V23.1" stroke="#262626" stroke-width="1"/>
<text x="77.36" y="35.4" text-anchor="middle" class="t">20</text>
<path d="M116.04 19.9 V23.1" stroke="#262626" stroke-width="1"/>
<text x="116.04" y="35.4" text-anchor="middle" class="t">30</text>
<path d="M154.72 19.9 V23.1" stroke="#262626" stroke-width="1"/>
<text x="154.72" y="35.4" text-anchor="middle" class="t">40</text>
<path d="M193.40 19.9 V23.1" stroke="#262626" stroke-width="1"/>
<text x="193.40" y="35.4" text-anchor="middle" class="t">50</text>
<path d="M232.08 19.9 V23.1" stroke="#262626" stroke-width="1"/>
<text x="232.08" y="35.4" text-anchor="middle" class="t">60</text>
<path d="M270.76 19.9 V23.1" stroke="#262626" stroke-width="1"/>
<text x="270.76" y="35.4" text-anchor="middle" class="t">70</text>
<path d="M309.44 19.9 V23.1" stroke="#262626" stroke-width="1"/>
<text x="309.44" y="35.4" text-anchor="middle" class="t">80</text>
<text x="168.2" y="50.06" text-anchor="middle" class="t">Longitudinal Distance (m)</text>
<text transform="translate(-26,-19.6) rotate(-90)" x="0" y="0" text-anchor="middle" class="t">Transverse Distance (m)</text>
<path d="M0 0 H297.06 M40.61 -40.61 H337.68" stroke="#000" stroke-width="1.9" fill="none" stroke-linecap="square"/>
<path d="M0 0 L40.61 -40.61 M297.06 0 L337.68 -40.61" stroke="#000" stroke-width="1.9" fill="none" stroke-dasharray="7.4 3.2"/></g><text x="200.8" y="153.85" text-anchor="middle" class="c">(a)</text><text x="200.8" y="304.05" text-anchor="middle" class="c">(b)</text><text x="200.8" y="454.55" text-anchor="middle" class="c">(c)</text><text x="200.8" y="602.35" text-anchor="middle" class="c">(d)</text><text x="200.8" y="752.95" text-anchor="middle" class="c">(e)</text><text x="200.8" y="912.95" text-anchor="middle" class="c">(f)</text><rect x="283.1" y="760.6" width="102.4" height="32.1" rx="2" fill="#fff" fill-opacity="0.8" stroke="#d0d0d0" stroke-width="0.9"/><path d="M286.6 768.9H307.6" stroke="#d860d8" stroke-width="1.6"/><rect x="286.8" y="779.7" width="20.8" height="7.4" fill="#008000"/><text x="315.1" y="772.4" class="lg" textLength="27.6" lengthAdjust="spacingAndGlyphs">Crack</text><text x="315.2" y="787.0" class="lg" textLength="65.6" lengthAdjust="spacingAndGlyphs">Delamination</text>
</svg>
</body></html>
